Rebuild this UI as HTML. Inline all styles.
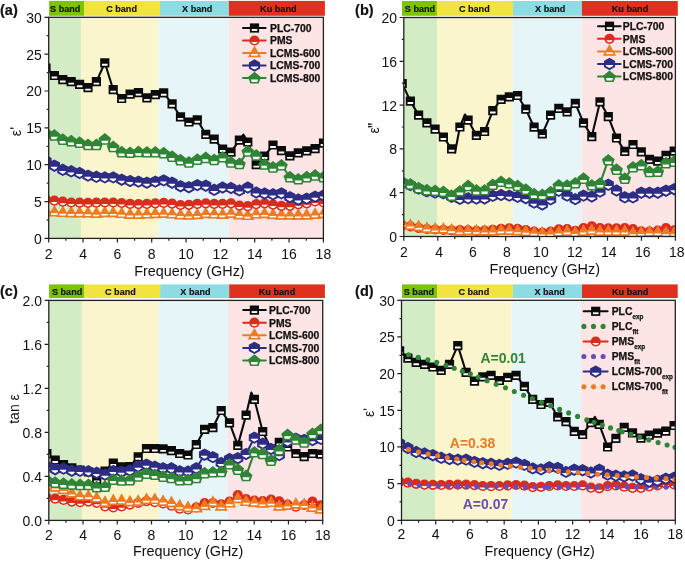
<!DOCTYPE html><html><head><meta charset="utf-8"><style>html,body{margin:0;padding:0;background:#fff;}svg{display:block;font-family:"Liberation Sans",sans-serif;will-change:transform;}</style></head><body>
<svg width="685" height="561" viewBox="0 0 685 561">
<defs>
<clipPath id="clipa"><rect x="48.7" y="17.3" width="274.70" height="221.10"/></clipPath>
<clipPath id="clipb"><rect x="403.8" y="17.5" width="271.60" height="219.00"/></clipPath>
<clipPath id="clipc"><rect x="48.8" y="300.4" width="273.90" height="220.00"/></clipPath>
<clipPath id="clipd"><rect x="401.5" y="300.3" width="273.80" height="220.00"/></clipPath>
</defs>
<rect x="48.70" y="17.30" width="32.20" height="221.10" fill="#d3ecc5"/>
<rect x="80.90" y="17.30" width="77.50" height="221.10" fill="#faf5cd"/>
<rect x="158.40" y="17.30" width="70.50" height="221.10" fill="#e6f5f8"/>
<rect x="228.90" y="17.30" width="94.50" height="221.10" fill="#fde4e5"/>
<rect x="49.10" y="0.90" width="35.10" height="14.90" fill="#7dc400"/>
<text transform="translate(65.25 12.00) scale(1 1.08)" font-size="9.1" font-weight="bold" text-anchor="middle" fill="#111" stroke="#111" stroke-width="0.15">S band</text>
<rect x="84.20" y="0.90" width="75.80" height="14.90" fill="#f2e440"/>
<text transform="translate(121.55 12.00) scale(1 1.08)" font-size="9.1" font-weight="bold" text-anchor="middle" fill="#111" stroke="#111" stroke-width="0.15">C band</text>
<rect x="160.00" y="0.90" width="68.90" height="14.90" fill="#8edce3"/>
<text transform="translate(197.20 12.00) scale(1 1.08)" font-size="9.1" font-weight="bold" text-anchor="middle" fill="#111" stroke="#111" stroke-width="0.15">X band</text>
<rect x="228.90" y="0.90" width="96.00" height="14.90" fill="#e0301f"/>
<text transform="translate(278.30 12.00) scale(1 1.08)" font-size="9.1" font-weight="bold" text-anchor="middle" fill="#111" stroke="#111" stroke-width="0.15">Ku band</text>
<g clip-path="url(#clipa)">
<path d="M45.96,68.00 L54.37,75.50 L62.78,79.60 L71.19,81.70 L79.60,84.30 L88.01,87.70 L96.42,81.70 L104.83,62.80 L113.24,89.70 L121.65,98.50 L130.06,94.20 L138.47,92.70 L146.88,97.90 L155.29,94.70 L163.70,92.80 L172.11,103.80 L180.52,116.90 L188.93,122.00 L197.34,119.80 L205.75,134.40 L214.16,139.20 L222.57,149.00 L230.98,152.20 L239.39,140.20 L243.40,134.50 L247.80,142.00 L256.21,164.70 L264.62,156.00 L273.03,145.00 L281.44,150.60 L289.85,155.90 L298.26,152.90 L306.67,150.90 L315.08,148.70 L323.49,143.10" fill="none" stroke="#0b0b0b" stroke-width="2.1" stroke-linejoin="round"/>
<path d="M41.4,63.4 L50.6,63.4 L50.6,72.6 L41.4,72.6Z" fill="#0b0b0b"/><path d="M43.2,69.0 L48.8,69.0 L48.8,70.9 L43.2,70.9Z" fill="#fff"/>
<path d="M49.8,70.9 L59.0,70.9 L59.0,80.1 L49.8,80.1Z" fill="#0b0b0b"/><path d="M51.6,76.5 L57.2,76.5 L57.2,78.4 L51.6,78.4Z" fill="#fff"/>
<path d="M58.2,75.0 L67.4,75.0 L67.4,84.2 L58.2,84.2Z" fill="#0b0b0b"/><path d="M60.0,80.6 L65.6,80.6 L65.6,82.5 L60.0,82.5Z" fill="#fff"/>
<path d="M66.6,77.1 L75.8,77.1 L75.8,86.3 L66.6,86.3Z" fill="#0b0b0b"/><path d="M68.4,82.7 L74.0,82.7 L74.0,84.6 L68.4,84.6Z" fill="#fff"/>
<path d="M75.0,79.7 L84.2,79.7 L84.2,88.9 L75.0,88.9Z" fill="#0b0b0b"/><path d="M76.8,85.3 L82.4,85.3 L82.4,87.2 L76.8,87.2Z" fill="#fff"/>
<path d="M83.4,83.1 L92.6,83.1 L92.6,92.3 L83.4,92.3Z" fill="#0b0b0b"/><path d="M85.2,88.7 L90.8,88.7 L90.8,90.6 L85.2,90.6Z" fill="#fff"/>
<path d="M91.8,77.1 L101.0,77.1 L101.0,86.3 L91.8,86.3Z" fill="#0b0b0b"/><path d="M93.6,82.7 L99.2,82.7 L99.2,84.6 L93.6,84.6Z" fill="#fff"/>
<path d="M100.2,58.2 L109.4,58.2 L109.4,67.4 L100.2,67.4Z" fill="#0b0b0b"/><path d="M102.0,63.8 L107.6,63.8 L107.6,65.7 L102.0,65.7Z" fill="#fff"/>
<path d="M108.6,85.1 L117.8,85.1 L117.8,94.3 L108.6,94.3Z" fill="#0b0b0b"/><path d="M110.4,90.7 L116.0,90.7 L116.0,92.6 L110.4,92.6Z" fill="#fff"/>
<path d="M117.1,93.9 L126.2,93.9 L126.2,103.1 L117.1,103.1Z" fill="#0b0b0b"/><path d="M118.9,99.5 L124.5,99.5 L124.5,101.4 L118.9,101.4Z" fill="#fff"/>
<path d="M125.5,89.6 L134.7,89.6 L134.7,98.8 L125.5,98.8Z" fill="#0b0b0b"/><path d="M127.3,95.2 L132.9,95.2 L132.9,97.1 L127.3,97.1Z" fill="#fff"/>
<path d="M133.9,88.1 L143.1,88.1 L143.1,97.3 L133.9,97.3Z" fill="#0b0b0b"/><path d="M135.7,93.7 L141.3,93.7 L141.3,95.6 L135.7,95.6Z" fill="#fff"/>
<path d="M142.3,93.3 L151.5,93.3 L151.5,102.5 L142.3,102.5Z" fill="#0b0b0b"/><path d="M144.1,98.9 L149.7,98.9 L149.7,100.8 L144.1,100.8Z" fill="#fff"/>
<path d="M150.7,90.1 L159.9,90.1 L159.9,99.3 L150.7,99.3Z" fill="#0b0b0b"/><path d="M152.5,95.7 L158.1,95.7 L158.1,97.6 L152.5,97.6Z" fill="#fff"/>
<path d="M159.1,88.2 L168.3,88.2 L168.3,97.4 L159.1,97.4Z" fill="#0b0b0b"/><path d="M160.9,93.8 L166.5,93.8 L166.5,95.7 L160.9,95.7Z" fill="#fff"/>
<path d="M167.5,99.2 L176.7,99.2 L176.7,108.4 L167.5,108.4Z" fill="#0b0b0b"/><path d="M169.3,104.8 L174.9,104.8 L174.9,106.7 L169.3,106.7Z" fill="#fff"/>
<path d="M175.9,112.3 L185.1,112.3 L185.1,121.5 L175.9,121.5Z" fill="#0b0b0b"/><path d="M177.7,117.9 L183.3,117.9 L183.3,119.8 L177.7,119.8Z" fill="#fff"/>
<path d="M184.3,117.4 L193.5,117.4 L193.5,126.6 L184.3,126.6Z" fill="#0b0b0b"/><path d="M186.1,123.0 L191.7,123.0 L191.7,124.9 L186.1,124.9Z" fill="#fff"/>
<path d="M192.7,115.2 L201.9,115.2 L201.9,124.4 L192.7,124.4Z" fill="#0b0b0b"/><path d="M194.5,120.8 L200.1,120.8 L200.1,122.7 L194.5,122.7Z" fill="#fff"/>
<path d="M201.2,129.8 L210.3,129.8 L210.3,139.0 L201.2,139.0Z" fill="#0b0b0b"/><path d="M202.9,135.4 L208.6,135.4 L208.6,137.3 L202.9,137.3Z" fill="#fff"/>
<path d="M209.6,134.6 L218.8,134.6 L218.8,143.8 L209.6,143.8Z" fill="#0b0b0b"/><path d="M211.4,140.2 L217.0,140.2 L217.0,142.1 L211.4,142.1Z" fill="#fff"/>
<path d="M218.0,144.4 L227.2,144.4 L227.2,153.6 L218.0,153.6Z" fill="#0b0b0b"/><path d="M219.8,150.0 L225.4,150.0 L225.4,151.9 L219.8,151.9Z" fill="#fff"/>
<path d="M226.4,147.6 L235.6,147.6 L235.6,156.8 L226.4,156.8Z" fill="#0b0b0b"/><path d="M228.2,153.2 L233.8,153.2 L233.8,155.1 L228.2,155.1Z" fill="#fff"/>
<path d="M234.8,135.6 L244.0,135.6 L244.0,144.8 L234.8,144.8Z" fill="#0b0b0b"/><path d="M236.6,141.2 L242.2,141.2 L242.2,143.1 L236.6,143.1Z" fill="#fff"/>
<path d="M243.2,137.4 L252.4,137.4 L252.4,146.6 L243.2,146.6Z" fill="#0b0b0b"/><path d="M245.0,143.0 L250.6,143.0 L250.6,144.9 L245.0,144.9Z" fill="#fff"/>
<path d="M251.6,160.1 L260.8,160.1 L260.8,169.3 L251.6,169.3Z" fill="#0b0b0b"/><path d="M253.4,165.7 L259.0,165.7 L259.0,167.6 L253.4,167.6Z" fill="#fff"/>
<path d="M260.0,151.4 L269.2,151.4 L269.2,160.6 L260.0,160.6Z" fill="#0b0b0b"/><path d="M261.8,157.0 L267.4,157.0 L267.4,158.9 L261.8,158.9Z" fill="#fff"/>
<path d="M268.4,140.4 L277.6,140.4 L277.6,149.6 L268.4,149.6Z" fill="#0b0b0b"/><path d="M270.2,146.0 L275.8,146.0 L275.8,147.9 L270.2,147.9Z" fill="#fff"/>
<path d="M276.8,146.0 L286.0,146.0 L286.0,155.2 L276.8,155.2Z" fill="#0b0b0b"/><path d="M278.6,151.6 L284.2,151.6 L284.2,153.5 L278.6,153.5Z" fill="#fff"/>
<path d="M285.2,151.3 L294.5,151.3 L294.5,160.5 L285.2,160.5Z" fill="#0b0b0b"/><path d="M287.1,156.9 L292.7,156.9 L292.7,158.8 L287.1,158.8Z" fill="#fff"/>
<path d="M293.7,148.3 L302.9,148.3 L302.9,157.5 L293.7,157.5Z" fill="#0b0b0b"/><path d="M295.5,153.9 L301.1,153.9 L301.1,155.8 L295.5,155.8Z" fill="#fff"/>
<path d="M302.1,146.3 L311.3,146.3 L311.3,155.5 L302.1,155.5Z" fill="#0b0b0b"/><path d="M303.9,151.9 L309.5,151.9 L309.5,153.8 L303.9,153.8Z" fill="#fff"/>
<path d="M310.5,144.1 L319.7,144.1 L319.7,153.3 L310.5,153.3Z" fill="#0b0b0b"/><path d="M312.3,149.7 L317.9,149.7 L317.9,151.6 L312.3,151.6Z" fill="#fff"/>
<path d="M318.9,138.5 L328.1,138.5 L328.1,147.7 L318.9,147.7Z" fill="#0b0b0b"/><path d="M320.7,144.1 L326.3,144.1 L326.3,146.0 L320.7,146.0Z" fill="#fff"/>
<path d="M45.96,211.50 L54.37,212.30 L62.78,212.80 L71.19,213.10 L79.60,213.10 L88.01,213.30 L96.42,213.70 L104.83,212.90 L113.24,212.90 L121.65,213.80 L130.06,214.60 L138.47,214.60 L146.88,214.30 L155.29,213.90 L163.70,213.70 L172.11,214.30 L180.52,215.10 L188.93,215.40 L197.34,215.00 L205.75,213.90 L214.16,214.30 L222.57,214.60 L230.98,213.70 L239.39,215.10 L247.80,215.80 L256.21,214.30 L264.62,213.90 L273.03,215.00 L281.44,215.50 L289.85,215.50 L298.26,215.50 L306.67,215.50 L315.08,214.60 L323.49,213.80" fill="none" stroke="#ee7b22" stroke-width="2.1" stroke-linejoin="round"/>
<path d="M46.0,204.1 L52.6,215.8 L39.4,215.8Z" fill="#ee7b22"/><path d="M42.6,212.5 L49.4,212.5 L49.4,214.1 L42.6,214.1Z" fill="#fff"/>
<path d="M54.4,204.9 L61.0,216.6 L47.8,216.6Z" fill="#ee7b22"/><path d="M51.0,213.3 L57.8,213.3 L57.8,214.9 L51.0,214.9Z" fill="#fff"/>
<path d="M62.8,205.4 L69.4,217.1 L56.2,217.1Z" fill="#ee7b22"/><path d="M59.4,213.8 L66.2,213.8 L66.2,215.4 L59.4,215.4Z" fill="#fff"/>
<path d="M71.2,205.7 L77.8,217.4 L64.6,217.4Z" fill="#ee7b22"/><path d="M67.8,214.1 L74.6,214.1 L74.6,215.7 L67.8,215.7Z" fill="#fff"/>
<path d="M79.6,205.7 L86.2,217.4 L73.0,217.4Z" fill="#ee7b22"/><path d="M76.2,214.1 L83.0,214.1 L83.0,215.7 L76.2,215.7Z" fill="#fff"/>
<path d="M88.0,205.9 L94.6,217.6 L81.4,217.6Z" fill="#ee7b22"/><path d="M84.6,214.3 L91.4,214.3 L91.4,215.9 L84.6,215.9Z" fill="#fff"/>
<path d="M96.4,206.3 L103.0,218.0 L89.8,218.0Z" fill="#ee7b22"/><path d="M93.0,214.7 L99.8,214.7 L99.8,216.3 L93.0,216.3Z" fill="#fff"/>
<path d="M104.8,205.5 L111.4,217.2 L98.2,217.2Z" fill="#ee7b22"/><path d="M101.4,213.9 L108.2,213.9 L108.2,215.5 L101.4,215.5Z" fill="#fff"/>
<path d="M113.2,205.5 L119.8,217.2 L106.6,217.2Z" fill="#ee7b22"/><path d="M109.8,213.9 L116.6,213.9 L116.6,215.5 L109.8,215.5Z" fill="#fff"/>
<path d="M121.7,206.4 L128.2,218.1 L115.1,218.1Z" fill="#ee7b22"/><path d="M118.2,214.8 L125.1,214.8 L125.1,216.4 L118.2,216.4Z" fill="#fff"/>
<path d="M130.1,207.2 L136.7,218.9 L123.5,218.9Z" fill="#ee7b22"/><path d="M126.7,215.6 L133.5,215.6 L133.5,217.2 L126.7,217.2Z" fill="#fff"/>
<path d="M138.5,207.2 L145.1,218.9 L131.9,218.9Z" fill="#ee7b22"/><path d="M135.1,215.6 L141.9,215.6 L141.9,217.2 L135.1,217.2Z" fill="#fff"/>
<path d="M146.9,206.9 L153.5,218.6 L140.3,218.6Z" fill="#ee7b22"/><path d="M143.5,215.3 L150.3,215.3 L150.3,216.9 L143.5,216.9Z" fill="#fff"/>
<path d="M155.3,206.5 L161.9,218.2 L148.7,218.2Z" fill="#ee7b22"/><path d="M151.9,214.9 L158.7,214.9 L158.7,216.5 L151.9,216.5Z" fill="#fff"/>
<path d="M163.7,206.3 L170.3,218.0 L157.1,218.0Z" fill="#ee7b22"/><path d="M160.3,214.7 L167.1,214.7 L167.1,216.3 L160.3,216.3Z" fill="#fff"/>
<path d="M172.1,206.9 L178.7,218.6 L165.5,218.6Z" fill="#ee7b22"/><path d="M168.7,215.3 L175.5,215.3 L175.5,216.9 L168.7,216.9Z" fill="#fff"/>
<path d="M180.5,207.7 L187.1,219.4 L173.9,219.4Z" fill="#ee7b22"/><path d="M177.1,216.1 L183.9,216.1 L183.9,217.7 L177.1,217.7Z" fill="#fff"/>
<path d="M188.9,208.0 L195.5,219.7 L182.3,219.7Z" fill="#ee7b22"/><path d="M185.5,216.4 L192.3,216.4 L192.3,218.0 L185.5,218.0Z" fill="#fff"/>
<path d="M197.3,207.6 L203.9,219.3 L190.7,219.3Z" fill="#ee7b22"/><path d="M193.9,216.0 L200.7,216.0 L200.7,217.6 L193.9,217.6Z" fill="#fff"/>
<path d="M205.8,206.5 L212.3,218.2 L199.2,218.2Z" fill="#ee7b22"/><path d="M202.3,214.9 L209.2,214.9 L209.2,216.5 L202.3,216.5Z" fill="#fff"/>
<path d="M214.2,206.9 L220.8,218.6 L207.6,218.6Z" fill="#ee7b22"/><path d="M210.8,215.3 L217.6,215.3 L217.6,216.9 L210.8,216.9Z" fill="#fff"/>
<path d="M222.6,207.2 L229.2,218.9 L216.0,218.9Z" fill="#ee7b22"/><path d="M219.2,215.6 L226.0,215.6 L226.0,217.2 L219.2,217.2Z" fill="#fff"/>
<path d="M231.0,206.3 L237.6,218.0 L224.4,218.0Z" fill="#ee7b22"/><path d="M227.6,214.7 L234.4,214.7 L234.4,216.3 L227.6,216.3Z" fill="#fff"/>
<path d="M239.4,207.7 L246.0,219.4 L232.8,219.4Z" fill="#ee7b22"/><path d="M236.0,216.1 L242.8,216.1 L242.8,217.7 L236.0,217.7Z" fill="#fff"/>
<path d="M247.8,208.4 L254.4,220.1 L241.2,220.1Z" fill="#ee7b22"/><path d="M244.4,216.8 L251.2,216.8 L251.2,218.4 L244.4,218.4Z" fill="#fff"/>
<path d="M256.2,206.9 L262.8,218.6 L249.6,218.6Z" fill="#ee7b22"/><path d="M252.8,215.3 L259.6,215.3 L259.6,216.9 L252.8,216.9Z" fill="#fff"/>
<path d="M264.6,206.5 L271.2,218.2 L258.0,218.2Z" fill="#ee7b22"/><path d="M261.2,214.9 L268.0,214.9 L268.0,216.5 L261.2,216.5Z" fill="#fff"/>
<path d="M273.0,207.6 L279.6,219.3 L266.4,219.3Z" fill="#ee7b22"/><path d="M269.6,216.0 L276.4,216.0 L276.4,217.6 L269.6,217.6Z" fill="#fff"/>
<path d="M281.4,208.1 L288.0,219.8 L274.8,219.8Z" fill="#ee7b22"/><path d="M278.0,216.5 L284.8,216.5 L284.8,218.1 L278.0,218.1Z" fill="#fff"/>
<path d="M289.9,208.1 L296.5,219.8 L283.2,219.8Z" fill="#ee7b22"/><path d="M286.5,216.5 L293.2,216.5 L293.2,218.1 L286.5,218.1Z" fill="#fff"/>
<path d="M298.3,208.1 L304.9,219.8 L291.7,219.8Z" fill="#ee7b22"/><path d="M294.9,216.5 L301.7,216.5 L301.7,218.1 L294.9,218.1Z" fill="#fff"/>
<path d="M306.7,208.1 L313.3,219.8 L300.1,219.8Z" fill="#ee7b22"/><path d="M303.3,216.5 L310.1,216.5 L310.1,218.1 L303.3,218.1Z" fill="#fff"/>
<path d="M315.1,207.2 L321.7,218.9 L308.5,218.9Z" fill="#ee7b22"/><path d="M311.7,215.6 L318.5,215.6 L318.5,217.2 L311.7,217.2Z" fill="#fff"/>
<path d="M323.5,206.4 L330.1,218.1 L316.9,218.1Z" fill="#ee7b22"/><path d="M320.1,214.8 L326.9,214.8 L326.9,216.4 L320.1,216.4Z" fill="#fff"/>
<path d="M45.96,199.50 L54.37,200.60 L62.78,201.70 L71.19,202.50 L79.60,202.70 L88.01,202.90 L96.42,202.70 L104.83,202.50 L113.24,202.50 L121.65,203.00 L130.06,203.90 L138.47,204.10 L146.88,203.90 L155.29,203.30 L163.70,202.90 L172.11,203.60 L180.52,205.00 L188.93,204.80 L197.34,203.90 L205.75,203.30 L214.16,203.90 L222.57,203.90 L230.98,203.30 L239.39,205.60 L247.80,206.20 L256.21,204.10 L264.62,203.30 L273.03,204.60 L281.44,205.80 L289.85,205.80 L298.26,204.30 L306.67,203.30 L315.08,201.50 L323.49,202.40" fill="none" stroke="#da2c1c" stroke-width="2.1" stroke-linejoin="round"/>
<circle cx="46.0" cy="199.5" r="5.1" fill="#da2c1c"/><path d="M42.69,201.00 L49.23,201.00 A3.6,3.6 0 0 1 42.69,201.00Z" fill="#fff"/>
<circle cx="54.4" cy="200.6" r="5.1" fill="#da2c1c"/><path d="M51.10,202.10 L57.64,202.10 A3.6,3.6 0 0 1 51.10,202.10Z" fill="#fff"/>
<circle cx="62.8" cy="201.7" r="5.1" fill="#da2c1c"/><path d="M59.51,203.20 L66.05,203.20 A3.6,3.6 0 0 1 59.51,203.20Z" fill="#fff"/>
<circle cx="71.2" cy="202.5" r="5.1" fill="#da2c1c"/><path d="M67.92,204.00 L74.46,204.00 A3.6,3.6 0 0 1 67.92,204.00Z" fill="#fff"/>
<circle cx="79.6" cy="202.7" r="5.1" fill="#da2c1c"/><path d="M76.33,204.20 L82.87,204.20 A3.6,3.6 0 0 1 76.33,204.20Z" fill="#fff"/>
<circle cx="88.0" cy="202.9" r="5.1" fill="#da2c1c"/><path d="M84.74,204.40 L91.28,204.40 A3.6,3.6 0 0 1 84.74,204.40Z" fill="#fff"/>
<circle cx="96.4" cy="202.7" r="5.1" fill="#da2c1c"/><path d="M93.15,204.20 L99.69,204.20 A3.6,3.6 0 0 1 93.15,204.20Z" fill="#fff"/>
<circle cx="104.8" cy="202.5" r="5.1" fill="#da2c1c"/><path d="M101.56,204.00 L108.10,204.00 A3.6,3.6 0 0 1 101.56,204.00Z" fill="#fff"/>
<circle cx="113.2" cy="202.5" r="5.1" fill="#da2c1c"/><path d="M109.97,204.00 L116.51,204.00 A3.6,3.6 0 0 1 109.97,204.00Z" fill="#fff"/>
<circle cx="121.7" cy="203.0" r="5.1" fill="#da2c1c"/><path d="M118.38,204.50 L124.92,204.50 A3.6,3.6 0 0 1 118.38,204.50Z" fill="#fff"/>
<circle cx="130.1" cy="203.9" r="5.1" fill="#da2c1c"/><path d="M126.79,205.40 L133.33,205.40 A3.6,3.6 0 0 1 126.79,205.40Z" fill="#fff"/>
<circle cx="138.5" cy="204.1" r="5.1" fill="#da2c1c"/><path d="M135.20,205.60 L141.74,205.60 A3.6,3.6 0 0 1 135.20,205.60Z" fill="#fff"/>
<circle cx="146.9" cy="203.9" r="5.1" fill="#da2c1c"/><path d="M143.61,205.40 L150.15,205.40 A3.6,3.6 0 0 1 143.61,205.40Z" fill="#fff"/>
<circle cx="155.3" cy="203.3" r="5.1" fill="#da2c1c"/><path d="M152.02,204.80 L158.56,204.80 A3.6,3.6 0 0 1 152.02,204.80Z" fill="#fff"/>
<circle cx="163.7" cy="202.9" r="5.1" fill="#da2c1c"/><path d="M160.43,204.40 L166.97,204.40 A3.6,3.6 0 0 1 160.43,204.40Z" fill="#fff"/>
<circle cx="172.1" cy="203.6" r="5.1" fill="#da2c1c"/><path d="M168.84,205.10 L175.38,205.10 A3.6,3.6 0 0 1 168.84,205.10Z" fill="#fff"/>
<circle cx="180.5" cy="205.0" r="5.1" fill="#da2c1c"/><path d="M177.25,206.50 L183.79,206.50 A3.6,3.6 0 0 1 177.25,206.50Z" fill="#fff"/>
<circle cx="188.9" cy="204.8" r="5.1" fill="#da2c1c"/><path d="M185.66,206.30 L192.20,206.30 A3.6,3.6 0 0 1 185.66,206.30Z" fill="#fff"/>
<circle cx="197.3" cy="203.9" r="5.1" fill="#da2c1c"/><path d="M194.07,205.40 L200.61,205.40 A3.6,3.6 0 0 1 194.07,205.40Z" fill="#fff"/>
<circle cx="205.8" cy="203.3" r="5.1" fill="#da2c1c"/><path d="M202.48,204.80 L209.02,204.80 A3.6,3.6 0 0 1 202.48,204.80Z" fill="#fff"/>
<circle cx="214.2" cy="203.9" r="5.1" fill="#da2c1c"/><path d="M210.89,205.40 L217.43,205.40 A3.6,3.6 0 0 1 210.89,205.40Z" fill="#fff"/>
<circle cx="222.6" cy="203.9" r="5.1" fill="#da2c1c"/><path d="M219.30,205.40 L225.84,205.40 A3.6,3.6 0 0 1 219.30,205.40Z" fill="#fff"/>
<circle cx="231.0" cy="203.3" r="5.1" fill="#da2c1c"/><path d="M227.71,204.80 L234.25,204.80 A3.6,3.6 0 0 1 227.71,204.80Z" fill="#fff"/>
<circle cx="239.4" cy="205.6" r="5.1" fill="#da2c1c"/><path d="M236.12,207.10 L242.66,207.10 A3.6,3.6 0 0 1 236.12,207.10Z" fill="#fff"/>
<circle cx="247.8" cy="206.2" r="5.1" fill="#da2c1c"/><path d="M244.53,207.70 L251.07,207.70 A3.6,3.6 0 0 1 244.53,207.70Z" fill="#fff"/>
<circle cx="256.2" cy="204.1" r="5.1" fill="#da2c1c"/><path d="M252.94,205.60 L259.48,205.60 A3.6,3.6 0 0 1 252.94,205.60Z" fill="#fff"/>
<circle cx="264.6" cy="203.3" r="5.1" fill="#da2c1c"/><path d="M261.35,204.80 L267.89,204.80 A3.6,3.6 0 0 1 261.35,204.80Z" fill="#fff"/>
<circle cx="273.0" cy="204.6" r="5.1" fill="#da2c1c"/><path d="M269.76,206.10 L276.30,206.10 A3.6,3.6 0 0 1 269.76,206.10Z" fill="#fff"/>
<circle cx="281.4" cy="205.8" r="5.1" fill="#da2c1c"/><path d="M278.17,207.30 L284.71,207.30 A3.6,3.6 0 0 1 278.17,207.30Z" fill="#fff"/>
<circle cx="289.9" cy="205.8" r="5.1" fill="#da2c1c"/><path d="M286.58,207.30 L293.12,207.30 A3.6,3.6 0 0 1 286.58,207.30Z" fill="#fff"/>
<circle cx="298.3" cy="204.3" r="5.1" fill="#da2c1c"/><path d="M294.99,205.80 L301.53,205.80 A3.6,3.6 0 0 1 294.99,205.80Z" fill="#fff"/>
<circle cx="306.7" cy="203.3" r="5.1" fill="#da2c1c"/><path d="M303.40,204.80 L309.94,204.80 A3.6,3.6 0 0 1 303.40,204.80Z" fill="#fff"/>
<circle cx="315.1" cy="201.5" r="5.1" fill="#da2c1c"/><path d="M311.81,203.00 L318.35,203.00 A3.6,3.6 0 0 1 311.81,203.00Z" fill="#fff"/>
<circle cx="323.5" cy="202.4" r="5.1" fill="#da2c1c"/><path d="M320.22,203.90 L326.76,203.90 A3.6,3.6 0 0 1 320.22,203.90Z" fill="#fff"/>
<path d="M45.96,161.00 L54.37,165.70 L62.78,169.80 L71.19,171.30 L79.60,173.00 L88.01,175.60 L96.42,176.80 L104.83,177.40 L113.24,177.40 L121.65,179.70 L130.06,181.00 L138.47,181.60 L146.88,182.70 L155.29,181.60 L163.70,180.40 L172.11,182.70 L180.52,186.20 L188.93,187.20 L197.34,185.10 L205.75,185.70 L214.16,189.80 L222.57,187.50 L230.98,188.00 L239.39,190.40 L247.80,187.50 L256.21,192.50 L264.62,193.50 L273.03,194.30 L281.44,193.40 L289.85,197.10 L298.26,199.50 L306.67,198.60 L315.08,196.60 L323.49,195.50" fill="none" stroke="#2e2d85" stroke-width="2.1" stroke-linejoin="round"/>
<path d="M46.0,154.8 L51.6,157.9 L51.6,164.1 L46.0,167.2 L40.4,164.1 L40.4,157.9Z" fill="#2e2d85"/><path d="M42.4,162.1 L49.6,162.1 L49.6,162.9 L46.0,165.1 L42.4,162.9Z" fill="#fff"/>
<path d="M54.4,159.5 L60.0,162.6 L60.0,168.8 L54.4,171.9 L48.8,168.8 L48.8,162.6Z" fill="#2e2d85"/><path d="M50.8,166.8 L58.0,166.8 L58.0,167.6 L54.4,169.8 L50.8,167.6Z" fill="#fff"/>
<path d="M62.8,163.6 L68.4,166.7 L68.4,172.9 L62.8,176.0 L57.2,172.9 L57.2,166.7Z" fill="#2e2d85"/><path d="M59.2,170.9 L66.4,170.9 L66.4,171.7 L62.8,173.9 L59.2,171.7Z" fill="#fff"/>
<path d="M71.2,165.1 L76.8,168.2 L76.8,174.4 L71.2,177.5 L65.6,174.4 L65.6,168.2Z" fill="#2e2d85"/><path d="M67.6,172.4 L74.8,172.4 L74.8,173.2 L71.2,175.4 L67.6,173.2Z" fill="#fff"/>
<path d="M79.6,166.8 L85.2,169.9 L85.2,176.1 L79.6,179.2 L74.0,176.1 L74.0,169.9Z" fill="#2e2d85"/><path d="M76.0,174.1 L83.2,174.1 L83.2,174.9 L79.6,177.1 L76.0,174.9Z" fill="#fff"/>
<path d="M88.0,169.4 L93.6,172.5 L93.6,178.7 L88.0,181.8 L82.4,178.7 L82.4,172.5Z" fill="#2e2d85"/><path d="M84.4,176.7 L91.6,176.7 L91.6,177.5 L88.0,179.7 L84.4,177.5Z" fill="#fff"/>
<path d="M96.4,170.6 L102.0,173.7 L102.0,179.9 L96.4,183.0 L90.8,179.9 L90.8,173.7Z" fill="#2e2d85"/><path d="M92.8,177.9 L100.0,177.9 L100.0,178.7 L96.4,180.9 L92.8,178.7Z" fill="#fff"/>
<path d="M104.8,171.2 L110.4,174.3 L110.4,180.5 L104.8,183.6 L99.2,180.5 L99.2,174.3Z" fill="#2e2d85"/><path d="M101.2,178.5 L108.4,178.5 L108.4,179.3 L104.8,181.5 L101.2,179.3Z" fill="#fff"/>
<path d="M113.2,171.2 L118.8,174.3 L118.8,180.5 L113.2,183.6 L107.6,180.5 L107.6,174.3Z" fill="#2e2d85"/><path d="M109.6,178.5 L116.8,178.5 L116.8,179.3 L113.2,181.5 L109.6,179.3Z" fill="#fff"/>
<path d="M121.7,173.5 L127.2,176.6 L127.2,182.8 L121.7,185.9 L116.1,182.8 L116.1,176.6Z" fill="#2e2d85"/><path d="M118.1,180.8 L125.2,180.8 L125.2,181.6 L121.7,183.8 L118.1,181.6Z" fill="#fff"/>
<path d="M130.1,174.8 L135.7,177.9 L135.7,184.1 L130.1,187.2 L124.5,184.1 L124.5,177.9Z" fill="#2e2d85"/><path d="M126.5,182.1 L133.7,182.1 L133.7,182.9 L130.1,185.1 L126.5,182.9Z" fill="#fff"/>
<path d="M138.5,175.4 L144.1,178.5 L144.1,184.7 L138.5,187.8 L132.9,184.7 L132.9,178.5Z" fill="#2e2d85"/><path d="M134.9,182.7 L142.1,182.7 L142.1,183.5 L138.5,185.7 L134.9,183.5Z" fill="#fff"/>
<path d="M146.9,176.5 L152.5,179.6 L152.5,185.8 L146.9,188.9 L141.3,185.8 L141.3,179.6Z" fill="#2e2d85"/><path d="M143.3,183.8 L150.5,183.8 L150.5,184.6 L146.9,186.8 L143.3,184.6Z" fill="#fff"/>
<path d="M155.3,175.4 L160.9,178.5 L160.9,184.7 L155.3,187.8 L149.7,184.7 L149.7,178.5Z" fill="#2e2d85"/><path d="M151.7,182.7 L158.9,182.7 L158.9,183.5 L155.3,185.7 L151.7,183.5Z" fill="#fff"/>
<path d="M163.7,174.2 L169.3,177.3 L169.3,183.5 L163.7,186.6 L158.1,183.5 L158.1,177.3Z" fill="#2e2d85"/><path d="M160.1,181.5 L167.3,181.5 L167.3,182.3 L163.7,184.5 L160.1,182.3Z" fill="#fff"/>
<path d="M172.1,176.5 L177.7,179.6 L177.7,185.8 L172.1,188.9 L166.5,185.8 L166.5,179.6Z" fill="#2e2d85"/><path d="M168.5,183.8 L175.7,183.8 L175.7,184.6 L172.1,186.8 L168.5,184.6Z" fill="#fff"/>
<path d="M180.5,180.0 L186.1,183.1 L186.1,189.3 L180.5,192.4 L174.9,189.3 L174.9,183.1Z" fill="#2e2d85"/><path d="M176.9,187.3 L184.1,187.3 L184.1,188.1 L180.5,190.3 L176.9,188.1Z" fill="#fff"/>
<path d="M188.9,181.0 L194.5,184.1 L194.5,190.3 L188.9,193.4 L183.3,190.3 L183.3,184.1Z" fill="#2e2d85"/><path d="M185.3,188.3 L192.5,188.3 L192.5,189.1 L188.9,191.3 L185.3,189.1Z" fill="#fff"/>
<path d="M197.3,178.9 L202.9,182.0 L202.9,188.2 L197.3,191.3 L191.7,188.2 L191.7,182.0Z" fill="#2e2d85"/><path d="M193.7,186.2 L200.9,186.2 L200.9,187.0 L197.3,189.2 L193.7,187.0Z" fill="#fff"/>
<path d="M205.8,179.5 L211.3,182.6 L211.3,188.8 L205.8,191.9 L200.2,188.8 L200.2,182.6Z" fill="#2e2d85"/><path d="M202.2,186.8 L209.3,186.8 L209.3,187.6 L205.8,189.8 L202.2,187.6Z" fill="#fff"/>
<path d="M214.2,183.6 L219.8,186.7 L219.8,192.9 L214.2,196.0 L208.6,192.9 L208.6,186.7Z" fill="#2e2d85"/><path d="M210.6,190.9 L217.8,190.9 L217.8,191.7 L214.2,193.9 L210.6,191.7Z" fill="#fff"/>
<path d="M222.6,181.3 L228.2,184.4 L228.2,190.6 L222.6,193.7 L217.0,190.6 L217.0,184.4Z" fill="#2e2d85"/><path d="M219.0,188.6 L226.2,188.6 L226.2,189.4 L222.6,191.6 L219.0,189.4Z" fill="#fff"/>
<path d="M231.0,181.8 L236.6,184.9 L236.6,191.1 L231.0,194.2 L225.4,191.1 L225.4,184.9Z" fill="#2e2d85"/><path d="M227.4,189.1 L234.6,189.1 L234.6,189.9 L231.0,192.1 L227.4,189.9Z" fill="#fff"/>
<path d="M239.4,184.2 L245.0,187.3 L245.0,193.5 L239.4,196.6 L233.8,193.5 L233.8,187.3Z" fill="#2e2d85"/><path d="M235.8,191.5 L243.0,191.5 L243.0,192.3 L239.4,194.5 L235.8,192.3Z" fill="#fff"/>
<path d="M247.8,181.3 L253.4,184.4 L253.4,190.6 L247.8,193.7 L242.2,190.6 L242.2,184.4Z" fill="#2e2d85"/><path d="M244.2,188.6 L251.4,188.6 L251.4,189.4 L247.8,191.6 L244.2,189.4Z" fill="#fff"/>
<path d="M256.2,186.3 L261.8,189.4 L261.8,195.6 L256.2,198.7 L250.6,195.6 L250.6,189.4Z" fill="#2e2d85"/><path d="M252.6,193.6 L259.8,193.6 L259.8,194.4 L256.2,196.6 L252.6,194.4Z" fill="#fff"/>
<path d="M264.6,187.3 L270.2,190.4 L270.2,196.6 L264.6,199.7 L259.0,196.6 L259.0,190.4Z" fill="#2e2d85"/><path d="M261.0,194.6 L268.2,194.6 L268.2,195.4 L264.6,197.6 L261.0,195.4Z" fill="#fff"/>
<path d="M273.0,188.1 L278.6,191.2 L278.6,197.4 L273.0,200.5 L267.4,197.4 L267.4,191.2Z" fill="#2e2d85"/><path d="M269.4,195.4 L276.6,195.4 L276.6,196.2 L273.0,198.4 L269.4,196.2Z" fill="#fff"/>
<path d="M281.4,187.2 L287.0,190.3 L287.0,196.5 L281.4,199.6 L275.8,196.5 L275.8,190.3Z" fill="#2e2d85"/><path d="M277.8,194.5 L285.0,194.5 L285.0,195.3 L281.4,197.5 L277.8,195.3Z" fill="#fff"/>
<path d="M289.9,190.9 L295.5,194.0 L295.5,200.2 L289.9,203.3 L284.2,200.2 L284.2,194.0Z" fill="#2e2d85"/><path d="M286.2,198.2 L293.5,198.2 L293.5,199.0 L289.9,201.2 L286.2,199.0Z" fill="#fff"/>
<path d="M298.3,193.3 L303.9,196.4 L303.9,202.6 L298.3,205.7 L292.7,202.6 L292.7,196.4Z" fill="#2e2d85"/><path d="M294.7,200.6 L301.9,200.6 L301.9,201.4 L298.3,203.6 L294.7,201.4Z" fill="#fff"/>
<path d="M306.7,192.4 L312.3,195.5 L312.3,201.7 L306.7,204.8 L301.1,201.7 L301.1,195.5Z" fill="#2e2d85"/><path d="M303.1,199.7 L310.3,199.7 L310.3,200.5 L306.7,202.7 L303.1,200.5Z" fill="#fff"/>
<path d="M315.1,190.4 L320.7,193.5 L320.7,199.7 L315.1,202.8 L309.5,199.7 L309.5,193.5Z" fill="#2e2d85"/><path d="M311.5,197.7 L318.7,197.7 L318.7,198.5 L315.1,200.7 L311.5,198.5Z" fill="#fff"/>
<path d="M323.5,189.3 L329.1,192.4 L329.1,198.6 L323.5,201.7 L317.9,198.6 L317.9,192.4Z" fill="#2e2d85"/><path d="M319.9,196.6 L327.1,196.6 L327.1,197.4 L323.5,199.6 L319.9,197.4Z" fill="#fff"/>
<path d="M45.96,133.00 L54.37,135.30 L62.78,139.40 L71.19,141.00 L79.60,142.40 L88.01,144.70 L96.42,144.70 L104.83,139.20 L113.24,146.70 L121.65,151.90 L130.06,152.60 L138.47,151.80 L146.88,152.10 L155.29,152.10 L163.70,152.90 L172.11,156.40 L180.52,159.90 L188.93,162.20 L197.34,159.40 L205.75,157.70 L214.16,159.80 L222.57,157.10 L230.98,162.30 L239.39,163.70 L247.80,151.20 L256.21,155.30 L264.62,164.30 L273.03,167.20 L281.44,165.10 L289.85,177.00 L298.26,179.10 L306.67,177.00 L315.08,175.30 L323.49,177.00" fill="none" stroke="#2f8535" stroke-width="2.1" stroke-linejoin="round"/>
<path d="M46.0,126.8 L52.4,132.1 L50.2,138.5 L41.8,138.5 L39.6,132.1Z" fill="#2f8535"/><path d="M42.5,134.5 L49.5,134.5 L48.8,137.0 L43.2,137.0Z" fill="#fff"/>
<path d="M54.4,129.1 L60.8,134.4 L58.6,140.8 L50.2,140.8 L48.0,134.4Z" fill="#2f8535"/><path d="M50.9,136.8 L57.9,136.8 L57.2,139.3 L51.6,139.3Z" fill="#fff"/>
<path d="M62.8,133.2 L69.2,138.5 L67.0,144.9 L58.6,144.9 L56.4,138.5Z" fill="#2f8535"/><path d="M59.3,140.9 L66.3,140.9 L65.6,143.4 L60.0,143.4Z" fill="#fff"/>
<path d="M71.2,134.8 L77.6,140.1 L75.4,146.5 L67.0,146.5 L64.8,140.1Z" fill="#2f8535"/><path d="M67.7,142.5 L74.7,142.5 L74.0,145.0 L68.4,145.0Z" fill="#fff"/>
<path d="M79.6,136.2 L86.0,141.5 L83.8,147.9 L75.4,147.9 L73.2,141.5Z" fill="#2f8535"/><path d="M76.1,143.9 L83.1,143.9 L82.4,146.4 L76.8,146.4Z" fill="#fff"/>
<path d="M88.0,138.5 L94.4,143.8 L92.2,150.2 L83.8,150.2 L81.6,143.8Z" fill="#2f8535"/><path d="M84.5,146.2 L91.5,146.2 L90.8,148.7 L85.2,148.7Z" fill="#fff"/>
<path d="M96.4,138.5 L102.8,143.8 L100.6,150.2 L92.2,150.2 L90.0,143.8Z" fill="#2f8535"/><path d="M92.9,146.2 L99.9,146.2 L99.2,148.7 L93.6,148.7Z" fill="#fff"/>
<path d="M104.8,133.0 L111.2,138.3 L109.0,144.7 L100.6,144.7 L98.4,138.3Z" fill="#2f8535"/><path d="M101.3,140.7 L108.3,140.7 L107.6,143.2 L102.0,143.2Z" fill="#fff"/>
<path d="M113.2,140.5 L119.6,145.8 L117.4,152.2 L109.0,152.2 L106.8,145.8Z" fill="#2f8535"/><path d="M109.7,148.2 L116.7,148.2 L116.0,150.7 L110.4,150.7Z" fill="#fff"/>
<path d="M121.7,145.7 L128.1,151.0 L125.9,157.4 L117.5,157.4 L115.2,151.0Z" fill="#2f8535"/><path d="M118.2,153.4 L125.2,153.4 L124.5,155.9 L118.9,155.9Z" fill="#fff"/>
<path d="M130.1,146.4 L136.5,151.7 L134.3,158.1 L125.9,158.1 L123.7,151.7Z" fill="#2f8535"/><path d="M126.6,154.1 L133.6,154.1 L132.9,156.6 L127.3,156.6Z" fill="#fff"/>
<path d="M138.5,145.6 L144.9,150.9 L142.7,157.3 L134.3,157.3 L132.1,150.9Z" fill="#2f8535"/><path d="M135.0,153.3 L142.0,153.3 L141.3,155.8 L135.7,155.8Z" fill="#fff"/>
<path d="M146.9,145.9 L153.3,151.2 L151.1,157.6 L142.7,157.6 L140.5,151.2Z" fill="#2f8535"/><path d="M143.4,153.6 L150.4,153.6 L149.7,156.1 L144.1,156.1Z" fill="#fff"/>
<path d="M155.3,145.9 L161.7,151.2 L159.5,157.6 L151.1,157.6 L148.9,151.2Z" fill="#2f8535"/><path d="M151.8,153.6 L158.8,153.6 L158.1,156.1 L152.5,156.1Z" fill="#fff"/>
<path d="M163.7,146.7 L170.1,152.0 L167.9,158.4 L159.5,158.4 L157.3,152.0Z" fill="#2f8535"/><path d="M160.2,154.4 L167.2,154.4 L166.5,156.9 L160.9,156.9Z" fill="#fff"/>
<path d="M172.1,150.2 L178.5,155.5 L176.3,161.9 L167.9,161.9 L165.7,155.5Z" fill="#2f8535"/><path d="M168.6,157.9 L175.6,157.9 L174.9,160.4 L169.3,160.4Z" fill="#fff"/>
<path d="M180.5,153.7 L186.9,159.0 L184.7,165.4 L176.3,165.4 L174.1,159.0Z" fill="#2f8535"/><path d="M177.0,161.4 L184.0,161.4 L183.3,163.9 L177.7,163.9Z" fill="#fff"/>
<path d="M188.9,156.0 L195.3,161.3 L193.1,167.7 L184.7,167.7 L182.5,161.3Z" fill="#2f8535"/><path d="M185.4,163.7 L192.4,163.7 L191.7,166.2 L186.1,166.2Z" fill="#fff"/>
<path d="M197.3,153.2 L203.7,158.5 L201.5,164.9 L193.1,164.9 L190.9,158.5Z" fill="#2f8535"/><path d="M193.8,160.9 L200.8,160.9 L200.1,163.4 L194.5,163.4Z" fill="#fff"/>
<path d="M205.8,151.5 L212.2,156.8 L209.9,163.2 L201.6,163.2 L199.3,156.8Z" fill="#2f8535"/><path d="M202.2,159.2 L209.2,159.2 L208.6,161.7 L202.9,161.7Z" fill="#fff"/>
<path d="M214.2,153.6 L220.6,158.9 L218.4,165.3 L210.0,165.3 L207.8,158.9Z" fill="#2f8535"/><path d="M210.7,161.3 L217.7,161.3 L217.0,163.8 L211.4,163.8Z" fill="#fff"/>
<path d="M222.6,150.9 L229.0,156.2 L226.8,162.6 L218.4,162.6 L216.2,156.2Z" fill="#2f8535"/><path d="M219.1,158.6 L226.1,158.6 L225.4,161.1 L219.8,161.1Z" fill="#fff"/>
<path d="M231.0,156.1 L237.4,161.4 L235.2,167.8 L226.8,167.8 L224.6,161.4Z" fill="#2f8535"/><path d="M227.5,163.8 L234.5,163.8 L233.8,166.3 L228.2,166.3Z" fill="#fff"/>
<path d="M239.4,157.5 L245.8,162.8 L243.6,169.2 L235.2,169.2 L233.0,162.8Z" fill="#2f8535"/><path d="M235.9,165.2 L242.9,165.2 L242.2,167.7 L236.6,167.7Z" fill="#fff"/>
<path d="M247.8,145.0 L254.2,150.3 L252.0,156.7 L243.6,156.7 L241.4,150.3Z" fill="#2f8535"/><path d="M244.3,152.7 L251.3,152.7 L250.6,155.2 L245.0,155.2Z" fill="#fff"/>
<path d="M256.2,149.1 L262.6,154.4 L260.4,160.8 L252.0,160.8 L249.8,154.4Z" fill="#2f8535"/><path d="M252.7,156.8 L259.7,156.8 L259.0,159.3 L253.4,159.3Z" fill="#fff"/>
<path d="M264.6,158.1 L271.0,163.4 L268.8,169.8 L260.4,169.8 L258.2,163.4Z" fill="#2f8535"/><path d="M261.1,165.8 L268.1,165.8 L267.4,168.3 L261.8,168.3Z" fill="#fff"/>
<path d="M273.0,161.0 L279.4,166.3 L277.2,172.7 L268.8,172.7 L266.6,166.3Z" fill="#2f8535"/><path d="M269.5,168.7 L276.5,168.7 L275.8,171.2 L270.2,171.2Z" fill="#fff"/>
<path d="M281.4,158.9 L287.8,164.2 L285.6,170.6 L277.2,170.6 L275.0,164.2Z" fill="#2f8535"/><path d="M277.9,166.6 L284.9,166.6 L284.2,169.1 L278.6,169.1Z" fill="#fff"/>
<path d="M289.9,170.8 L296.2,176.1 L294.1,182.5 L285.7,182.5 L283.5,176.1Z" fill="#2f8535"/><path d="M286.4,178.5 L293.4,178.5 L292.7,181.0 L287.1,181.0Z" fill="#fff"/>
<path d="M298.3,172.9 L304.7,178.2 L302.5,184.6 L294.1,184.6 L291.9,178.2Z" fill="#2f8535"/><path d="M294.8,180.6 L301.8,180.6 L301.1,183.1 L295.5,183.1Z" fill="#fff"/>
<path d="M306.7,170.8 L313.1,176.1 L310.9,182.5 L302.5,182.5 L300.3,176.1Z" fill="#2f8535"/><path d="M303.2,178.5 L310.2,178.5 L309.5,181.0 L303.9,181.0Z" fill="#fff"/>
<path d="M315.1,169.1 L321.5,174.4 L319.3,180.8 L310.9,180.8 L308.7,174.4Z" fill="#2f8535"/><path d="M311.6,176.8 L318.6,176.8 L317.9,179.3 L312.3,179.3Z" fill="#fff"/>
<path d="M323.5,170.8 L329.9,176.1 L327.7,182.5 L319.3,182.5 L317.1,176.1Z" fill="#2f8535"/><path d="M320.0,178.5 L327.0,178.5 L326.3,181.0 L320.7,181.0Z" fill="#fff"/>
</g>
<rect x="48.70" y="17.30" width="274.70" height="221.10" fill="none" stroke="#222" stroke-width="1.3"/>
<text transform="translate(48.70 258.70) scale(1 1.05)" font-size="14" text-anchor="middle" fill="#111">2</text>
<text transform="translate(83.04 258.70) scale(1 1.05)" font-size="14" text-anchor="middle" fill="#111">4</text>
<text transform="translate(117.38 258.70) scale(1 1.05)" font-size="14" text-anchor="middle" fill="#111">6</text>
<text transform="translate(151.71 258.70) scale(1 1.05)" font-size="14" text-anchor="middle" fill="#111">8</text>
<text transform="translate(186.05 258.70) scale(1 1.05)" font-size="14" text-anchor="middle" fill="#111">10</text>
<text transform="translate(220.39 258.70) scale(1 1.05)" font-size="14" text-anchor="middle" fill="#111">12</text>
<text transform="translate(254.72 258.70) scale(1 1.05)" font-size="14" text-anchor="middle" fill="#111">14</text>
<text transform="translate(289.06 258.70) scale(1 1.05)" font-size="14" text-anchor="middle" fill="#111">16</text>
<text transform="translate(323.40 258.70) scale(1 1.05)" font-size="14" text-anchor="middle" fill="#111">18</text>
<text transform="translate(41.90 243.80) scale(1 1.05)" font-size="14" text-anchor="end" fill="#111">0</text>
<text transform="translate(41.90 206.95) scale(1 1.05)" font-size="14" text-anchor="end" fill="#111">5</text>
<text transform="translate(41.90 170.10) scale(1 1.05)" font-size="14" text-anchor="end" fill="#111">10</text>
<text transform="translate(41.90 133.25) scale(1 1.05)" font-size="14" text-anchor="end" fill="#111">15</text>
<text transform="translate(41.90 96.40) scale(1 1.05)" font-size="14" text-anchor="end" fill="#111">20</text>
<text transform="translate(41.90 59.55) scale(1 1.05)" font-size="14" text-anchor="end" fill="#111">25</text>
<text transform="translate(41.90 22.70) scale(1 1.05)" font-size="14" text-anchor="end" fill="#111">30</text>
<path d="M48.70,238.40 v4.2 M65.87,238.40 v2.4 M83.04,238.40 v4.2 M100.21,238.40 v2.4 M117.38,238.40 v4.2 M134.54,238.40 v2.4 M151.71,238.40 v4.2 M168.88,238.40 v2.4 M186.05,238.40 v4.2 M203.22,238.40 v2.4 M220.39,238.40 v4.2 M237.56,238.40 v2.4 M254.72,238.40 v4.2 M271.89,238.40 v2.4 M289.06,238.40 v4.2 M306.23,238.40 v2.4 M323.40,238.40 v4.2 M48.70,238.40 h-4.2 M48.70,219.97 h-2.0 M48.70,201.55 h-4.2 M48.70,183.12 h-2.0 M48.70,164.70 h-4.2 M48.70,146.28 h-2.0 M48.70,127.85 h-4.2 M48.70,109.43 h-2.0 M48.70,91.00 h-4.2 M48.70,72.58 h-2.0 M48.70,54.15 h-4.2 M48.70,35.72 h-2.0 M48.70,17.30 h-4.2" stroke="#222" stroke-width="1.2" fill="none"/>
<text x="189.45" y="275.70" font-size="14.4" text-anchor="middle" fill="#111">Frequency (GHz)</text>
<text x="16.00" y="133.10" font-size="14" text-anchor="middle" fill="#111" transform="rotate(-90 16.00 133.10)" dy="5">ε</text>
<path d="M10.00,128.30 Q10.20,127.50 11.50,127.60 L13.90,128.05 L13.90,128.55 L11.50,129.00 Q10.20,129.10 10.00,128.30 Z" fill="#111"/>
<text x="0.00" y="14.50" font-size="14.5" font-weight="bold" fill="#111" stroke="#111" stroke-width="0.2">(a)</text>
<path d="M243.00,28.00 H265.60" stroke="#0b0b0b" stroke-width="2.0" stroke-linecap="round"/>
<path d="M249.9,23.4 L259.1,23.4 L259.1,32.6 L249.9,32.6Z" fill="#0b0b0b"/><path d="M251.7,29.0 L257.3,29.0 L257.3,30.9 L251.7,30.9Z" fill="#fff"/>
<text x="270.00" y="31.80" font-size="10.4" font-weight="bold" fill="#111" stroke="#111" stroke-width="0.25">PLC-700</text>
<path d="M243.00,40.50 H265.60" stroke="#da2c1c" stroke-width="2.0" stroke-linecap="round"/>
<circle cx="254.5" cy="40.5" r="5.1" fill="#da2c1c"/><path d="M251.23,42.00 L257.77,42.00 A3.6,3.6 0 0 1 251.23,42.00Z" fill="#fff"/>
<text x="270.00" y="44.30" font-size="10.4" font-weight="bold" fill="#111" stroke="#111" stroke-width="0.25">PMS</text>
<path d="M243.00,53.00 H265.60" stroke="#ee7b22" stroke-width="2.0" stroke-linecap="round"/>
<path d="M254.5,45.6 L261.1,57.3 L247.9,57.3Z" fill="#ee7b22"/><path d="M251.1,54.0 L257.9,54.0 L257.9,55.6 L251.1,55.6Z" fill="#fff"/>
<text x="270.00" y="56.80" font-size="10.4" font-weight="bold" fill="#111" stroke="#111" stroke-width="0.25">LCMS-600</text>
<path d="M243.00,65.50 H265.60" stroke="#2e2d85" stroke-width="2.0" stroke-linecap="round"/>
<path d="M254.5,59.3 L260.1,62.4 L260.1,68.6 L254.5,71.7 L248.9,68.6 L248.9,62.4Z" fill="#2e2d85"/><path d="M250.9,66.6 L258.1,66.6 L258.1,67.4 L254.5,69.6 L250.9,67.4Z" fill="#fff"/>
<text x="270.00" y="69.30" font-size="10.4" font-weight="bold" fill="#111" stroke="#111" stroke-width="0.25">LCMS-700</text>
<path d="M243.00,78.00 H265.60" stroke="#2f8535" stroke-width="2.0" stroke-linecap="round"/>
<path d="M254.5,71.8 L260.9,77.1 L258.7,83.5 L250.3,83.5 L248.1,77.1Z" fill="#2f8535"/><path d="M251.0,79.5 L258.0,79.5 L257.3,82.0 L251.7,82.0Z" fill="#fff"/>
<text x="270.00" y="81.80" font-size="10.4" font-weight="bold" fill="#111" stroke="#111" stroke-width="0.25">LCMS-800</text>
<rect x="403.80" y="17.50" width="33.20" height="219.00" fill="#d3ecc5"/>
<rect x="437.00" y="17.50" width="75.80" height="219.00" fill="#faf5cd"/>
<rect x="512.80" y="17.50" width="68.90" height="219.00" fill="#e6f5f8"/>
<rect x="581.70" y="17.50" width="93.70" height="219.00" fill="#fde4e5"/>
<rect x="402.00" y="1.00" width="34.90" height="14.80" fill="#7dc400"/>
<text transform="translate(420.00 12.00) scale(1 1.08)" font-size="9.1" font-weight="bold" text-anchor="middle" fill="#111" stroke="#111" stroke-width="0.15">S band</text>
<rect x="436.90" y="1.00" width="76.10" height="14.80" fill="#f2e440"/>
<text transform="translate(474.30 12.00) scale(1 1.08)" font-size="9.1" font-weight="bold" text-anchor="middle" fill="#111" stroke="#111" stroke-width="0.15">C band</text>
<rect x="513.00" y="1.00" width="68.90" height="14.80" fill="#8edce3"/>
<text transform="translate(550.20 12.00) scale(1 1.08)" font-size="9.1" font-weight="bold" text-anchor="middle" fill="#111" stroke="#111" stroke-width="0.15">X band</text>
<rect x="581.90" y="1.00" width="95.90" height="14.80" fill="#e0301f"/>
<text transform="translate(630.00 12.00) scale(1 1.08)" font-size="9.1" font-weight="bold" text-anchor="middle" fill="#111" stroke="#111" stroke-width="0.15">Ku band</text>
<g clip-path="url(#clipb)">
<path d="M402.15,83.50 L410.40,101.10 L418.64,115.10 L426.89,122.90 L435.13,129.10 L443.38,137.00 L451.62,148.80 L455.00,152.50 L459.87,127.00 L465.00,114.50 L468.11,120.10 L476.36,135.40 L484.60,131.50 L492.85,110.60 L501.09,99.40 L509.34,96.90 L517.58,95.50 L525.83,109.20 L534.07,127.20 L542.32,133.90 L550.56,115.10 L558.81,108.40 L567.05,111.90 L575.30,103.40 L583.54,122.90 L591.79,136.60 L600.03,101.80 L608.28,116.60 L616.52,138.00 L624.77,151.40 L633.01,144.50 L641.26,151.80 L649.50,159.40 L657.75,161.10 L665.99,155.30 L674.24,151.20" fill="none" stroke="#0b0b0b" stroke-width="2.1" stroke-linejoin="round"/>
<path d="M397.6,78.9 L406.8,78.9 L406.8,88.1 L397.6,88.1Z" fill="#0b0b0b"/><path d="M399.4,84.5 L405.0,84.5 L405.0,86.4 L399.4,86.4Z" fill="#fff"/>
<path d="M405.8,96.5 L415.0,96.5 L415.0,105.7 L405.8,105.7Z" fill="#0b0b0b"/><path d="M407.6,102.1 L413.2,102.1 L413.2,104.0 L407.6,104.0Z" fill="#fff"/>
<path d="M414.0,110.5 L423.2,110.5 L423.2,119.7 L414.0,119.7Z" fill="#0b0b0b"/><path d="M415.8,116.1 L421.4,116.1 L421.4,118.0 L415.8,118.0Z" fill="#fff"/>
<path d="M422.3,118.3 L431.5,118.3 L431.5,127.5 L422.3,127.5Z" fill="#0b0b0b"/><path d="M424.1,123.9 L429.7,123.9 L429.7,125.8 L424.1,125.8Z" fill="#fff"/>
<path d="M430.5,124.5 L439.7,124.5 L439.7,133.7 L430.5,133.7Z" fill="#0b0b0b"/><path d="M432.3,130.1 L437.9,130.1 L437.9,132.0 L432.3,132.0Z" fill="#fff"/>
<path d="M438.8,132.4 L448.0,132.4 L448.0,141.6 L438.8,141.6Z" fill="#0b0b0b"/><path d="M440.6,138.0 L446.2,138.0 L446.2,139.9 L440.6,139.9Z" fill="#fff"/>
<path d="M447.0,144.2 L456.2,144.2 L456.2,153.4 L447.0,153.4Z" fill="#0b0b0b"/><path d="M448.8,149.8 L454.4,149.8 L454.4,151.7 L448.8,151.7Z" fill="#fff"/>
<path d="M455.3,122.4 L464.5,122.4 L464.5,131.6 L455.3,131.6Z" fill="#0b0b0b"/><path d="M457.1,128.0 L462.7,128.0 L462.7,129.9 L457.1,129.9Z" fill="#fff"/>
<path d="M463.5,115.5 L472.7,115.5 L472.7,124.7 L463.5,124.7Z" fill="#0b0b0b"/><path d="M465.3,121.1 L470.9,121.1 L470.9,123.0 L465.3,123.0Z" fill="#fff"/>
<path d="M471.8,130.8 L481.0,130.8 L481.0,140.0 L471.8,140.0Z" fill="#0b0b0b"/><path d="M473.6,136.4 L479.2,136.4 L479.2,138.3 L473.6,138.3Z" fill="#fff"/>
<path d="M480.0,126.9 L489.2,126.9 L489.2,136.1 L480.0,136.1Z" fill="#0b0b0b"/><path d="M481.8,132.5 L487.4,132.5 L487.4,134.4 L481.8,134.4Z" fill="#fff"/>
<path d="M488.2,106.0 L497.4,106.0 L497.4,115.2 L488.2,115.2Z" fill="#0b0b0b"/><path d="M490.0,111.6 L495.6,111.6 L495.6,113.5 L490.0,113.5Z" fill="#fff"/>
<path d="M496.5,94.8 L505.7,94.8 L505.7,104.0 L496.5,104.0Z" fill="#0b0b0b"/><path d="M498.3,100.4 L503.9,100.4 L503.9,102.3 L498.3,102.3Z" fill="#fff"/>
<path d="M504.7,92.3 L513.9,92.3 L513.9,101.5 L504.7,101.5Z" fill="#0b0b0b"/><path d="M506.5,97.9 L512.1,97.9 L512.1,99.8 L506.5,99.8Z" fill="#fff"/>
<path d="M513.0,90.9 L522.2,90.9 L522.2,100.1 L513.0,100.1Z" fill="#0b0b0b"/><path d="M514.8,96.5 L520.4,96.5 L520.4,98.4 L514.8,98.4Z" fill="#fff"/>
<path d="M521.2,104.6 L530.4,104.6 L530.4,113.8 L521.2,113.8Z" fill="#0b0b0b"/><path d="M523.0,110.2 L528.6,110.2 L528.6,112.1 L523.0,112.1Z" fill="#fff"/>
<path d="M529.5,122.6 L538.7,122.6 L538.7,131.8 L529.5,131.8Z" fill="#0b0b0b"/><path d="M531.3,128.2 L536.9,128.2 L536.9,130.1 L531.3,130.1Z" fill="#fff"/>
<path d="M537.7,129.3 L546.9,129.3 L546.9,138.5 L537.7,138.5Z" fill="#0b0b0b"/><path d="M539.5,134.9 L545.1,134.9 L545.1,136.8 L539.5,136.8Z" fill="#fff"/>
<path d="M546.0,110.5 L555.2,110.5 L555.2,119.7 L546.0,119.7Z" fill="#0b0b0b"/><path d="M547.8,116.1 L553.4,116.1 L553.4,118.0 L547.8,118.0Z" fill="#fff"/>
<path d="M554.2,103.8 L563.4,103.8 L563.4,113.0 L554.2,113.0Z" fill="#0b0b0b"/><path d="M556.0,109.4 L561.6,109.4 L561.6,111.3 L556.0,111.3Z" fill="#fff"/>
<path d="M562.5,107.3 L571.7,107.3 L571.7,116.5 L562.5,116.5Z" fill="#0b0b0b"/><path d="M564.3,112.9 L569.9,112.9 L569.9,114.8 L564.3,114.8Z" fill="#fff"/>
<path d="M570.7,98.8 L579.9,98.8 L579.9,108.0 L570.7,108.0Z" fill="#0b0b0b"/><path d="M572.5,104.4 L578.1,104.4 L578.1,106.3 L572.5,106.3Z" fill="#fff"/>
<path d="M578.9,118.3 L588.1,118.3 L588.1,127.5 L578.9,127.5Z" fill="#0b0b0b"/><path d="M580.7,123.9 L586.3,123.9 L586.3,125.8 L580.7,125.8Z" fill="#fff"/>
<path d="M587.2,132.0 L596.4,132.0 L596.4,141.2 L587.2,141.2Z" fill="#0b0b0b"/><path d="M589.0,137.6 L594.6,137.6 L594.6,139.5 L589.0,139.5Z" fill="#fff"/>
<path d="M595.4,97.2 L604.6,97.2 L604.6,106.4 L595.4,106.4Z" fill="#0b0b0b"/><path d="M597.2,102.8 L602.8,102.8 L602.8,104.7 L597.2,104.7Z" fill="#fff"/>
<path d="M603.7,112.0 L612.9,112.0 L612.9,121.2 L603.7,121.2Z" fill="#0b0b0b"/><path d="M605.5,117.6 L611.1,117.6 L611.1,119.5 L605.5,119.5Z" fill="#fff"/>
<path d="M611.9,133.4 L621.1,133.4 L621.1,142.6 L611.9,142.6Z" fill="#0b0b0b"/><path d="M613.7,139.0 L619.3,139.0 L619.3,140.9 L613.7,140.9Z" fill="#fff"/>
<path d="M620.2,146.8 L629.4,146.8 L629.4,156.0 L620.2,156.0Z" fill="#0b0b0b"/><path d="M622.0,152.4 L627.6,152.4 L627.6,154.3 L622.0,154.3Z" fill="#fff"/>
<path d="M628.4,139.9 L637.6,139.9 L637.6,149.1 L628.4,149.1Z" fill="#0b0b0b"/><path d="M630.2,145.5 L635.8,145.5 L635.8,147.4 L630.2,147.4Z" fill="#fff"/>
<path d="M636.7,147.2 L645.9,147.2 L645.9,156.4 L636.7,156.4Z" fill="#0b0b0b"/><path d="M638.5,152.8 L644.1,152.8 L644.1,154.7 L638.5,154.7Z" fill="#fff"/>
<path d="M644.9,154.8 L654.1,154.8 L654.1,164.0 L644.9,164.0Z" fill="#0b0b0b"/><path d="M646.7,160.4 L652.3,160.4 L652.3,162.3 L646.7,162.3Z" fill="#fff"/>
<path d="M653.1,156.5 L662.4,156.5 L662.4,165.7 L653.1,165.7Z" fill="#0b0b0b"/><path d="M655.0,162.1 L660.5,162.1 L660.5,164.0 L655.0,164.0Z" fill="#fff"/>
<path d="M661.4,150.7 L670.6,150.7 L670.6,159.9 L661.4,159.9Z" fill="#0b0b0b"/><path d="M663.2,156.3 L668.8,156.3 L668.8,158.2 L663.2,158.2Z" fill="#fff"/>
<path d="M669.6,146.6 L678.8,146.6 L678.8,155.8 L669.6,155.8Z" fill="#0b0b0b"/><path d="M671.4,152.2 L677.0,152.2 L677.0,154.1 L671.4,154.1Z" fill="#fff"/>
<path d="M402.15,225.00 L410.40,226.30 L418.64,227.80 L426.89,229.00 L435.13,229.50 L443.38,229.90 L451.62,230.30 L459.87,230.00 L468.11,230.30 L476.36,230.80 L484.60,230.60 L492.85,229.80 L501.09,228.80 L509.34,228.40 L517.58,228.90 L525.83,230.00 L534.07,231.70 L542.32,232.50 L550.56,231.70 L558.81,229.30 L567.05,229.10 L575.30,230.90 L583.54,228.20 L591.79,226.30 L600.03,228.20 L608.28,228.40 L616.52,228.40 L624.77,228.20 L633.01,229.10 L641.26,231.30 L649.50,231.70 L657.75,230.70 L665.99,228.20 L674.24,230.40" fill="none" stroke="#da2c1c" stroke-width="2.1" stroke-linejoin="round"/>
<circle cx="402.2" cy="225.0" r="5.1" fill="#da2c1c"/><path d="M398.88,226.50 L405.42,226.50 A3.6,3.6 0 0 1 398.88,226.50Z" fill="#fff"/>
<circle cx="410.4" cy="226.3" r="5.1" fill="#da2c1c"/><path d="M407.13,227.80 L413.67,227.80 A3.6,3.6 0 0 1 407.13,227.80Z" fill="#fff"/>
<circle cx="418.6" cy="227.8" r="5.1" fill="#da2c1c"/><path d="M415.38,229.30 L421.91,229.30 A3.6,3.6 0 0 1 415.38,229.30Z" fill="#fff"/>
<circle cx="426.9" cy="229.0" r="5.1" fill="#da2c1c"/><path d="M423.62,230.50 L430.16,230.50 A3.6,3.6 0 0 1 423.62,230.50Z" fill="#fff"/>
<circle cx="435.1" cy="229.5" r="5.1" fill="#da2c1c"/><path d="M431.87,231.00 L438.40,231.00 A3.6,3.6 0 0 1 431.87,231.00Z" fill="#fff"/>
<circle cx="443.4" cy="229.9" r="5.1" fill="#da2c1c"/><path d="M440.11,231.40 L446.65,231.40 A3.6,3.6 0 0 1 440.11,231.40Z" fill="#fff"/>
<circle cx="451.6" cy="230.3" r="5.1" fill="#da2c1c"/><path d="M448.36,231.80 L454.89,231.80 A3.6,3.6 0 0 1 448.36,231.80Z" fill="#fff"/>
<circle cx="459.9" cy="230.0" r="5.1" fill="#da2c1c"/><path d="M456.60,231.50 L463.14,231.50 A3.6,3.6 0 0 1 456.60,231.50Z" fill="#fff"/>
<circle cx="468.1" cy="230.3" r="5.1" fill="#da2c1c"/><path d="M464.84,231.80 L471.38,231.80 A3.6,3.6 0 0 1 464.84,231.80Z" fill="#fff"/>
<circle cx="476.4" cy="230.8" r="5.1" fill="#da2c1c"/><path d="M473.09,232.30 L479.63,232.30 A3.6,3.6 0 0 1 473.09,232.30Z" fill="#fff"/>
<circle cx="484.6" cy="230.6" r="5.1" fill="#da2c1c"/><path d="M481.33,232.10 L487.87,232.10 A3.6,3.6 0 0 1 481.33,232.10Z" fill="#fff"/>
<circle cx="492.8" cy="229.8" r="5.1" fill="#da2c1c"/><path d="M489.58,231.30 L496.12,231.30 A3.6,3.6 0 0 1 489.58,231.30Z" fill="#fff"/>
<circle cx="501.1" cy="228.8" r="5.1" fill="#da2c1c"/><path d="M497.82,230.30 L504.36,230.30 A3.6,3.6 0 0 1 497.82,230.30Z" fill="#fff"/>
<circle cx="509.3" cy="228.4" r="5.1" fill="#da2c1c"/><path d="M506.07,229.90 L512.61,229.90 A3.6,3.6 0 0 1 506.07,229.90Z" fill="#fff"/>
<circle cx="517.6" cy="228.9" r="5.1" fill="#da2c1c"/><path d="M514.31,230.40 L520.85,230.40 A3.6,3.6 0 0 1 514.31,230.40Z" fill="#fff"/>
<circle cx="525.8" cy="230.0" r="5.1" fill="#da2c1c"/><path d="M522.56,231.50 L529.10,231.50 A3.6,3.6 0 0 1 522.56,231.50Z" fill="#fff"/>
<circle cx="534.1" cy="231.7" r="5.1" fill="#da2c1c"/><path d="M530.80,233.20 L537.34,233.20 A3.6,3.6 0 0 1 530.80,233.20Z" fill="#fff"/>
<circle cx="542.3" cy="232.5" r="5.1" fill="#da2c1c"/><path d="M539.05,234.00 L545.59,234.00 A3.6,3.6 0 0 1 539.05,234.00Z" fill="#fff"/>
<circle cx="550.6" cy="231.7" r="5.1" fill="#da2c1c"/><path d="M547.29,233.20 L553.83,233.20 A3.6,3.6 0 0 1 547.29,233.20Z" fill="#fff"/>
<circle cx="558.8" cy="229.3" r="5.1" fill="#da2c1c"/><path d="M555.54,230.80 L562.08,230.80 A3.6,3.6 0 0 1 555.54,230.80Z" fill="#fff"/>
<circle cx="567.1" cy="229.1" r="5.1" fill="#da2c1c"/><path d="M563.78,230.60 L570.32,230.60 A3.6,3.6 0 0 1 563.78,230.60Z" fill="#fff"/>
<circle cx="575.3" cy="230.9" r="5.1" fill="#da2c1c"/><path d="M572.03,232.40 L578.57,232.40 A3.6,3.6 0 0 1 572.03,232.40Z" fill="#fff"/>
<circle cx="583.5" cy="228.2" r="5.1" fill="#da2c1c"/><path d="M580.27,229.70 L586.81,229.70 A3.6,3.6 0 0 1 580.27,229.70Z" fill="#fff"/>
<circle cx="591.8" cy="226.3" r="5.1" fill="#da2c1c"/><path d="M588.52,227.80 L595.06,227.80 A3.6,3.6 0 0 1 588.52,227.80Z" fill="#fff"/>
<circle cx="600.0" cy="228.2" r="5.1" fill="#da2c1c"/><path d="M596.76,229.70 L603.30,229.70 A3.6,3.6 0 0 1 596.76,229.70Z" fill="#fff"/>
<circle cx="608.3" cy="228.4" r="5.1" fill="#da2c1c"/><path d="M605.01,229.90 L611.55,229.90 A3.6,3.6 0 0 1 605.01,229.90Z" fill="#fff"/>
<circle cx="616.5" cy="228.4" r="5.1" fill="#da2c1c"/><path d="M613.25,229.90 L619.79,229.90 A3.6,3.6 0 0 1 613.25,229.90Z" fill="#fff"/>
<circle cx="624.8" cy="228.2" r="5.1" fill="#da2c1c"/><path d="M621.50,229.70 L628.04,229.70 A3.6,3.6 0 0 1 621.50,229.70Z" fill="#fff"/>
<circle cx="633.0" cy="229.1" r="5.1" fill="#da2c1c"/><path d="M629.75,230.60 L636.28,230.60 A3.6,3.6 0 0 1 629.75,230.60Z" fill="#fff"/>
<circle cx="641.3" cy="231.3" r="5.1" fill="#da2c1c"/><path d="M637.99,232.80 L644.53,232.80 A3.6,3.6 0 0 1 637.99,232.80Z" fill="#fff"/>
<circle cx="649.5" cy="231.7" r="5.1" fill="#da2c1c"/><path d="M646.24,233.20 L652.77,233.20 A3.6,3.6 0 0 1 646.24,233.20Z" fill="#fff"/>
<circle cx="657.8" cy="230.7" r="5.1" fill="#da2c1c"/><path d="M654.48,232.20 L661.02,232.20 A3.6,3.6 0 0 1 654.48,232.20Z" fill="#fff"/>
<circle cx="666.0" cy="228.2" r="5.1" fill="#da2c1c"/><path d="M662.72,229.70 L669.26,229.70 A3.6,3.6 0 0 1 662.72,229.70Z" fill="#fff"/>
<circle cx="674.2" cy="230.4" r="5.1" fill="#da2c1c"/><path d="M670.97,231.90 L677.51,231.90 A3.6,3.6 0 0 1 670.97,231.90Z" fill="#fff"/>
<path d="M402.15,224.00 L410.40,225.60 L418.64,227.00 L426.89,228.60 L435.13,229.50 L443.38,229.50 L451.62,230.30 L459.87,231.50 L468.11,230.90 L476.36,231.20 L484.60,231.50 L492.85,231.50 L501.09,230.60 L509.34,230.60 L517.58,231.20 L525.83,231.80 L534.07,232.80 L542.32,233.40 L550.56,233.40 L558.81,232.50 L567.05,231.60 L575.30,233.00 L583.54,231.60 L591.79,230.60 L600.03,231.60 L608.28,231.60 L616.52,231.60 L624.77,231.60 L633.01,233.20 L641.26,233.00 L649.50,232.50 L657.75,232.50 L665.99,233.20 L674.24,233.20" fill="none" stroke="#ee7b22" stroke-width="2.1" stroke-linejoin="round"/>
<path d="M402.2,216.6 L408.8,228.3 L395.6,228.3Z" fill="#ee7b22"/><path d="M398.8,225.0 L405.6,225.0 L405.6,226.6 L398.8,226.6Z" fill="#fff"/>
<path d="M410.4,218.2 L417.0,229.9 L403.8,229.9Z" fill="#ee7b22"/><path d="M407.0,226.6 L413.8,226.6 L413.8,228.2 L407.0,228.2Z" fill="#fff"/>
<path d="M418.6,219.6 L425.2,231.3 L412.0,231.3Z" fill="#ee7b22"/><path d="M415.2,228.0 L422.0,228.0 L422.0,229.6 L415.2,229.6Z" fill="#fff"/>
<path d="M426.9,221.2 L433.5,232.9 L420.3,232.9Z" fill="#ee7b22"/><path d="M423.5,229.6 L430.3,229.6 L430.3,231.2 L423.5,231.2Z" fill="#fff"/>
<path d="M435.1,222.1 L441.7,233.8 L428.5,233.8Z" fill="#ee7b22"/><path d="M431.7,230.5 L438.5,230.5 L438.5,232.1 L431.7,232.1Z" fill="#fff"/>
<path d="M443.4,222.1 L450.0,233.8 L436.8,233.8Z" fill="#ee7b22"/><path d="M440.0,230.5 L446.8,230.5 L446.8,232.1 L440.0,232.1Z" fill="#fff"/>
<path d="M451.6,222.9 L458.2,234.6 L445.0,234.6Z" fill="#ee7b22"/><path d="M448.2,231.3 L455.0,231.3 L455.0,232.9 L448.2,232.9Z" fill="#fff"/>
<path d="M459.9,224.1 L466.5,235.8 L453.3,235.8Z" fill="#ee7b22"/><path d="M456.5,232.5 L463.3,232.5 L463.3,234.1 L456.5,234.1Z" fill="#fff"/>
<path d="M468.1,223.5 L474.7,235.2 L461.5,235.2Z" fill="#ee7b22"/><path d="M464.7,231.9 L471.5,231.9 L471.5,233.5 L464.7,233.5Z" fill="#fff"/>
<path d="M476.4,223.8 L483.0,235.5 L469.8,235.5Z" fill="#ee7b22"/><path d="M473.0,232.2 L479.8,232.2 L479.8,233.8 L473.0,233.8Z" fill="#fff"/>
<path d="M484.6,224.1 L491.2,235.8 L478.0,235.8Z" fill="#ee7b22"/><path d="M481.2,232.5 L488.0,232.5 L488.0,234.1 L481.2,234.1Z" fill="#fff"/>
<path d="M492.8,224.1 L499.4,235.8 L486.2,235.8Z" fill="#ee7b22"/><path d="M489.4,232.5 L496.2,232.5 L496.2,234.1 L489.4,234.1Z" fill="#fff"/>
<path d="M501.1,223.2 L507.7,234.9 L494.5,234.9Z" fill="#ee7b22"/><path d="M497.7,231.6 L504.5,231.6 L504.5,233.2 L497.7,233.2Z" fill="#fff"/>
<path d="M509.3,223.2 L515.9,234.9 L502.7,234.9Z" fill="#ee7b22"/><path d="M505.9,231.6 L512.7,231.6 L512.7,233.2 L505.9,233.2Z" fill="#fff"/>
<path d="M517.6,223.8 L524.2,235.5 L511.0,235.5Z" fill="#ee7b22"/><path d="M514.2,232.2 L521.0,232.2 L521.0,233.8 L514.2,233.8Z" fill="#fff"/>
<path d="M525.8,224.4 L532.4,236.1 L519.2,236.1Z" fill="#ee7b22"/><path d="M522.4,232.8 L529.2,232.8 L529.2,234.4 L522.4,234.4Z" fill="#fff"/>
<path d="M534.1,225.4 L540.7,237.1 L527.5,237.1Z" fill="#ee7b22"/><path d="M530.7,233.8 L537.5,233.8 L537.5,235.4 L530.7,235.4Z" fill="#fff"/>
<path d="M542.3,226.0 L548.9,237.7 L535.7,237.7Z" fill="#ee7b22"/><path d="M538.9,234.4 L545.7,234.4 L545.7,236.0 L538.9,236.0Z" fill="#fff"/>
<path d="M550.6,226.0 L557.2,237.7 L544.0,237.7Z" fill="#ee7b22"/><path d="M547.2,234.4 L554.0,234.4 L554.0,236.0 L547.2,236.0Z" fill="#fff"/>
<path d="M558.8,225.1 L565.4,236.8 L552.2,236.8Z" fill="#ee7b22"/><path d="M555.4,233.5 L562.2,233.5 L562.2,235.1 L555.4,235.1Z" fill="#fff"/>
<path d="M567.1,224.2 L573.7,235.9 L560.5,235.9Z" fill="#ee7b22"/><path d="M563.7,232.6 L570.5,232.6 L570.5,234.2 L563.7,234.2Z" fill="#fff"/>
<path d="M575.3,225.6 L581.9,237.3 L568.7,237.3Z" fill="#ee7b22"/><path d="M571.9,234.0 L578.7,234.0 L578.7,235.6 L571.9,235.6Z" fill="#fff"/>
<path d="M583.5,224.2 L590.1,235.9 L576.9,235.9Z" fill="#ee7b22"/><path d="M580.1,232.6 L586.9,232.6 L586.9,234.2 L580.1,234.2Z" fill="#fff"/>
<path d="M591.8,223.2 L598.4,234.9 L585.2,234.9Z" fill="#ee7b22"/><path d="M588.4,231.6 L595.2,231.6 L595.2,233.2 L588.4,233.2Z" fill="#fff"/>
<path d="M600.0,224.2 L606.6,235.9 L593.4,235.9Z" fill="#ee7b22"/><path d="M596.6,232.6 L603.4,232.6 L603.4,234.2 L596.6,234.2Z" fill="#fff"/>
<path d="M608.3,224.2 L614.9,235.9 L601.7,235.9Z" fill="#ee7b22"/><path d="M604.9,232.6 L611.7,232.6 L611.7,234.2 L604.9,234.2Z" fill="#fff"/>
<path d="M616.5,224.2 L623.1,235.9 L609.9,235.9Z" fill="#ee7b22"/><path d="M613.1,232.6 L619.9,232.6 L619.9,234.2 L613.1,234.2Z" fill="#fff"/>
<path d="M624.8,224.2 L631.4,235.9 L618.2,235.9Z" fill="#ee7b22"/><path d="M621.4,232.6 L628.2,232.6 L628.2,234.2 L621.4,234.2Z" fill="#fff"/>
<path d="M633.0,225.8 L639.6,237.5 L626.4,237.5Z" fill="#ee7b22"/><path d="M629.6,234.2 L636.4,234.2 L636.4,235.8 L629.6,235.8Z" fill="#fff"/>
<path d="M641.3,225.6 L647.9,237.3 L634.7,237.3Z" fill="#ee7b22"/><path d="M637.9,234.0 L644.7,234.0 L644.7,235.6 L637.9,235.6Z" fill="#fff"/>
<path d="M649.5,225.1 L656.1,236.8 L642.9,236.8Z" fill="#ee7b22"/><path d="M646.1,233.5 L652.9,233.5 L652.9,235.1 L646.1,235.1Z" fill="#fff"/>
<path d="M657.8,225.1 L664.4,236.8 L651.1,236.8Z" fill="#ee7b22"/><path d="M654.4,233.5 L661.1,233.5 L661.1,235.1 L654.4,235.1Z" fill="#fff"/>
<path d="M666.0,225.8 L672.6,237.5 L659.4,237.5Z" fill="#ee7b22"/><path d="M662.6,234.2 L669.4,234.2 L669.4,235.8 L662.6,235.8Z" fill="#fff"/>
<path d="M674.2,225.8 L680.8,237.5 L667.6,237.5Z" fill="#ee7b22"/><path d="M670.8,234.2 L677.6,234.2 L677.6,235.8 L670.8,235.8Z" fill="#fff"/>
<path d="M402.15,182.50 L410.40,185.10 L418.64,188.60 L426.89,191.30 L435.13,192.60 L443.38,193.40 L451.62,196.90 L459.87,198.90 L468.11,198.30 L476.36,198.60 L484.60,198.50 L492.85,195.80 L501.09,195.00 L509.34,195.60 L517.58,196.80 L525.83,198.20 L534.07,202.60 L542.32,204.50 L550.56,199.30 L558.81,190.90 L567.05,195.60 L575.30,199.10 L583.54,195.60 L591.79,196.50 L600.03,191.60 L608.28,184.80 L616.52,190.50 L624.77,197.30 L633.01,197.30 L641.26,192.70 L649.50,192.70 L657.75,192.70 L665.99,190.70 L674.24,189.20" fill="none" stroke="#2e2d85" stroke-width="2.1" stroke-linejoin="round"/>
<path d="M402.2,176.3 L407.8,179.4 L407.8,185.6 L402.2,188.7 L396.6,185.6 L396.6,179.4Z" fill="#2e2d85"/><path d="M398.6,183.6 L405.8,183.6 L405.8,184.4 L402.2,186.6 L398.6,184.4Z" fill="#fff"/>
<path d="M410.4,178.9 L416.0,182.0 L416.0,188.2 L410.4,191.3 L404.8,188.2 L404.8,182.0Z" fill="#2e2d85"/><path d="M406.8,186.2 L414.0,186.2 L414.0,187.0 L410.4,189.2 L406.8,187.0Z" fill="#fff"/>
<path d="M418.6,182.4 L424.2,185.5 L424.2,191.7 L418.6,194.8 L413.0,191.7 L413.0,185.5Z" fill="#2e2d85"/><path d="M415.0,189.7 L422.2,189.7 L422.2,190.5 L418.6,192.7 L415.0,190.5Z" fill="#fff"/>
<path d="M426.9,185.1 L432.5,188.2 L432.5,194.4 L426.9,197.5 L421.3,194.4 L421.3,188.2Z" fill="#2e2d85"/><path d="M423.3,192.4 L430.5,192.4 L430.5,193.2 L426.9,195.4 L423.3,193.2Z" fill="#fff"/>
<path d="M435.1,186.4 L440.7,189.5 L440.7,195.7 L435.1,198.8 L429.5,195.7 L429.5,189.5Z" fill="#2e2d85"/><path d="M431.5,193.7 L438.7,193.7 L438.7,194.5 L435.1,196.7 L431.5,194.5Z" fill="#fff"/>
<path d="M443.4,187.2 L449.0,190.3 L449.0,196.5 L443.4,199.6 L437.8,196.5 L437.8,190.3Z" fill="#2e2d85"/><path d="M439.8,194.5 L447.0,194.5 L447.0,195.3 L443.4,197.5 L439.8,195.3Z" fill="#fff"/>
<path d="M451.6,190.7 L457.2,193.8 L457.2,200.0 L451.6,203.1 L446.0,200.0 L446.0,193.8Z" fill="#2e2d85"/><path d="M448.0,198.0 L455.2,198.0 L455.2,198.8 L451.6,201.0 L448.0,198.8Z" fill="#fff"/>
<path d="M459.9,192.7 L465.5,195.8 L465.5,202.0 L459.9,205.1 L454.3,202.0 L454.3,195.8Z" fill="#2e2d85"/><path d="M456.3,200.0 L463.5,200.0 L463.5,200.8 L459.9,203.0 L456.3,200.8Z" fill="#fff"/>
<path d="M468.1,192.1 L473.7,195.2 L473.7,201.4 L468.1,204.5 L462.5,201.4 L462.5,195.2Z" fill="#2e2d85"/><path d="M464.5,199.4 L471.7,199.4 L471.7,200.2 L468.1,202.4 L464.5,200.2Z" fill="#fff"/>
<path d="M476.4,192.4 L482.0,195.5 L482.0,201.7 L476.4,204.8 L470.8,201.7 L470.8,195.5Z" fill="#2e2d85"/><path d="M472.8,199.7 L480.0,199.7 L480.0,200.5 L476.4,202.7 L472.8,200.5Z" fill="#fff"/>
<path d="M484.6,192.3 L490.2,195.4 L490.2,201.6 L484.6,204.7 L479.0,201.6 L479.0,195.4Z" fill="#2e2d85"/><path d="M481.0,199.6 L488.2,199.6 L488.2,200.4 L484.6,202.6 L481.0,200.4Z" fill="#fff"/>
<path d="M492.8,189.6 L498.4,192.7 L498.4,198.9 L492.8,202.0 L487.2,198.9 L487.2,192.7Z" fill="#2e2d85"/><path d="M489.2,196.9 L496.4,196.9 L496.4,197.7 L492.8,199.9 L489.2,197.7Z" fill="#fff"/>
<path d="M501.1,188.8 L506.7,191.9 L506.7,198.1 L501.1,201.2 L495.5,198.1 L495.5,191.9Z" fill="#2e2d85"/><path d="M497.5,196.1 L504.7,196.1 L504.7,196.9 L501.1,199.1 L497.5,196.9Z" fill="#fff"/>
<path d="M509.3,189.4 L514.9,192.5 L514.9,198.7 L509.3,201.8 L503.7,198.7 L503.7,192.5Z" fill="#2e2d85"/><path d="M505.7,196.7 L512.9,196.7 L512.9,197.5 L509.3,199.7 L505.7,197.5Z" fill="#fff"/>
<path d="M517.6,190.6 L523.2,193.7 L523.2,199.9 L517.6,203.0 L512.0,199.9 L512.0,193.7Z" fill="#2e2d85"/><path d="M514.0,197.9 L521.2,197.9 L521.2,198.7 L517.6,200.9 L514.0,198.7Z" fill="#fff"/>
<path d="M525.8,192.0 L531.4,195.1 L531.4,201.3 L525.8,204.4 L520.2,201.3 L520.2,195.1Z" fill="#2e2d85"/><path d="M522.2,199.3 L529.4,199.3 L529.4,200.1 L525.8,202.3 L522.2,200.1Z" fill="#fff"/>
<path d="M534.1,196.4 L539.7,199.5 L539.7,205.7 L534.1,208.8 L528.5,205.7 L528.5,199.5Z" fill="#2e2d85"/><path d="M530.5,203.7 L537.7,203.7 L537.7,204.5 L534.1,206.7 L530.5,204.5Z" fill="#fff"/>
<path d="M542.3,198.3 L547.9,201.4 L547.9,207.6 L542.3,210.7 L536.7,207.6 L536.7,201.4Z" fill="#2e2d85"/><path d="M538.7,205.6 L545.9,205.6 L545.9,206.4 L542.3,208.6 L538.7,206.4Z" fill="#fff"/>
<path d="M550.6,193.1 L556.2,196.2 L556.2,202.4 L550.6,205.5 L545.0,202.4 L545.0,196.2Z" fill="#2e2d85"/><path d="M547.0,200.4 L554.2,200.4 L554.2,201.2 L550.6,203.4 L547.0,201.2Z" fill="#fff"/>
<path d="M558.8,184.7 L564.4,187.8 L564.4,194.0 L558.8,197.1 L553.2,194.0 L553.2,187.8Z" fill="#2e2d85"/><path d="M555.2,192.0 L562.4,192.0 L562.4,192.8 L558.8,195.0 L555.2,192.8Z" fill="#fff"/>
<path d="M567.1,189.4 L572.7,192.5 L572.7,198.7 L567.1,201.8 L561.5,198.7 L561.5,192.5Z" fill="#2e2d85"/><path d="M563.5,196.7 L570.7,196.7 L570.7,197.5 L567.1,199.7 L563.5,197.5Z" fill="#fff"/>
<path d="M575.3,192.9 L580.9,196.0 L580.9,202.2 L575.3,205.3 L569.7,202.2 L569.7,196.0Z" fill="#2e2d85"/><path d="M571.7,200.2 L578.9,200.2 L578.9,201.0 L575.3,203.2 L571.7,201.0Z" fill="#fff"/>
<path d="M583.5,189.4 L589.1,192.5 L589.1,198.7 L583.5,201.8 L577.9,198.7 L577.9,192.5Z" fill="#2e2d85"/><path d="M579.9,196.7 L587.1,196.7 L587.1,197.5 L583.5,199.7 L579.9,197.5Z" fill="#fff"/>
<path d="M591.8,190.3 L597.4,193.4 L597.4,199.6 L591.8,202.7 L586.2,199.6 L586.2,193.4Z" fill="#2e2d85"/><path d="M588.2,197.6 L595.4,197.6 L595.4,198.4 L591.8,200.6 L588.2,198.4Z" fill="#fff"/>
<path d="M600.0,185.4 L605.6,188.5 L605.6,194.7 L600.0,197.8 L594.4,194.7 L594.4,188.5Z" fill="#2e2d85"/><path d="M596.4,192.7 L603.6,192.7 L603.6,193.5 L600.0,195.7 L596.4,193.5Z" fill="#fff"/>
<path d="M608.3,178.6 L613.9,181.7 L613.9,187.9 L608.3,191.0 L602.7,187.9 L602.7,181.7Z" fill="#2e2d85"/><path d="M604.7,185.9 L611.9,185.9 L611.9,186.7 L608.3,188.9 L604.7,186.7Z" fill="#fff"/>
<path d="M616.5,184.3 L622.1,187.4 L622.1,193.6 L616.5,196.7 L610.9,193.6 L610.9,187.4Z" fill="#2e2d85"/><path d="M612.9,191.6 L620.1,191.6 L620.1,192.4 L616.5,194.6 L612.9,192.4Z" fill="#fff"/>
<path d="M624.8,191.1 L630.4,194.2 L630.4,200.4 L624.8,203.5 L619.2,200.4 L619.2,194.2Z" fill="#2e2d85"/><path d="M621.2,198.4 L628.4,198.4 L628.4,199.2 L624.8,201.4 L621.2,199.2Z" fill="#fff"/>
<path d="M633.0,191.1 L638.6,194.2 L638.6,200.4 L633.0,203.5 L627.4,200.4 L627.4,194.2Z" fill="#2e2d85"/><path d="M629.4,198.4 L636.6,198.4 L636.6,199.2 L633.0,201.4 L629.4,199.2Z" fill="#fff"/>
<path d="M641.3,186.5 L646.9,189.6 L646.9,195.8 L641.3,198.9 L635.7,195.8 L635.7,189.6Z" fill="#2e2d85"/><path d="M637.7,193.8 L644.9,193.8 L644.9,194.6 L641.3,196.8 L637.7,194.6Z" fill="#fff"/>
<path d="M649.5,186.5 L655.1,189.6 L655.1,195.8 L649.5,198.9 L643.9,195.8 L643.9,189.6Z" fill="#2e2d85"/><path d="M645.9,193.8 L653.1,193.8 L653.1,194.6 L649.5,196.8 L645.9,194.6Z" fill="#fff"/>
<path d="M657.8,186.5 L663.4,189.6 L663.4,195.8 L657.8,198.9 L652.1,195.8 L652.1,189.6Z" fill="#2e2d85"/><path d="M654.1,193.8 L661.4,193.8 L661.4,194.6 L657.8,196.8 L654.1,194.6Z" fill="#fff"/>
<path d="M666.0,184.5 L671.6,187.6 L671.6,193.8 L666.0,196.9 L660.4,193.8 L660.4,187.6Z" fill="#2e2d85"/><path d="M662.4,191.8 L669.6,191.8 L669.6,192.6 L666.0,194.8 L662.4,192.6Z" fill="#fff"/>
<path d="M674.2,183.0 L679.8,186.1 L679.8,192.3 L674.2,195.4 L668.6,192.3 L668.6,186.1Z" fill="#2e2d85"/><path d="M670.6,190.3 L677.8,190.3 L677.8,191.1 L674.2,193.3 L670.6,191.1Z" fill="#fff"/>
<path d="M402.15,182.00 L410.40,184.20 L418.64,188.00 L426.89,189.90 L435.13,190.60 L443.38,191.60 L451.62,195.40 L459.87,191.10 L468.11,185.80 L476.36,190.30 L484.60,190.10 L492.85,184.60 L501.09,181.60 L509.34,183.10 L517.58,185.80 L525.83,189.50 L534.07,194.00 L542.32,194.80 L550.56,191.90 L558.81,185.10 L567.05,185.50 L575.30,183.10 L583.54,178.50 L591.79,185.10 L600.03,183.40 L608.28,160.10 L616.52,169.50 L624.77,178.50 L633.01,167.10 L641.26,165.00 L649.50,171.80 L657.75,171.40 L665.99,162.90 L674.24,161.50" fill="none" stroke="#2f8535" stroke-width="2.1" stroke-linejoin="round"/>
<path d="M402.2,175.8 L408.6,181.1 L406.4,187.5 L398.0,187.5 L395.8,181.1Z" fill="#2f8535"/><path d="M398.7,183.5 L405.7,183.5 L405.0,186.0 L399.4,186.0Z" fill="#fff"/>
<path d="M410.4,178.0 L416.8,183.3 L414.6,189.7 L406.2,189.7 L404.0,183.3Z" fill="#2f8535"/><path d="M406.9,185.7 L413.9,185.7 L413.2,188.2 L407.6,188.2Z" fill="#fff"/>
<path d="M418.6,181.8 L425.0,187.1 L422.8,193.5 L414.4,193.5 L412.2,187.1Z" fill="#2f8535"/><path d="M415.1,189.5 L422.1,189.5 L421.4,192.0 L415.8,192.0Z" fill="#fff"/>
<path d="M426.9,183.7 L433.3,189.0 L431.1,195.4 L422.7,195.4 L420.5,189.0Z" fill="#2f8535"/><path d="M423.4,191.4 L430.4,191.4 L429.7,193.9 L424.1,193.9Z" fill="#fff"/>
<path d="M435.1,184.4 L441.5,189.7 L439.3,196.1 L430.9,196.1 L428.7,189.7Z" fill="#2f8535"/><path d="M431.6,192.1 L438.6,192.1 L437.9,194.6 L432.3,194.6Z" fill="#fff"/>
<path d="M443.4,185.4 L449.8,190.7 L447.6,197.1 L439.2,197.1 L437.0,190.7Z" fill="#2f8535"/><path d="M439.9,193.1 L446.9,193.1 L446.2,195.6 L440.6,195.6Z" fill="#fff"/>
<path d="M451.6,189.2 L458.0,194.5 L455.8,200.9 L447.4,200.9 L445.2,194.5Z" fill="#2f8535"/><path d="M448.1,196.9 L455.1,196.9 L454.4,199.4 L448.8,199.4Z" fill="#fff"/>
<path d="M459.9,184.9 L466.3,190.2 L464.1,196.6 L455.7,196.6 L453.5,190.2Z" fill="#2f8535"/><path d="M456.4,192.6 L463.4,192.6 L462.7,195.1 L457.1,195.1Z" fill="#fff"/>
<path d="M468.1,179.6 L474.5,184.9 L472.3,191.3 L463.9,191.3 L461.7,184.9Z" fill="#2f8535"/><path d="M464.6,187.3 L471.6,187.3 L470.9,189.8 L465.3,189.8Z" fill="#fff"/>
<path d="M476.4,184.1 L482.8,189.4 L480.6,195.8 L472.2,195.8 L470.0,189.4Z" fill="#2f8535"/><path d="M472.9,191.8 L479.9,191.8 L479.2,194.3 L473.6,194.3Z" fill="#fff"/>
<path d="M484.6,183.9 L491.0,189.2 L488.8,195.6 L480.4,195.6 L478.2,189.2Z" fill="#2f8535"/><path d="M481.1,191.6 L488.1,191.6 L487.4,194.1 L481.8,194.1Z" fill="#fff"/>
<path d="M492.8,178.4 L499.2,183.7 L497.0,190.1 L488.6,190.1 L486.4,183.7Z" fill="#2f8535"/><path d="M489.3,186.1 L496.3,186.1 L495.6,188.6 L490.0,188.6Z" fill="#fff"/>
<path d="M501.1,175.4 L507.5,180.7 L505.3,187.1 L496.9,187.1 L494.7,180.7Z" fill="#2f8535"/><path d="M497.6,183.1 L504.6,183.1 L503.9,185.6 L498.3,185.6Z" fill="#fff"/>
<path d="M509.3,176.9 L515.7,182.2 L513.5,188.6 L505.1,188.6 L502.9,182.2Z" fill="#2f8535"/><path d="M505.8,184.6 L512.8,184.6 L512.1,187.1 L506.5,187.1Z" fill="#fff"/>
<path d="M517.6,179.6 L524.0,184.9 L521.8,191.3 L513.4,191.3 L511.2,184.9Z" fill="#2f8535"/><path d="M514.1,187.3 L521.1,187.3 L520.4,189.8 L514.8,189.8Z" fill="#fff"/>
<path d="M525.8,183.3 L532.2,188.6 L530.0,195.0 L521.6,195.0 L519.4,188.6Z" fill="#2f8535"/><path d="M522.3,191.0 L529.3,191.0 L528.6,193.5 L523.0,193.5Z" fill="#fff"/>
<path d="M534.1,187.8 L540.5,193.1 L538.3,199.5 L529.9,199.5 L527.7,193.1Z" fill="#2f8535"/><path d="M530.6,195.5 L537.6,195.5 L536.9,198.0 L531.3,198.0Z" fill="#fff"/>
<path d="M542.3,188.6 L548.7,193.9 L546.5,200.3 L538.1,200.3 L535.9,193.9Z" fill="#2f8535"/><path d="M538.8,196.3 L545.8,196.3 L545.1,198.8 L539.5,198.8Z" fill="#fff"/>
<path d="M550.6,185.7 L557.0,191.0 L554.8,197.4 L546.4,197.4 L544.2,191.0Z" fill="#2f8535"/><path d="M547.1,193.4 L554.1,193.4 L553.4,195.9 L547.8,195.9Z" fill="#fff"/>
<path d="M558.8,178.9 L565.2,184.2 L563.0,190.6 L554.6,190.6 L552.4,184.2Z" fill="#2f8535"/><path d="M555.3,186.6 L562.3,186.6 L561.6,189.1 L556.0,189.1Z" fill="#fff"/>
<path d="M567.1,179.3 L573.5,184.6 L571.3,191.0 L562.9,191.0 L560.7,184.6Z" fill="#2f8535"/><path d="M563.6,187.0 L570.6,187.0 L569.9,189.5 L564.3,189.5Z" fill="#fff"/>
<path d="M575.3,176.9 L581.7,182.2 L579.5,188.6 L571.1,188.6 L568.9,182.2Z" fill="#2f8535"/><path d="M571.8,184.6 L578.8,184.6 L578.1,187.1 L572.5,187.1Z" fill="#fff"/>
<path d="M583.5,172.3 L589.9,177.6 L587.7,184.0 L579.3,184.0 L577.1,177.6Z" fill="#2f8535"/><path d="M580.0,180.0 L587.0,180.0 L586.3,182.5 L580.7,182.5Z" fill="#fff"/>
<path d="M591.8,178.9 L598.2,184.2 L596.0,190.6 L587.6,190.6 L585.4,184.2Z" fill="#2f8535"/><path d="M588.3,186.6 L595.3,186.6 L594.6,189.1 L589.0,189.1Z" fill="#fff"/>
<path d="M600.0,177.2 L606.4,182.5 L604.2,188.9 L595.8,188.9 L593.6,182.5Z" fill="#2f8535"/><path d="M596.5,184.9 L603.5,184.9 L602.8,187.4 L597.2,187.4Z" fill="#fff"/>
<path d="M608.3,153.9 L614.7,159.2 L612.5,165.6 L604.1,165.6 L601.9,159.2Z" fill="#2f8535"/><path d="M604.8,161.6 L611.8,161.6 L611.1,164.1 L605.5,164.1Z" fill="#fff"/>
<path d="M616.5,163.3 L622.9,168.6 L620.7,175.0 L612.3,175.0 L610.1,168.6Z" fill="#2f8535"/><path d="M613.0,171.0 L620.0,171.0 L619.3,173.5 L613.7,173.5Z" fill="#fff"/>
<path d="M624.8,172.3 L631.2,177.6 L629.0,184.0 L620.6,184.0 L618.4,177.6Z" fill="#2f8535"/><path d="M621.3,180.0 L628.3,180.0 L627.6,182.5 L622.0,182.5Z" fill="#fff"/>
<path d="M633.0,160.9 L639.4,166.2 L637.2,172.6 L628.8,172.6 L626.6,166.2Z" fill="#2f8535"/><path d="M629.5,168.6 L636.5,168.6 L635.8,171.1 L630.2,171.1Z" fill="#fff"/>
<path d="M641.3,158.8 L647.7,164.1 L645.5,170.5 L637.1,170.5 L634.9,164.1Z" fill="#2f8535"/><path d="M637.8,166.5 L644.8,166.5 L644.1,169.0 L638.5,169.0Z" fill="#fff"/>
<path d="M649.5,165.6 L655.9,170.9 L653.7,177.3 L645.3,177.3 L643.1,170.9Z" fill="#2f8535"/><path d="M646.0,173.3 L653.0,173.3 L652.3,175.8 L646.7,175.8Z" fill="#fff"/>
<path d="M657.8,165.2 L664.1,170.5 L662.0,176.9 L653.5,176.9 L651.4,170.5Z" fill="#2f8535"/><path d="M654.2,172.9 L661.2,172.9 L660.5,175.4 L655.0,175.4Z" fill="#fff"/>
<path d="M666.0,156.7 L672.4,162.0 L670.2,168.4 L661.8,168.4 L659.6,162.0Z" fill="#2f8535"/><path d="M662.5,164.4 L669.5,164.4 L668.8,166.9 L663.2,166.9Z" fill="#fff"/>
<path d="M674.2,155.3 L680.6,160.6 L678.4,167.0 L670.0,167.0 L667.8,160.6Z" fill="#2f8535"/><path d="M670.7,163.0 L677.7,163.0 L677.0,165.5 L671.4,165.5Z" fill="#fff"/>
</g>
<rect x="403.80" y="17.50" width="271.60" height="219.00" fill="none" stroke="#222" stroke-width="1.3"/>
<text transform="translate(403.80 256.80) scale(1 1.05)" font-size="14" text-anchor="middle" fill="#111">2</text>
<text transform="translate(439.05 256.80) scale(1 1.05)" font-size="14" text-anchor="middle" fill="#111">4</text>
<text transform="translate(473.00 256.80) scale(1 1.05)" font-size="14" text-anchor="middle" fill="#111">6</text>
<text transform="translate(506.95 256.80) scale(1 1.05)" font-size="14" text-anchor="middle" fill="#111">8</text>
<text transform="translate(540.90 256.80) scale(1 1.05)" font-size="14" text-anchor="middle" fill="#111">10</text>
<text transform="translate(574.85 256.80) scale(1 1.05)" font-size="14" text-anchor="middle" fill="#111">12</text>
<text transform="translate(608.80 256.80) scale(1 1.05)" font-size="14" text-anchor="middle" fill="#111">14</text>
<text transform="translate(642.75 256.80) scale(1 1.05)" font-size="14" text-anchor="middle" fill="#111">16</text>
<text transform="translate(676.70 256.80) scale(1 1.05)" font-size="14" text-anchor="middle" fill="#111">18</text>
<text transform="translate(397.00 241.90) scale(1 1.05)" font-size="14" text-anchor="end" fill="#111">0</text>
<text transform="translate(397.00 198.10) scale(1 1.05)" font-size="14" text-anchor="end" fill="#111">4</text>
<text transform="translate(397.00 154.30) scale(1 1.05)" font-size="14" text-anchor="end" fill="#111">8</text>
<text transform="translate(397.00 110.50) scale(1 1.05)" font-size="14" text-anchor="end" fill="#111">12</text>
<text transform="translate(397.00 66.70) scale(1 1.05)" font-size="14" text-anchor="end" fill="#111">16</text>
<text transform="translate(397.00 22.90) scale(1 1.05)" font-size="14" text-anchor="end" fill="#111">20</text>
<path d="M403.80,236.50 v4.2 M420.78,236.50 v2.4 M437.75,236.50 v4.2 M454.73,236.50 v2.4 M471.70,236.50 v4.2 M488.68,236.50 v2.4 M505.65,236.50 v4.2 M522.62,236.50 v2.4 M539.60,236.50 v4.2 M556.58,236.50 v2.4 M573.55,236.50 v4.2 M590.52,236.50 v2.4 M607.50,236.50 v4.2 M624.48,236.50 v2.4 M641.45,236.50 v4.2 M658.42,236.50 v2.4 M675.40,236.50 v4.2 M403.80,236.50 h-4.2 M403.80,214.60 h-2.0 M403.80,192.70 h-4.2 M403.80,170.80 h-2.0 M403.80,148.90 h-4.2 M403.80,127.00 h-2.0 M403.80,105.10 h-4.2 M403.80,83.20 h-2.0 M403.80,61.30 h-4.2 M403.80,39.40 h-2.0 M403.80,17.50 h-4.2" stroke="#222" stroke-width="1.2" fill="none"/>
<text x="544.80" y="273.80" font-size="14.4" text-anchor="middle" fill="#111">Frequency (GHz)</text>
<text x="373.70" y="130.40" font-size="14" text-anchor="middle" fill="#111" transform="rotate(-90 373.70 130.40)" dy="5">ε</text>
<path d="M368.1,123.3 L372.3,123.7 L372.3,124.6 L368.1,125.0 Z M368.1,125.8 L372.3,126.2 L372.3,127.1 L368.1,127.5 Z" fill="#111"/>
<text x="355.10" y="14.50" font-size="14.5" font-weight="bold" fill="#111" stroke="#111" stroke-width="0.2">(b)</text>
<path d="M598.00,26.20 H620.60" stroke="#0b0b0b" stroke-width="2.0" stroke-linecap="round"/>
<path d="M604.9,21.6 L614.1,21.6 L614.1,30.8 L604.9,30.8Z" fill="#0b0b0b"/><path d="M606.7,27.2 L612.3,27.2 L612.3,29.1 L606.7,29.1Z" fill="#fff"/>
<text x="622.80" y="30.00" font-size="10.4" font-weight="bold" fill="#111" stroke="#111" stroke-width="0.25">PLC-700</text>
<path d="M598.00,38.80 H620.60" stroke="#da2c1c" stroke-width="2.0" stroke-linecap="round"/>
<circle cx="609.5" cy="38.8" r="5.1" fill="#da2c1c"/><path d="M606.23,40.30 L612.77,40.30 A3.6,3.6 0 0 1 606.23,40.30Z" fill="#fff"/>
<text x="622.80" y="42.60" font-size="10.4" font-weight="bold" fill="#111" stroke="#111" stroke-width="0.25">PMS</text>
<path d="M598.00,51.40 H620.60" stroke="#ee7b22" stroke-width="2.0" stroke-linecap="round"/>
<path d="M609.5,44.0 L616.1,55.7 L602.9,55.7Z" fill="#ee7b22"/><path d="M606.1,52.4 L612.9,52.4 L612.9,54.0 L606.1,54.0Z" fill="#fff"/>
<text x="622.80" y="55.20" font-size="10.4" font-weight="bold" fill="#111" stroke="#111" stroke-width="0.25">LCMS-600</text>
<path d="M598.00,64.00 H620.60" stroke="#2e2d85" stroke-width="2.0" stroke-linecap="round"/>
<path d="M609.5,57.8 L615.1,60.9 L615.1,67.1 L609.5,70.2 L603.9,67.1 L603.9,60.9Z" fill="#2e2d85"/><path d="M605.9,65.1 L613.1,65.1 L613.1,65.9 L609.5,68.1 L605.9,65.9Z" fill="#fff"/>
<text x="622.80" y="67.80" font-size="10.4" font-weight="bold" fill="#111" stroke="#111" stroke-width="0.25">LCMS-700</text>
<path d="M598.00,76.60 H620.60" stroke="#2f8535" stroke-width="2.0" stroke-linecap="round"/>
<path d="M609.5,70.4 L615.9,75.7 L613.7,82.1 L605.3,82.1 L603.1,75.7Z" fill="#2f8535"/><path d="M606.0,78.1 L613.0,78.1 L612.3,80.6 L606.7,80.6Z" fill="#fff"/>
<text x="622.80" y="80.40" font-size="10.4" font-weight="bold" fill="#111" stroke="#111" stroke-width="0.25">LCMS-800</text>
<rect x="48.80" y="300.40" width="33.10" height="220.00" fill="#d3ecc5"/>
<rect x="81.90" y="300.40" width="76.90" height="220.00" fill="#faf5cd"/>
<rect x="158.80" y="300.40" width="69.00" height="220.00" fill="#e6f5f8"/>
<rect x="227.80" y="300.40" width="94.90" height="220.00" fill="#fde4e5"/>
<rect x="49.05" y="284.40" width="35.35" height="13.60" fill="#7dc400"/>
<text transform="translate(67.10 295.30) scale(1 1.08)" font-size="9.1" font-weight="bold" text-anchor="middle" fill="#111" stroke="#111" stroke-width="0.15">S band</text>
<rect x="84.40" y="284.40" width="75.70" height="13.60" fill="#f2e440"/>
<text transform="translate(120.40 295.30) scale(1 1.08)" font-size="9.1" font-weight="bold" text-anchor="middle" fill="#111" stroke="#111" stroke-width="0.15">C band</text>
<rect x="160.10" y="284.40" width="69.10" height="13.60" fill="#8edce3"/>
<text transform="translate(195.50 295.30) scale(1 1.08)" font-size="9.1" font-weight="bold" text-anchor="middle" fill="#111" stroke="#111" stroke-width="0.15">X band</text>
<rect x="229.20" y="284.40" width="95.70" height="13.60" fill="#e0301f"/>
<text transform="translate(277.00 295.30) scale(1 1.08)" font-size="9.1" font-weight="bold" text-anchor="middle" fill="#111" stroke="#111" stroke-width="0.15">Ku band</text>
<g clip-path="url(#clipc)">
<path d="M46.90,453.60 L55.20,460.00 L63.50,464.60 L71.80,467.80 L80.10,470.00 L88.40,472.00 L96.70,479.40 L105.00,471.00 L113.30,463.00 L121.60,466.80 L129.90,466.50 L138.20,456.80 L146.50,448.50 L154.80,448.50 L163.10,448.90 L171.40,450.70 L179.70,453.50 L188.00,455.00 L196.30,444.50 L204.60,429.30 L212.90,427.70 L221.20,410.50 L229.50,422.90 L237.80,445.40 L246.10,415.10 L251.30,392.50 L254.40,399.40 L262.70,431.50 L271.00,449.00 L279.30,442.40 L287.60,447.00 L295.90,453.50 L304.20,456.60 L312.50,453.50 L320.80,454.10" fill="none" stroke="#0b0b0b" stroke-width="2.1" stroke-linejoin="round"/>
<path d="M42.3,449.0 L51.5,449.0 L51.5,458.2 L42.3,458.2Z" fill="#0b0b0b"/><path d="M44.1,454.6 L49.7,454.6 L49.7,456.5 L44.1,456.5Z" fill="#fff"/>
<path d="M50.6,455.4 L59.8,455.4 L59.8,464.6 L50.6,464.6Z" fill="#0b0b0b"/><path d="M52.4,461.0 L58.0,461.0 L58.0,462.9 L52.4,462.9Z" fill="#fff"/>
<path d="M58.9,460.0 L68.1,460.0 L68.1,469.2 L58.9,469.2Z" fill="#0b0b0b"/><path d="M60.7,465.6 L66.3,465.6 L66.3,467.5 L60.7,467.5Z" fill="#fff"/>
<path d="M67.2,463.2 L76.4,463.2 L76.4,472.4 L67.2,472.4Z" fill="#0b0b0b"/><path d="M69.0,468.8 L74.6,468.8 L74.6,470.7 L69.0,470.7Z" fill="#fff"/>
<path d="M75.5,465.4 L84.7,465.4 L84.7,474.6 L75.5,474.6Z" fill="#0b0b0b"/><path d="M77.3,471.0 L82.9,471.0 L82.9,472.9 L77.3,472.9Z" fill="#fff"/>
<path d="M83.8,467.4 L93.0,467.4 L93.0,476.6 L83.8,476.6Z" fill="#0b0b0b"/><path d="M85.6,473.0 L91.2,473.0 L91.2,474.9 L85.6,474.9Z" fill="#fff"/>
<path d="M92.1,474.8 L101.3,474.8 L101.3,484.0 L92.1,484.0Z" fill="#0b0b0b"/><path d="M93.9,480.4 L99.5,480.4 L99.5,482.3 L93.9,482.3Z" fill="#fff"/>
<path d="M100.4,466.4 L109.6,466.4 L109.6,475.6 L100.4,475.6Z" fill="#0b0b0b"/><path d="M102.2,472.0 L107.8,472.0 L107.8,473.9 L102.2,473.9Z" fill="#fff"/>
<path d="M108.7,458.4 L117.9,458.4 L117.9,467.6 L108.7,467.6Z" fill="#0b0b0b"/><path d="M110.5,464.0 L116.1,464.0 L116.1,465.9 L110.5,465.9Z" fill="#fff"/>
<path d="M117.0,462.2 L126.2,462.2 L126.2,471.4 L117.0,471.4Z" fill="#0b0b0b"/><path d="M118.8,467.8 L124.4,467.8 L124.4,469.7 L118.8,469.7Z" fill="#fff"/>
<path d="M125.3,461.9 L134.5,461.9 L134.5,471.1 L125.3,471.1Z" fill="#0b0b0b"/><path d="M127.1,467.5 L132.7,467.5 L132.7,469.4 L127.1,469.4Z" fill="#fff"/>
<path d="M133.6,452.2 L142.8,452.2 L142.8,461.4 L133.6,461.4Z" fill="#0b0b0b"/><path d="M135.4,457.8 L141.0,457.8 L141.0,459.7 L135.4,459.7Z" fill="#fff"/>
<path d="M141.9,443.9 L151.1,443.9 L151.1,453.1 L141.9,453.1Z" fill="#0b0b0b"/><path d="M143.7,449.5 L149.3,449.5 L149.3,451.4 L143.7,451.4Z" fill="#fff"/>
<path d="M150.2,443.9 L159.4,443.9 L159.4,453.1 L150.2,453.1Z" fill="#0b0b0b"/><path d="M152.0,449.5 L157.6,449.5 L157.6,451.4 L152.0,451.4Z" fill="#fff"/>
<path d="M158.5,444.3 L167.7,444.3 L167.7,453.5 L158.5,453.5Z" fill="#0b0b0b"/><path d="M160.3,449.9 L165.9,449.9 L165.9,451.8 L160.3,451.8Z" fill="#fff"/>
<path d="M166.8,446.1 L176.0,446.1 L176.0,455.3 L166.8,455.3Z" fill="#0b0b0b"/><path d="M168.6,451.7 L174.2,451.7 L174.2,453.6 L168.6,453.6Z" fill="#fff"/>
<path d="M175.1,448.9 L184.3,448.9 L184.3,458.1 L175.1,458.1Z" fill="#0b0b0b"/><path d="M176.9,454.5 L182.5,454.5 L182.5,456.4 L176.9,456.4Z" fill="#fff"/>
<path d="M183.4,450.4 L192.6,450.4 L192.6,459.6 L183.4,459.6Z" fill="#0b0b0b"/><path d="M185.2,456.0 L190.8,456.0 L190.8,457.9 L185.2,457.9Z" fill="#fff"/>
<path d="M191.7,439.9 L200.9,439.9 L200.9,449.1 L191.7,449.1Z" fill="#0b0b0b"/><path d="M193.5,445.5 L199.1,445.5 L199.1,447.4 L193.5,447.4Z" fill="#fff"/>
<path d="M200.0,424.7 L209.2,424.7 L209.2,433.9 L200.0,433.9Z" fill="#0b0b0b"/><path d="M201.8,430.3 L207.4,430.3 L207.4,432.2 L201.8,432.2Z" fill="#fff"/>
<path d="M208.3,423.1 L217.5,423.1 L217.5,432.3 L208.3,432.3Z" fill="#0b0b0b"/><path d="M210.1,428.7 L215.7,428.7 L215.7,430.6 L210.1,430.6Z" fill="#fff"/>
<path d="M216.6,405.9 L225.8,405.9 L225.8,415.1 L216.6,415.1Z" fill="#0b0b0b"/><path d="M218.4,411.5 L224.0,411.5 L224.0,413.4 L218.4,413.4Z" fill="#fff"/>
<path d="M224.9,418.3 L234.1,418.3 L234.1,427.5 L224.9,427.5Z" fill="#0b0b0b"/><path d="M226.7,423.9 L232.3,423.9 L232.3,425.8 L226.7,425.8Z" fill="#fff"/>
<path d="M233.2,440.8 L242.4,440.8 L242.4,450.0 L233.2,450.0Z" fill="#0b0b0b"/><path d="M235.0,446.4 L240.6,446.4 L240.6,448.3 L235.0,448.3Z" fill="#fff"/>
<path d="M241.5,410.5 L250.7,410.5 L250.7,419.7 L241.5,419.7Z" fill="#0b0b0b"/><path d="M243.3,416.1 L248.9,416.1 L248.9,418.0 L243.3,418.0Z" fill="#fff"/>
<path d="M249.8,394.8 L259.0,394.8 L259.0,404.0 L249.8,404.0Z" fill="#0b0b0b"/><path d="M251.6,400.4 L257.2,400.4 L257.2,402.3 L251.6,402.3Z" fill="#fff"/>
<path d="M258.1,426.9 L267.3,426.9 L267.3,436.1 L258.1,436.1Z" fill="#0b0b0b"/><path d="M259.9,432.5 L265.5,432.5 L265.5,434.4 L259.9,434.4Z" fill="#fff"/>
<path d="M266.4,444.4 L275.6,444.4 L275.6,453.6 L266.4,453.6Z" fill="#0b0b0b"/><path d="M268.2,450.0 L273.8,450.0 L273.8,451.9 L268.2,451.9Z" fill="#fff"/>
<path d="M274.7,437.8 L283.9,437.8 L283.9,447.0 L274.7,447.0Z" fill="#0b0b0b"/><path d="M276.5,443.4 L282.1,443.4 L282.1,445.3 L276.5,445.3Z" fill="#fff"/>
<path d="M283.0,442.4 L292.2,442.4 L292.2,451.6 L283.0,451.6Z" fill="#0b0b0b"/><path d="M284.8,448.0 L290.4,448.0 L290.4,449.9 L284.8,449.9Z" fill="#fff"/>
<path d="M291.3,448.9 L300.5,448.9 L300.5,458.1 L291.3,458.1Z" fill="#0b0b0b"/><path d="M293.1,454.5 L298.7,454.5 L298.7,456.4 L293.1,456.4Z" fill="#fff"/>
<path d="M299.6,452.0 L308.8,452.0 L308.8,461.2 L299.6,461.2Z" fill="#0b0b0b"/><path d="M301.4,457.6 L307.0,457.6 L307.0,459.5 L301.4,459.5Z" fill="#fff"/>
<path d="M307.9,448.9 L317.1,448.9 L317.1,458.1 L307.9,458.1Z" fill="#0b0b0b"/><path d="M309.7,454.5 L315.3,454.5 L315.3,456.4 L309.7,456.4Z" fill="#fff"/>
<path d="M316.2,449.5 L325.4,449.5 L325.4,458.7 L316.2,458.7Z" fill="#0b0b0b"/><path d="M318.0,455.1 L323.6,455.1 L323.6,457.0 L318.0,457.0Z" fill="#fff"/>
<path d="M46.90,497.50 L55.20,498.70 L63.50,499.90 L71.80,501.60 L80.10,502.20 L88.40,501.60 L96.70,502.80 L105.00,506.30 L113.30,507.50 L121.60,506.30 L129.90,504.60 L138.20,502.80 L146.50,501.10 L154.80,502.20 L163.10,503.40 L171.40,505.70 L179.70,508.70 L188.00,509.50 L196.30,507.30 L204.60,503.20 L212.90,503.00 L221.20,504.40 L229.50,501.50 L237.80,495.00 L246.10,499.10 L254.40,500.60 L262.70,501.20 L271.00,499.60 L279.30,501.30 L287.60,504.50 L295.90,506.70 L304.20,505.00 L312.50,501.50 L320.80,505.40" fill="none" stroke="#da2c1c" stroke-width="2.1" stroke-linejoin="round"/>
<circle cx="46.9" cy="497.5" r="5.1" fill="#da2c1c"/><path d="M43.63,499.00 L50.17,499.00 A3.6,3.6 0 0 1 43.63,499.00Z" fill="#fff"/>
<circle cx="55.2" cy="498.7" r="5.1" fill="#da2c1c"/><path d="M51.93,500.20 L58.47,500.20 A3.6,3.6 0 0 1 51.93,500.20Z" fill="#fff"/>
<circle cx="63.5" cy="499.9" r="5.1" fill="#da2c1c"/><path d="M60.23,501.40 L66.77,501.40 A3.6,3.6 0 0 1 60.23,501.40Z" fill="#fff"/>
<circle cx="71.8" cy="501.6" r="5.1" fill="#da2c1c"/><path d="M68.53,503.10 L75.07,503.10 A3.6,3.6 0 0 1 68.53,503.10Z" fill="#fff"/>
<circle cx="80.1" cy="502.2" r="5.1" fill="#da2c1c"/><path d="M76.83,503.70 L83.37,503.70 A3.6,3.6 0 0 1 76.83,503.70Z" fill="#fff"/>
<circle cx="88.4" cy="501.6" r="5.1" fill="#da2c1c"/><path d="M85.13,503.10 L91.67,503.10 A3.6,3.6 0 0 1 85.13,503.10Z" fill="#fff"/>
<circle cx="96.7" cy="502.8" r="5.1" fill="#da2c1c"/><path d="M93.43,504.30 L99.97,504.30 A3.6,3.6 0 0 1 93.43,504.30Z" fill="#fff"/>
<circle cx="105.0" cy="506.3" r="5.1" fill="#da2c1c"/><path d="M101.73,507.80 L108.27,507.80 A3.6,3.6 0 0 1 101.73,507.80Z" fill="#fff"/>
<circle cx="113.3" cy="507.5" r="5.1" fill="#da2c1c"/><path d="M110.03,509.00 L116.57,509.00 A3.6,3.6 0 0 1 110.03,509.00Z" fill="#fff"/>
<circle cx="121.6" cy="506.3" r="5.1" fill="#da2c1c"/><path d="M118.33,507.80 L124.87,507.80 A3.6,3.6 0 0 1 118.33,507.80Z" fill="#fff"/>
<circle cx="129.9" cy="504.6" r="5.1" fill="#da2c1c"/><path d="M126.63,506.10 L133.17,506.10 A3.6,3.6 0 0 1 126.63,506.10Z" fill="#fff"/>
<circle cx="138.2" cy="502.8" r="5.1" fill="#da2c1c"/><path d="M134.93,504.30 L141.47,504.30 A3.6,3.6 0 0 1 134.93,504.30Z" fill="#fff"/>
<circle cx="146.5" cy="501.1" r="5.1" fill="#da2c1c"/><path d="M143.23,502.60 L149.77,502.60 A3.6,3.6 0 0 1 143.23,502.60Z" fill="#fff"/>
<circle cx="154.8" cy="502.2" r="5.1" fill="#da2c1c"/><path d="M151.53,503.70 L158.07,503.70 A3.6,3.6 0 0 1 151.53,503.70Z" fill="#fff"/>
<circle cx="163.1" cy="503.4" r="5.1" fill="#da2c1c"/><path d="M159.83,504.90 L166.37,504.90 A3.6,3.6 0 0 1 159.83,504.90Z" fill="#fff"/>
<circle cx="171.4" cy="505.7" r="5.1" fill="#da2c1c"/><path d="M168.13,507.20 L174.67,507.20 A3.6,3.6 0 0 1 168.13,507.20Z" fill="#fff"/>
<circle cx="179.7" cy="508.7" r="5.1" fill="#da2c1c"/><path d="M176.43,510.20 L182.97,510.20 A3.6,3.6 0 0 1 176.43,510.20Z" fill="#fff"/>
<circle cx="188.0" cy="509.5" r="5.1" fill="#da2c1c"/><path d="M184.73,511.00 L191.27,511.00 A3.6,3.6 0 0 1 184.73,511.00Z" fill="#fff"/>
<circle cx="196.3" cy="507.3" r="5.1" fill="#da2c1c"/><path d="M193.03,508.80 L199.57,508.80 A3.6,3.6 0 0 1 193.03,508.80Z" fill="#fff"/>
<circle cx="204.6" cy="503.2" r="5.1" fill="#da2c1c"/><path d="M201.33,504.70 L207.87,504.70 A3.6,3.6 0 0 1 201.33,504.70Z" fill="#fff"/>
<circle cx="212.9" cy="503.0" r="5.1" fill="#da2c1c"/><path d="M209.63,504.50 L216.17,504.50 A3.6,3.6 0 0 1 209.63,504.50Z" fill="#fff"/>
<circle cx="221.2" cy="504.4" r="5.1" fill="#da2c1c"/><path d="M217.93,505.90 L224.47,505.90 A3.6,3.6 0 0 1 217.93,505.90Z" fill="#fff"/>
<circle cx="229.5" cy="501.5" r="5.1" fill="#da2c1c"/><path d="M226.23,503.00 L232.77,503.00 A3.6,3.6 0 0 1 226.23,503.00Z" fill="#fff"/>
<circle cx="237.8" cy="495.0" r="5.1" fill="#da2c1c"/><path d="M234.53,496.50 L241.07,496.50 A3.6,3.6 0 0 1 234.53,496.50Z" fill="#fff"/>
<circle cx="246.1" cy="499.1" r="5.1" fill="#da2c1c"/><path d="M242.83,500.60 L249.37,500.60 A3.6,3.6 0 0 1 242.83,500.60Z" fill="#fff"/>
<circle cx="254.4" cy="500.6" r="5.1" fill="#da2c1c"/><path d="M251.13,502.10 L257.67,502.10 A3.6,3.6 0 0 1 251.13,502.10Z" fill="#fff"/>
<circle cx="262.7" cy="501.2" r="5.1" fill="#da2c1c"/><path d="M259.43,502.70 L265.97,502.70 A3.6,3.6 0 0 1 259.43,502.70Z" fill="#fff"/>
<circle cx="271.0" cy="499.6" r="5.1" fill="#da2c1c"/><path d="M267.73,501.10 L274.27,501.10 A3.6,3.6 0 0 1 267.73,501.10Z" fill="#fff"/>
<circle cx="279.3" cy="501.3" r="5.1" fill="#da2c1c"/><path d="M276.03,502.80 L282.57,502.80 A3.6,3.6 0 0 1 276.03,502.80Z" fill="#fff"/>
<circle cx="287.6" cy="504.5" r="5.1" fill="#da2c1c"/><path d="M284.33,506.00 L290.87,506.00 A3.6,3.6 0 0 1 284.33,506.00Z" fill="#fff"/>
<circle cx="295.9" cy="506.7" r="5.1" fill="#da2c1c"/><path d="M292.63,508.20 L299.17,508.20 A3.6,3.6 0 0 1 292.63,508.20Z" fill="#fff"/>
<circle cx="304.2" cy="505.0" r="5.1" fill="#da2c1c"/><path d="M300.93,506.50 L307.47,506.50 A3.6,3.6 0 0 1 300.93,506.50Z" fill="#fff"/>
<circle cx="312.5" cy="501.5" r="5.1" fill="#da2c1c"/><path d="M309.23,503.00 L315.77,503.00 A3.6,3.6 0 0 1 309.23,503.00Z" fill="#fff"/>
<circle cx="320.8" cy="505.4" r="5.1" fill="#da2c1c"/><path d="M317.53,506.90 L324.07,506.90 A3.6,3.6 0 0 1 317.53,506.90Z" fill="#fff"/>
<path d="M46.90,486.00 L55.20,487.50 L63.50,489.90 L71.80,493.40 L80.10,496.30 L88.40,496.30 L96.70,498.30 L105.00,502.70 L113.30,501.00 L121.60,500.70 L129.90,502.10 L138.20,501.60 L146.50,499.80 L154.80,499.80 L163.10,501.60 L171.40,503.00 L179.70,506.20 L188.00,507.80 L196.30,508.30 L204.60,506.00 L212.90,502.70 L221.20,506.50 L229.50,503.30 L237.80,499.00 L246.10,501.80 L254.40,502.60 L262.70,503.40 L271.00,502.80 L279.30,506.50 L287.60,505.60 L295.90,504.50 L304.20,505.00 L312.50,507.60 L320.80,509.40" fill="none" stroke="#ee7b22" stroke-width="2.1" stroke-linejoin="round"/>
<path d="M46.9,478.6 L53.5,490.3 L40.3,490.3Z" fill="#ee7b22"/><path d="M43.5,487.0 L50.3,487.0 L50.3,488.6 L43.5,488.6Z" fill="#fff"/>
<path d="M55.2,480.1 L61.8,491.8 L48.6,491.8Z" fill="#ee7b22"/><path d="M51.8,488.5 L58.6,488.5 L58.6,490.1 L51.8,490.1Z" fill="#fff"/>
<path d="M63.5,482.5 L70.1,494.2 L56.9,494.2Z" fill="#ee7b22"/><path d="M60.1,490.9 L66.9,490.9 L66.9,492.5 L60.1,492.5Z" fill="#fff"/>
<path d="M71.8,486.0 L78.4,497.7 L65.2,497.7Z" fill="#ee7b22"/><path d="M68.4,494.4 L75.2,494.4 L75.2,496.0 L68.4,496.0Z" fill="#fff"/>
<path d="M80.1,488.9 L86.7,500.6 L73.5,500.6Z" fill="#ee7b22"/><path d="M76.7,497.3 L83.5,497.3 L83.5,498.9 L76.7,498.9Z" fill="#fff"/>
<path d="M88.4,488.9 L95.0,500.6 L81.8,500.6Z" fill="#ee7b22"/><path d="M85.0,497.3 L91.8,497.3 L91.8,498.9 L85.0,498.9Z" fill="#fff"/>
<path d="M96.7,490.9 L103.3,502.6 L90.1,502.6Z" fill="#ee7b22"/><path d="M93.3,499.3 L100.1,499.3 L100.1,500.9 L93.3,500.9Z" fill="#fff"/>
<path d="M105.0,495.3 L111.6,507.0 L98.4,507.0Z" fill="#ee7b22"/><path d="M101.6,503.7 L108.4,503.7 L108.4,505.3 L101.6,505.3Z" fill="#fff"/>
<path d="M113.3,493.6 L119.9,505.3 L106.7,505.3Z" fill="#ee7b22"/><path d="M109.9,502.0 L116.7,502.0 L116.7,503.6 L109.9,503.6Z" fill="#fff"/>
<path d="M121.6,493.3 L128.2,505.0 L115.0,505.0Z" fill="#ee7b22"/><path d="M118.2,501.7 L125.0,501.7 L125.0,503.3 L118.2,503.3Z" fill="#fff"/>
<path d="M129.9,494.7 L136.5,506.4 L123.3,506.4Z" fill="#ee7b22"/><path d="M126.5,503.1 L133.3,503.1 L133.3,504.7 L126.5,504.7Z" fill="#fff"/>
<path d="M138.2,494.2 L144.8,505.9 L131.6,505.9Z" fill="#ee7b22"/><path d="M134.8,502.6 L141.6,502.6 L141.6,504.2 L134.8,504.2Z" fill="#fff"/>
<path d="M146.5,492.4 L153.1,504.1 L139.9,504.1Z" fill="#ee7b22"/><path d="M143.1,500.8 L149.9,500.8 L149.9,502.4 L143.1,502.4Z" fill="#fff"/>
<path d="M154.8,492.4 L161.4,504.1 L148.2,504.1Z" fill="#ee7b22"/><path d="M151.4,500.8 L158.2,500.8 L158.2,502.4 L151.4,502.4Z" fill="#fff"/>
<path d="M163.1,494.2 L169.7,505.9 L156.5,505.9Z" fill="#ee7b22"/><path d="M159.7,502.6 L166.5,502.6 L166.5,504.2 L159.7,504.2Z" fill="#fff"/>
<path d="M171.4,495.6 L178.0,507.3 L164.8,507.3Z" fill="#ee7b22"/><path d="M168.0,504.0 L174.8,504.0 L174.8,505.6 L168.0,505.6Z" fill="#fff"/>
<path d="M179.7,498.8 L186.3,510.5 L173.1,510.5Z" fill="#ee7b22"/><path d="M176.3,507.2 L183.1,507.2 L183.1,508.8 L176.3,508.8Z" fill="#fff"/>
<path d="M188.0,500.4 L194.6,512.1 L181.4,512.1Z" fill="#ee7b22"/><path d="M184.6,508.8 L191.4,508.8 L191.4,510.4 L184.6,510.4Z" fill="#fff"/>
<path d="M196.3,500.9 L202.9,512.6 L189.7,512.6Z" fill="#ee7b22"/><path d="M192.9,509.3 L199.7,509.3 L199.7,510.9 L192.9,510.9Z" fill="#fff"/>
<path d="M204.6,498.6 L211.2,510.3 L198.0,510.3Z" fill="#ee7b22"/><path d="M201.2,507.0 L208.0,507.0 L208.0,508.6 L201.2,508.6Z" fill="#fff"/>
<path d="M212.9,495.3 L219.5,507.0 L206.3,507.0Z" fill="#ee7b22"/><path d="M209.5,503.7 L216.3,503.7 L216.3,505.3 L209.5,505.3Z" fill="#fff"/>
<path d="M221.2,499.1 L227.8,510.8 L214.6,510.8Z" fill="#ee7b22"/><path d="M217.8,507.5 L224.6,507.5 L224.6,509.1 L217.8,509.1Z" fill="#fff"/>
<path d="M229.5,495.9 L236.1,507.6 L222.9,507.6Z" fill="#ee7b22"/><path d="M226.1,504.3 L232.9,504.3 L232.9,505.9 L226.1,505.9Z" fill="#fff"/>
<path d="M237.8,491.6 L244.4,503.3 L231.2,503.3Z" fill="#ee7b22"/><path d="M234.4,500.0 L241.2,500.0 L241.2,501.6 L234.4,501.6Z" fill="#fff"/>
<path d="M246.1,494.4 L252.7,506.1 L239.5,506.1Z" fill="#ee7b22"/><path d="M242.7,502.8 L249.5,502.8 L249.5,504.4 L242.7,504.4Z" fill="#fff"/>
<path d="M254.4,495.2 L261.0,506.9 L247.8,506.9Z" fill="#ee7b22"/><path d="M251.0,503.6 L257.8,503.6 L257.8,505.2 L251.0,505.2Z" fill="#fff"/>
<path d="M262.7,496.0 L269.3,507.7 L256.1,507.7Z" fill="#ee7b22"/><path d="M259.3,504.4 L266.1,504.4 L266.1,506.0 L259.3,506.0Z" fill="#fff"/>
<path d="M271.0,495.4 L277.6,507.1 L264.4,507.1Z" fill="#ee7b22"/><path d="M267.6,503.8 L274.4,503.8 L274.4,505.4 L267.6,505.4Z" fill="#fff"/>
<path d="M279.3,499.1 L285.9,510.8 L272.7,510.8Z" fill="#ee7b22"/><path d="M275.9,507.5 L282.7,507.5 L282.7,509.1 L275.9,509.1Z" fill="#fff"/>
<path d="M287.6,498.2 L294.2,509.9 L281.0,509.9Z" fill="#ee7b22"/><path d="M284.2,506.6 L291.0,506.6 L291.0,508.2 L284.2,508.2Z" fill="#fff"/>
<path d="M295.9,497.1 L302.5,508.8 L289.3,508.8Z" fill="#ee7b22"/><path d="M292.5,505.5 L299.3,505.5 L299.3,507.1 L292.5,507.1Z" fill="#fff"/>
<path d="M304.2,497.6 L310.8,509.3 L297.6,509.3Z" fill="#ee7b22"/><path d="M300.8,506.0 L307.6,506.0 L307.6,507.6 L300.8,507.6Z" fill="#fff"/>
<path d="M312.5,500.2 L319.1,511.9 L305.9,511.9Z" fill="#ee7b22"/><path d="M309.1,508.6 L315.9,508.6 L315.9,510.2 L309.1,510.2Z" fill="#fff"/>
<path d="M320.8,502.0 L327.4,513.7 L314.2,513.7Z" fill="#ee7b22"/><path d="M317.4,510.4 L324.2,510.4 L324.2,512.0 L317.4,512.0Z" fill="#fff"/>
<path d="M46.90,466.30 L55.20,469.20 L63.50,468.60 L71.80,470.70 L80.10,470.90 L88.40,471.30 L96.70,472.80 L105.00,474.70 L113.30,471.00 L121.60,471.60 L129.90,470.50 L138.20,466.70 L146.50,464.60 L154.80,466.70 L163.10,468.30 L171.40,468.30 L179.70,471.30 L188.00,471.50 L196.30,468.30 L204.60,454.70 L212.90,457.10 L221.20,463.00 L229.50,459.00 L237.80,458.20 L246.10,454.00 L254.40,437.60 L262.70,443.60 L271.00,449.00 L279.30,455.10 L287.60,441.40 L295.90,438.60 L304.20,439.90 L312.50,440.10 L320.80,438.90" fill="none" stroke="#2e2d85" stroke-width="2.1" stroke-linejoin="round"/>
<path d="M46.9,460.1 L52.5,463.2 L52.5,469.4 L46.9,472.5 L41.3,469.4 L41.3,463.2Z" fill="#2e2d85"/><path d="M43.3,467.4 L50.5,467.4 L50.5,468.2 L46.9,470.4 L43.3,468.2Z" fill="#fff"/>
<path d="M55.2,463.0 L60.8,466.1 L60.8,472.3 L55.2,475.4 L49.6,472.3 L49.6,466.1Z" fill="#2e2d85"/><path d="M51.6,470.3 L58.8,470.3 L58.8,471.1 L55.2,473.3 L51.6,471.1Z" fill="#fff"/>
<path d="M63.5,462.4 L69.1,465.5 L69.1,471.7 L63.5,474.8 L57.9,471.7 L57.9,465.5Z" fill="#2e2d85"/><path d="M59.9,469.7 L67.1,469.7 L67.1,470.5 L63.5,472.7 L59.9,470.5Z" fill="#fff"/>
<path d="M71.8,464.5 L77.4,467.6 L77.4,473.8 L71.8,476.9 L66.2,473.8 L66.2,467.6Z" fill="#2e2d85"/><path d="M68.2,471.8 L75.4,471.8 L75.4,472.6 L71.8,474.8 L68.2,472.6Z" fill="#fff"/>
<path d="M80.1,464.7 L85.7,467.8 L85.7,474.0 L80.1,477.1 L74.5,474.0 L74.5,467.8Z" fill="#2e2d85"/><path d="M76.5,472.0 L83.7,472.0 L83.7,472.8 L80.1,475.0 L76.5,472.8Z" fill="#fff"/>
<path d="M88.4,465.1 L94.0,468.2 L94.0,474.4 L88.4,477.5 L82.8,474.4 L82.8,468.2Z" fill="#2e2d85"/><path d="M84.8,472.4 L92.0,472.4 L92.0,473.2 L88.4,475.4 L84.8,473.2Z" fill="#fff"/>
<path d="M96.7,466.6 L102.3,469.7 L102.3,475.9 L96.7,479.0 L91.1,475.9 L91.1,469.7Z" fill="#2e2d85"/><path d="M93.1,473.9 L100.3,473.9 L100.3,474.7 L96.7,476.9 L93.1,474.7Z" fill="#fff"/>
<path d="M105.0,468.5 L110.6,471.6 L110.6,477.8 L105.0,480.9 L99.4,477.8 L99.4,471.6Z" fill="#2e2d85"/><path d="M101.4,475.8 L108.6,475.8 L108.6,476.6 L105.0,478.8 L101.4,476.6Z" fill="#fff"/>
<path d="M113.3,464.8 L118.9,467.9 L118.9,474.1 L113.3,477.2 L107.7,474.1 L107.7,467.9Z" fill="#2e2d85"/><path d="M109.7,472.1 L116.9,472.1 L116.9,472.9 L113.3,475.1 L109.7,472.9Z" fill="#fff"/>
<path d="M121.6,465.4 L127.2,468.5 L127.2,474.7 L121.6,477.8 L116.0,474.7 L116.0,468.5Z" fill="#2e2d85"/><path d="M118.0,472.7 L125.2,472.7 L125.2,473.5 L121.6,475.7 L118.0,473.5Z" fill="#fff"/>
<path d="M129.9,464.3 L135.5,467.4 L135.5,473.6 L129.9,476.7 L124.3,473.6 L124.3,467.4Z" fill="#2e2d85"/><path d="M126.3,471.6 L133.5,471.6 L133.5,472.4 L129.9,474.6 L126.3,472.4Z" fill="#fff"/>
<path d="M138.2,460.5 L143.8,463.6 L143.8,469.8 L138.2,472.9 L132.6,469.8 L132.6,463.6Z" fill="#2e2d85"/><path d="M134.6,467.8 L141.8,467.8 L141.8,468.6 L138.2,470.8 L134.6,468.6Z" fill="#fff"/>
<path d="M146.5,458.4 L152.1,461.5 L152.1,467.7 L146.5,470.8 L140.9,467.7 L140.9,461.5Z" fill="#2e2d85"/><path d="M142.9,465.7 L150.1,465.7 L150.1,466.5 L146.5,468.7 L142.9,466.5Z" fill="#fff"/>
<path d="M154.8,460.5 L160.4,463.6 L160.4,469.8 L154.8,472.9 L149.2,469.8 L149.2,463.6Z" fill="#2e2d85"/><path d="M151.2,467.8 L158.4,467.8 L158.4,468.6 L154.8,470.8 L151.2,468.6Z" fill="#fff"/>
<path d="M163.1,462.1 L168.7,465.2 L168.7,471.4 L163.1,474.5 L157.5,471.4 L157.5,465.2Z" fill="#2e2d85"/><path d="M159.5,469.4 L166.7,469.4 L166.7,470.2 L163.1,472.4 L159.5,470.2Z" fill="#fff"/>
<path d="M171.4,462.1 L177.0,465.2 L177.0,471.4 L171.4,474.5 L165.8,471.4 L165.8,465.2Z" fill="#2e2d85"/><path d="M167.8,469.4 L175.0,469.4 L175.0,470.2 L171.4,472.4 L167.8,470.2Z" fill="#fff"/>
<path d="M179.7,465.1 L185.3,468.2 L185.3,474.4 L179.7,477.5 L174.1,474.4 L174.1,468.2Z" fill="#2e2d85"/><path d="M176.1,472.4 L183.3,472.4 L183.3,473.2 L179.7,475.4 L176.1,473.2Z" fill="#fff"/>
<path d="M188.0,465.3 L193.6,468.4 L193.6,474.6 L188.0,477.7 L182.4,474.6 L182.4,468.4Z" fill="#2e2d85"/><path d="M184.4,472.6 L191.6,472.6 L191.6,473.4 L188.0,475.6 L184.4,473.4Z" fill="#fff"/>
<path d="M196.3,462.1 L201.9,465.2 L201.9,471.4 L196.3,474.5 L190.7,471.4 L190.7,465.2Z" fill="#2e2d85"/><path d="M192.7,469.4 L199.9,469.4 L199.9,470.2 L196.3,472.4 L192.7,470.2Z" fill="#fff"/>
<path d="M204.6,448.5 L210.2,451.6 L210.2,457.8 L204.6,460.9 L199.0,457.8 L199.0,451.6Z" fill="#2e2d85"/><path d="M201.0,455.8 L208.2,455.8 L208.2,456.6 L204.6,458.8 L201.0,456.6Z" fill="#fff"/>
<path d="M212.9,450.9 L218.5,454.0 L218.5,460.2 L212.9,463.3 L207.3,460.2 L207.3,454.0Z" fill="#2e2d85"/><path d="M209.3,458.2 L216.5,458.2 L216.5,459.0 L212.9,461.2 L209.3,459.0Z" fill="#fff"/>
<path d="M221.2,456.8 L226.8,459.9 L226.8,466.1 L221.2,469.2 L215.6,466.1 L215.6,459.9Z" fill="#2e2d85"/><path d="M217.6,464.1 L224.8,464.1 L224.8,464.9 L221.2,467.1 L217.6,464.9Z" fill="#fff"/>
<path d="M229.5,452.8 L235.1,455.9 L235.1,462.1 L229.5,465.2 L223.9,462.1 L223.9,455.9Z" fill="#2e2d85"/><path d="M225.9,460.1 L233.1,460.1 L233.1,460.9 L229.5,463.1 L225.9,460.9Z" fill="#fff"/>
<path d="M237.8,452.0 L243.4,455.1 L243.4,461.3 L237.8,464.4 L232.2,461.3 L232.2,455.1Z" fill="#2e2d85"/><path d="M234.2,459.3 L241.4,459.3 L241.4,460.1 L237.8,462.3 L234.2,460.1Z" fill="#fff"/>
<path d="M246.1,447.8 L251.7,450.9 L251.7,457.1 L246.1,460.2 L240.5,457.1 L240.5,450.9Z" fill="#2e2d85"/><path d="M242.5,455.1 L249.7,455.1 L249.7,455.9 L246.1,458.1 L242.5,455.9Z" fill="#fff"/>
<path d="M254.4,431.4 L260.0,434.5 L260.0,440.7 L254.4,443.8 L248.8,440.7 L248.8,434.5Z" fill="#2e2d85"/><path d="M250.8,438.7 L258.0,438.7 L258.0,439.5 L254.4,441.7 L250.8,439.5Z" fill="#fff"/>
<path d="M262.7,437.4 L268.3,440.5 L268.3,446.7 L262.7,449.8 L257.1,446.7 L257.1,440.5Z" fill="#2e2d85"/><path d="M259.1,444.7 L266.3,444.7 L266.3,445.5 L262.7,447.7 L259.1,445.5Z" fill="#fff"/>
<path d="M271.0,442.8 L276.6,445.9 L276.6,452.1 L271.0,455.2 L265.4,452.1 L265.4,445.9Z" fill="#2e2d85"/><path d="M267.4,450.1 L274.6,450.1 L274.6,450.9 L271.0,453.1 L267.4,450.9Z" fill="#fff"/>
<path d="M279.3,448.9 L284.9,452.0 L284.9,458.2 L279.3,461.3 L273.7,458.2 L273.7,452.0Z" fill="#2e2d85"/><path d="M275.7,456.2 L282.9,456.2 L282.9,457.0 L279.3,459.2 L275.7,457.0Z" fill="#fff"/>
<path d="M287.6,435.2 L293.2,438.3 L293.2,444.5 L287.6,447.6 L282.0,444.5 L282.0,438.3Z" fill="#2e2d85"/><path d="M284.0,442.5 L291.2,442.5 L291.2,443.3 L287.6,445.5 L284.0,443.3Z" fill="#fff"/>
<path d="M295.9,432.4 L301.5,435.5 L301.5,441.7 L295.9,444.8 L290.3,441.7 L290.3,435.5Z" fill="#2e2d85"/><path d="M292.3,439.7 L299.5,439.7 L299.5,440.5 L295.9,442.7 L292.3,440.5Z" fill="#fff"/>
<path d="M304.2,433.7 L309.8,436.8 L309.8,443.0 L304.2,446.1 L298.6,443.0 L298.6,436.8Z" fill="#2e2d85"/><path d="M300.6,441.0 L307.8,441.0 L307.8,441.8 L304.2,444.0 L300.6,441.8Z" fill="#fff"/>
<path d="M312.5,433.9 L318.1,437.0 L318.1,443.2 L312.5,446.3 L306.9,443.2 L306.9,437.0Z" fill="#2e2d85"/><path d="M308.9,441.2 L316.1,441.2 L316.1,442.0 L312.5,444.2 L308.9,442.0Z" fill="#fff"/>
<path d="M320.8,432.7 L326.4,435.8 L326.4,442.0 L320.8,445.1 L315.2,442.0 L315.2,435.8Z" fill="#2e2d85"/><path d="M317.2,440.0 L324.4,440.0 L324.4,440.8 L320.8,443.0 L317.2,440.8Z" fill="#fff"/>
<path d="M46.90,480.00 L55.20,482.50 L63.50,483.40 L71.80,484.30 L80.10,484.70 L88.40,484.70 L96.70,486.90 L105.00,486.60 L113.30,479.40 L121.60,480.30 L129.90,480.00 L138.20,476.20 L146.50,473.50 L154.80,474.60 L163.10,476.50 L171.40,477.80 L179.70,480.00 L188.00,479.70 L196.30,477.80 L204.60,472.90 L212.90,472.10 L221.20,471.80 L229.50,464.10 L237.80,469.40 L246.10,475.80 L254.40,452.10 L262.70,453.80 L271.00,460.40 L279.30,449.90 L287.60,434.70 L295.90,439.30 L304.20,442.20 L312.50,433.70 L320.80,429.70" fill="none" stroke="#2f8535" stroke-width="2.1" stroke-linejoin="round"/>
<path d="M46.9,473.8 L53.3,479.1 L51.1,485.5 L42.7,485.5 L40.5,479.1Z" fill="#2f8535"/><path d="M43.4,481.5 L50.4,481.5 L49.7,484.0 L44.1,484.0Z" fill="#fff"/>
<path d="M55.2,476.3 L61.6,481.6 L59.4,488.0 L51.0,488.0 L48.8,481.6Z" fill="#2f8535"/><path d="M51.7,484.0 L58.7,484.0 L58.0,486.5 L52.4,486.5Z" fill="#fff"/>
<path d="M63.5,477.2 L69.9,482.5 L67.7,488.9 L59.3,488.9 L57.1,482.5Z" fill="#2f8535"/><path d="M60.0,484.9 L67.0,484.9 L66.3,487.4 L60.7,487.4Z" fill="#fff"/>
<path d="M71.8,478.1 L78.2,483.4 L76.0,489.8 L67.6,489.8 L65.4,483.4Z" fill="#2f8535"/><path d="M68.3,485.8 L75.3,485.8 L74.6,488.3 L69.0,488.3Z" fill="#fff"/>
<path d="M80.1,478.5 L86.5,483.8 L84.3,490.2 L75.9,490.2 L73.7,483.8Z" fill="#2f8535"/><path d="M76.6,486.2 L83.6,486.2 L82.9,488.7 L77.3,488.7Z" fill="#fff"/>
<path d="M88.4,478.5 L94.8,483.8 L92.6,490.2 L84.2,490.2 L82.0,483.8Z" fill="#2f8535"/><path d="M84.9,486.2 L91.9,486.2 L91.2,488.7 L85.6,488.7Z" fill="#fff"/>
<path d="M96.7,480.7 L103.1,486.0 L100.9,492.4 L92.5,492.4 L90.3,486.0Z" fill="#2f8535"/><path d="M93.2,488.4 L100.2,488.4 L99.5,490.9 L93.9,490.9Z" fill="#fff"/>
<path d="M105.0,480.4 L111.4,485.7 L109.2,492.1 L100.8,492.1 L98.6,485.7Z" fill="#2f8535"/><path d="M101.5,488.1 L108.5,488.1 L107.8,490.6 L102.2,490.6Z" fill="#fff"/>
<path d="M113.3,473.2 L119.7,478.5 L117.5,484.9 L109.1,484.9 L106.9,478.5Z" fill="#2f8535"/><path d="M109.8,480.9 L116.8,480.9 L116.1,483.4 L110.5,483.4Z" fill="#fff"/>
<path d="M121.6,474.1 L128.0,479.4 L125.8,485.8 L117.4,485.8 L115.2,479.4Z" fill="#2f8535"/><path d="M118.1,481.8 L125.1,481.8 L124.4,484.3 L118.8,484.3Z" fill="#fff"/>
<path d="M129.9,473.8 L136.3,479.1 L134.1,485.5 L125.7,485.5 L123.5,479.1Z" fill="#2f8535"/><path d="M126.4,481.5 L133.4,481.5 L132.7,484.0 L127.1,484.0Z" fill="#fff"/>
<path d="M138.2,470.0 L144.6,475.3 L142.4,481.7 L134.0,481.7 L131.8,475.3Z" fill="#2f8535"/><path d="M134.7,477.7 L141.7,477.7 L141.0,480.2 L135.4,480.2Z" fill="#fff"/>
<path d="M146.5,467.3 L152.9,472.6 L150.7,479.0 L142.3,479.0 L140.1,472.6Z" fill="#2f8535"/><path d="M143.0,475.0 L150.0,475.0 L149.3,477.5 L143.7,477.5Z" fill="#fff"/>
<path d="M154.8,468.4 L161.2,473.7 L159.0,480.1 L150.6,480.1 L148.4,473.7Z" fill="#2f8535"/><path d="M151.3,476.1 L158.3,476.1 L157.6,478.6 L152.0,478.6Z" fill="#fff"/>
<path d="M163.1,470.3 L169.5,475.6 L167.3,482.0 L158.9,482.0 L156.7,475.6Z" fill="#2f8535"/><path d="M159.6,478.0 L166.6,478.0 L165.9,480.5 L160.3,480.5Z" fill="#fff"/>
<path d="M171.4,471.6 L177.8,476.9 L175.6,483.3 L167.2,483.3 L165.0,476.9Z" fill="#2f8535"/><path d="M167.9,479.3 L174.9,479.3 L174.2,481.8 L168.6,481.8Z" fill="#fff"/>
<path d="M179.7,473.8 L186.1,479.1 L183.9,485.5 L175.5,485.5 L173.3,479.1Z" fill="#2f8535"/><path d="M176.2,481.5 L183.2,481.5 L182.5,484.0 L176.9,484.0Z" fill="#fff"/>
<path d="M188.0,473.5 L194.4,478.8 L192.2,485.2 L183.8,485.2 L181.6,478.8Z" fill="#2f8535"/><path d="M184.5,481.2 L191.5,481.2 L190.8,483.7 L185.2,483.7Z" fill="#fff"/>
<path d="M196.3,471.6 L202.7,476.9 L200.5,483.3 L192.1,483.3 L189.9,476.9Z" fill="#2f8535"/><path d="M192.8,479.3 L199.8,479.3 L199.1,481.8 L193.5,481.8Z" fill="#fff"/>
<path d="M204.6,466.7 L211.0,472.0 L208.8,478.4 L200.4,478.4 L198.2,472.0Z" fill="#2f8535"/><path d="M201.1,474.4 L208.1,474.4 L207.4,476.9 L201.8,476.9Z" fill="#fff"/>
<path d="M212.9,465.9 L219.3,471.2 L217.1,477.6 L208.7,477.6 L206.5,471.2Z" fill="#2f8535"/><path d="M209.4,473.6 L216.4,473.6 L215.7,476.1 L210.1,476.1Z" fill="#fff"/>
<path d="M221.2,465.6 L227.6,470.9 L225.4,477.3 L217.0,477.3 L214.8,470.9Z" fill="#2f8535"/><path d="M217.7,473.3 L224.7,473.3 L224.0,475.8 L218.4,475.8Z" fill="#fff"/>
<path d="M229.5,457.9 L235.9,463.2 L233.7,469.6 L225.3,469.6 L223.1,463.2Z" fill="#2f8535"/><path d="M226.0,465.6 L233.0,465.6 L232.3,468.1 L226.7,468.1Z" fill="#fff"/>
<path d="M237.8,463.2 L244.2,468.5 L242.0,474.9 L233.6,474.9 L231.4,468.5Z" fill="#2f8535"/><path d="M234.3,470.9 L241.3,470.9 L240.6,473.4 L235.0,473.4Z" fill="#fff"/>
<path d="M246.1,469.6 L252.5,474.9 L250.3,481.3 L241.9,481.3 L239.7,474.9Z" fill="#2f8535"/><path d="M242.6,477.3 L249.6,477.3 L248.9,479.8 L243.3,479.8Z" fill="#fff"/>
<path d="M254.4,445.9 L260.8,451.2 L258.6,457.6 L250.2,457.6 L248.0,451.2Z" fill="#2f8535"/><path d="M250.9,453.6 L257.9,453.6 L257.2,456.1 L251.6,456.1Z" fill="#fff"/>
<path d="M262.7,447.6 L269.1,452.9 L266.9,459.3 L258.5,459.3 L256.3,452.9Z" fill="#2f8535"/><path d="M259.2,455.3 L266.2,455.3 L265.5,457.8 L259.9,457.8Z" fill="#fff"/>
<path d="M271.0,454.2 L277.4,459.5 L275.2,465.9 L266.8,465.9 L264.6,459.5Z" fill="#2f8535"/><path d="M267.5,461.9 L274.5,461.9 L273.8,464.4 L268.2,464.4Z" fill="#fff"/>
<path d="M279.3,443.7 L285.7,449.0 L283.5,455.4 L275.1,455.4 L272.9,449.0Z" fill="#2f8535"/><path d="M275.8,451.4 L282.8,451.4 L282.1,453.9 L276.5,453.9Z" fill="#fff"/>
<path d="M287.6,428.5 L294.0,433.8 L291.8,440.2 L283.4,440.2 L281.2,433.8Z" fill="#2f8535"/><path d="M284.1,436.2 L291.1,436.2 L290.4,438.7 L284.8,438.7Z" fill="#fff"/>
<path d="M295.9,433.1 L302.3,438.4 L300.1,444.8 L291.7,444.8 L289.5,438.4Z" fill="#2f8535"/><path d="M292.4,440.8 L299.4,440.8 L298.7,443.3 L293.1,443.3Z" fill="#fff"/>
<path d="M304.2,436.0 L310.6,441.3 L308.4,447.7 L300.0,447.7 L297.8,441.3Z" fill="#2f8535"/><path d="M300.7,443.7 L307.7,443.7 L307.0,446.2 L301.4,446.2Z" fill="#fff"/>
<path d="M312.5,427.5 L318.9,432.8 L316.7,439.2 L308.3,439.2 L306.1,432.8Z" fill="#2f8535"/><path d="M309.0,435.2 L316.0,435.2 L315.3,437.7 L309.7,437.7Z" fill="#fff"/>
<path d="M320.8,423.5 L327.2,428.8 L325.0,435.2 L316.6,435.2 L314.4,428.8Z" fill="#2f8535"/><path d="M317.3,431.2 L324.3,431.2 L323.6,433.7 L318.0,433.7Z" fill="#fff"/>
</g>
<rect x="48.80" y="300.40" width="273.90" height="220.00" fill="none" stroke="#222" stroke-width="1.3"/>
<text transform="translate(48.80 539.50) scale(1 1.05)" font-size="14" text-anchor="middle" fill="#111">2</text>
<text transform="translate(83.04 539.50) scale(1 1.05)" font-size="14" text-anchor="middle" fill="#111">4</text>
<text transform="translate(117.27 539.50) scale(1 1.05)" font-size="14" text-anchor="middle" fill="#111">6</text>
<text transform="translate(151.51 539.50) scale(1 1.05)" font-size="14" text-anchor="middle" fill="#111">8</text>
<text transform="translate(185.75 539.50) scale(1 1.05)" font-size="14" text-anchor="middle" fill="#111">10</text>
<text transform="translate(219.99 539.50) scale(1 1.05)" font-size="14" text-anchor="middle" fill="#111">12</text>
<text transform="translate(254.22 539.50) scale(1 1.05)" font-size="14" text-anchor="middle" fill="#111">14</text>
<text transform="translate(288.46 539.50) scale(1 1.05)" font-size="14" text-anchor="middle" fill="#111">16</text>
<text transform="translate(322.70 539.50) scale(1 1.05)" font-size="14" text-anchor="middle" fill="#111">18</text>
<text transform="translate(42.00 525.80) scale(1 1.05)" font-size="14" text-anchor="end" fill="#111">0.0</text>
<text transform="translate(42.00 481.80) scale(1 1.05)" font-size="14" text-anchor="end" fill="#111">0.4</text>
<text transform="translate(42.00 437.80) scale(1 1.05)" font-size="14" text-anchor="end" fill="#111">0.8</text>
<text transform="translate(42.00 393.80) scale(1 1.05)" font-size="14" text-anchor="end" fill="#111">1.2</text>
<text transform="translate(42.00 349.80) scale(1 1.05)" font-size="14" text-anchor="end" fill="#111">1.6</text>
<text transform="translate(42.00 305.80) scale(1 1.05)" font-size="14" text-anchor="end" fill="#111">2.0</text>
<path d="M48.80,520.40 v4.2 M65.92,520.40 v2.4 M83.04,520.40 v4.2 M100.16,520.40 v2.4 M117.27,520.40 v4.2 M134.39,520.40 v2.4 M151.51,520.40 v4.2 M168.63,520.40 v2.4 M185.75,520.40 v4.2 M202.87,520.40 v2.4 M219.99,520.40 v4.2 M237.11,520.40 v2.4 M254.22,520.40 v4.2 M271.34,520.40 v2.4 M288.46,520.40 v4.2 M305.58,520.40 v2.4 M322.70,520.40 v4.2 M48.80,520.40 h-4.2 M48.80,498.40 h-2.0 M48.80,476.40 h-4.2 M48.80,454.40 h-2.0 M48.80,432.40 h-4.2 M48.80,410.40 h-2.0 M48.80,388.40 h-4.2 M48.80,366.40 h-2.0 M48.80,344.40 h-4.2 M48.80,322.40 h-2.0 M48.80,300.40 h-4.2" stroke="#222" stroke-width="1.2" fill="none"/>
<text x="188.15" y="556.40" font-size="14.4" text-anchor="middle" fill="#111">Frequency (GHz)</text>
<text x="14.30" y="409.00" font-size="14" text-anchor="middle" fill="#111" transform="rotate(-90 14.30 409.00)" dy="5">tan ε</text>
<text x="0.00" y="295.60" font-size="14.5" font-weight="bold" fill="#111" stroke="#111" stroke-width="0.2">(c)</text>
<path d="M243.20,310.10 H265.80" stroke="#0b0b0b" stroke-width="2.0" stroke-linecap="round"/>
<path d="M249.8,305.5 L259.0,305.5 L259.0,314.7 L249.8,314.7Z" fill="#0b0b0b"/><path d="M251.6,311.1 L257.2,311.1 L257.2,313.0 L251.6,313.0Z" fill="#fff"/>
<text x="269.00" y="313.90" font-size="10.4" font-weight="bold" fill="#111" stroke="#111" stroke-width="0.25">PLC-700</text>
<path d="M243.20,322.70 H265.80" stroke="#da2c1c" stroke-width="2.0" stroke-linecap="round"/>
<circle cx="254.4" cy="322.7" r="5.1" fill="#da2c1c"/><path d="M251.13,324.20 L257.67,324.20 A3.6,3.6 0 0 1 251.13,324.20Z" fill="#fff"/>
<text x="269.00" y="326.50" font-size="10.4" font-weight="bold" fill="#111" stroke="#111" stroke-width="0.25">PMS</text>
<path d="M243.20,335.30 H265.80" stroke="#ee7b22" stroke-width="2.0" stroke-linecap="round"/>
<path d="M254.4,327.9 L261.0,339.6 L247.8,339.6Z" fill="#ee7b22"/><path d="M251.0,336.3 L257.8,336.3 L257.8,337.9 L251.0,337.9Z" fill="#fff"/>
<text x="269.00" y="339.10" font-size="10.4" font-weight="bold" fill="#111" stroke="#111" stroke-width="0.25">LCMS-600</text>
<path d="M243.20,347.90 H265.80" stroke="#2e2d85" stroke-width="2.0" stroke-linecap="round"/>
<path d="M254.4,341.7 L260.0,344.8 L260.0,351.0 L254.4,354.1 L248.8,351.0 L248.8,344.8Z" fill="#2e2d85"/><path d="M250.8,349.0 L258.0,349.0 L258.0,349.8 L254.4,352.0 L250.8,349.8Z" fill="#fff"/>
<text x="269.00" y="351.70" font-size="10.4" font-weight="bold" fill="#111" stroke="#111" stroke-width="0.25">LCMS-700</text>
<path d="M243.20,360.50 H265.80" stroke="#2f8535" stroke-width="2.0" stroke-linecap="round"/>
<path d="M254.4,354.3 L260.8,359.6 L258.6,366.0 L250.2,366.0 L248.0,359.6Z" fill="#2f8535"/><path d="M250.9,362.0 L257.9,362.0 L257.2,364.5 L251.6,364.5Z" fill="#fff"/>
<text x="269.00" y="364.30" font-size="10.4" font-weight="bold" fill="#111" stroke="#111" stroke-width="0.25">LCMS-800</text>
<rect x="401.50" y="300.30" width="33.50" height="220.00" fill="#d3ecc5"/>
<rect x="435.00" y="300.30" width="76.60" height="220.00" fill="#faf5cd"/>
<rect x="511.60" y="300.30" width="69.40" height="220.00" fill="#e6f5f8"/>
<rect x="581.00" y="300.30" width="94.30" height="220.00" fill="#fde4e5"/>
<rect x="402.00" y="284.40" width="35.10" height="13.60" fill="#7dc400"/>
<text transform="translate(418.90 295.30) scale(1 1.08)" font-size="9.1" font-weight="bold" text-anchor="middle" fill="#111" stroke="#111" stroke-width="0.15">S band</text>
<rect x="437.10" y="284.40" width="75.80" height="13.60" fill="#f2e440"/>
<text transform="translate(473.80 295.30) scale(1 1.08)" font-size="9.1" font-weight="bold" text-anchor="middle" fill="#111" stroke="#111" stroke-width="0.15">C band</text>
<rect x="512.90" y="284.40" width="69.10" height="13.60" fill="#8edce3"/>
<text transform="translate(549.60 295.30) scale(1 1.08)" font-size="9.1" font-weight="bold" text-anchor="middle" fill="#111" stroke="#111" stroke-width="0.15">X band</text>
<rect x="582.00" y="284.40" width="95.70" height="13.60" fill="#e0301f"/>
<text transform="translate(630.20 295.30) scale(1 1.08)" font-size="9.1" font-weight="bold" text-anchor="middle" fill="#111" stroke="#111" stroke-width="0.15">Ku band</text>
<g clip-path="url(#clipd)">
<path d="M399.58,350.76 L407.90,358.22 L416.22,362.30 L424.54,364.39 L432.86,366.97 L441.18,370.36 L449.50,364.39 L457.82,345.58 L466.14,372.35 L474.46,381.10 L482.78,376.82 L491.10,375.33 L499.42,380.51 L507.74,377.32 L516.06,375.43 L524.38,386.38 L532.70,399.41 L541.02,404.48 L549.34,402.30 L557.66,416.82 L565.98,421.60 L574.30,431.35 L582.62,434.53 L590.94,422.59 L594.91,416.92 L599.26,424.38 L607.58,446.97 L615.90,438.31 L624.22,427.37 L632.54,432.94 L640.86,438.21 L649.18,435.23 L657.50,433.24 L665.82,431.05 L674.14,425.48" fill="none" stroke="#0b0b0b" stroke-width="2.1" stroke-linejoin="round"/>
<path d="M395.0,346.2 L404.2,346.2 L404.2,355.4 L395.0,355.4Z" fill="#0b0b0b"/><path d="M396.8,351.8 L402.4,351.8 L402.4,353.7 L396.8,353.7Z" fill="#fff"/>
<path d="M403.3,353.6 L412.5,353.6 L412.5,362.8 L403.3,362.8Z" fill="#0b0b0b"/><path d="M405.1,359.2 L410.7,359.2 L410.7,361.1 L405.1,361.1Z" fill="#fff"/>
<path d="M411.6,357.7 L420.8,357.7 L420.8,366.9 L411.6,366.9Z" fill="#0b0b0b"/><path d="M413.4,363.3 L419.0,363.3 L419.0,365.2 L413.4,365.2Z" fill="#fff"/>
<path d="M419.9,359.8 L429.1,359.8 L429.1,369.0 L419.9,369.0Z" fill="#0b0b0b"/><path d="M421.7,365.4 L427.3,365.4 L427.3,367.3 L421.7,367.3Z" fill="#fff"/>
<path d="M428.3,362.4 L437.5,362.4 L437.5,371.6 L428.3,371.6Z" fill="#0b0b0b"/><path d="M430.1,368.0 L435.7,368.0 L435.7,369.9 L430.1,369.9Z" fill="#fff"/>
<path d="M436.6,365.8 L445.8,365.8 L445.8,375.0 L436.6,375.0Z" fill="#0b0b0b"/><path d="M438.4,371.4 L444.0,371.4 L444.0,373.3 L438.4,373.3Z" fill="#fff"/>
<path d="M444.9,359.8 L454.1,359.8 L454.1,369.0 L444.9,369.0Z" fill="#0b0b0b"/><path d="M446.7,365.4 L452.3,365.4 L452.3,367.3 L446.7,367.3Z" fill="#fff"/>
<path d="M453.2,341.0 L462.4,341.0 L462.4,350.2 L453.2,350.2Z" fill="#0b0b0b"/><path d="M455.0,346.6 L460.6,346.6 L460.6,348.5 L455.0,348.5Z" fill="#fff"/>
<path d="M461.5,367.7 L470.7,367.7 L470.7,376.9 L461.5,376.9Z" fill="#0b0b0b"/><path d="M463.3,373.3 L468.9,373.3 L468.9,375.2 L463.3,375.2Z" fill="#fff"/>
<path d="M469.9,376.5 L479.1,376.5 L479.1,385.7 L469.9,385.7Z" fill="#0b0b0b"/><path d="M471.7,382.1 L477.3,382.1 L477.3,384.0 L471.7,384.0Z" fill="#fff"/>
<path d="M478.2,372.2 L487.4,372.2 L487.4,381.4 L478.2,381.4Z" fill="#0b0b0b"/><path d="M480.0,377.8 L485.6,377.8 L485.6,379.7 L480.0,379.7Z" fill="#fff"/>
<path d="M486.5,370.7 L495.7,370.7 L495.7,379.9 L486.5,379.9Z" fill="#0b0b0b"/><path d="M488.3,376.3 L493.9,376.3 L493.9,378.2 L488.3,378.2Z" fill="#fff"/>
<path d="M494.8,375.9 L504.0,375.9 L504.0,385.1 L494.8,385.1Z" fill="#0b0b0b"/><path d="M496.6,381.5 L502.2,381.5 L502.2,383.4 L496.6,383.4Z" fill="#fff"/>
<path d="M503.1,372.7 L512.3,372.7 L512.3,381.9 L503.1,381.9Z" fill="#0b0b0b"/><path d="M504.9,378.3 L510.5,378.3 L510.5,380.2 L504.9,380.2Z" fill="#fff"/>
<path d="M511.5,370.8 L520.7,370.8 L520.7,380.0 L511.5,380.0Z" fill="#0b0b0b"/><path d="M513.3,376.4 L518.9,376.4 L518.9,378.3 L513.3,378.3Z" fill="#fff"/>
<path d="M519.8,381.8 L529.0,381.8 L529.0,391.0 L519.8,391.0Z" fill="#0b0b0b"/><path d="M521.6,387.4 L527.2,387.4 L527.2,389.3 L521.6,389.3Z" fill="#fff"/>
<path d="M528.1,394.8 L537.3,394.8 L537.3,404.0 L528.1,404.0Z" fill="#0b0b0b"/><path d="M529.9,400.4 L535.5,400.4 L535.5,402.3 L529.9,402.3Z" fill="#fff"/>
<path d="M536.4,399.9 L545.6,399.9 L545.6,409.1 L536.4,409.1Z" fill="#0b0b0b"/><path d="M538.2,405.5 L543.8,405.5 L543.8,407.4 L538.2,407.4Z" fill="#fff"/>
<path d="M544.7,397.7 L553.9,397.7 L553.9,406.9 L544.7,406.9Z" fill="#0b0b0b"/><path d="M546.5,403.3 L552.1,403.3 L552.1,405.2 L546.5,405.2Z" fill="#fff"/>
<path d="M553.1,412.2 L562.3,412.2 L562.3,421.4 L553.1,421.4Z" fill="#0b0b0b"/><path d="M554.9,417.8 L560.5,417.8 L560.5,419.7 L554.9,419.7Z" fill="#fff"/>
<path d="M561.4,417.0 L570.6,417.0 L570.6,426.2 L561.4,426.2Z" fill="#0b0b0b"/><path d="M563.2,422.6 L568.8,422.6 L568.8,424.5 L563.2,424.5Z" fill="#fff"/>
<path d="M569.7,426.7 L578.9,426.7 L578.9,435.9 L569.7,435.9Z" fill="#0b0b0b"/><path d="M571.5,432.3 L577.1,432.3 L577.1,434.2 L571.5,434.2Z" fill="#fff"/>
<path d="M578.0,429.9 L587.2,429.9 L587.2,439.1 L578.0,439.1Z" fill="#0b0b0b"/><path d="M579.8,435.5 L585.4,435.5 L585.4,437.4 L579.8,437.4Z" fill="#fff"/>
<path d="M586.3,418.0 L595.5,418.0 L595.5,427.2 L586.3,427.2Z" fill="#0b0b0b"/><path d="M588.1,423.6 L593.7,423.6 L593.7,425.5 L588.1,425.5Z" fill="#fff"/>
<path d="M594.7,419.8 L603.9,419.8 L603.9,429.0 L594.7,429.0Z" fill="#0b0b0b"/><path d="M596.5,425.4 L602.1,425.4 L602.1,427.3 L596.5,427.3Z" fill="#fff"/>
<path d="M603.0,442.4 L612.2,442.4 L612.2,451.6 L603.0,451.6Z" fill="#0b0b0b"/><path d="M604.8,448.0 L610.4,448.0 L610.4,449.9 L604.8,449.9Z" fill="#fff"/>
<path d="M611.3,433.7 L620.5,433.7 L620.5,442.9 L611.3,442.9Z" fill="#0b0b0b"/><path d="M613.1,439.3 L618.7,439.3 L618.7,441.2 L613.1,441.2Z" fill="#fff"/>
<path d="M619.6,422.8 L628.8,422.8 L628.8,432.0 L619.6,432.0Z" fill="#0b0b0b"/><path d="M621.4,428.4 L627.0,428.4 L627.0,430.3 L621.4,430.3Z" fill="#fff"/>
<path d="M627.9,428.3 L637.1,428.3 L637.1,437.5 L627.9,437.5Z" fill="#0b0b0b"/><path d="M629.7,433.9 L635.3,433.9 L635.3,435.8 L629.7,435.8Z" fill="#fff"/>
<path d="M636.3,433.6 L645.5,433.6 L645.5,442.8 L636.3,442.8Z" fill="#0b0b0b"/><path d="M638.1,439.2 L643.7,439.2 L643.7,441.1 L638.1,441.1Z" fill="#fff"/>
<path d="M644.6,430.6 L653.8,430.6 L653.8,439.8 L644.6,439.8Z" fill="#0b0b0b"/><path d="M646.4,436.2 L652.0,436.2 L652.0,438.1 L646.4,438.1Z" fill="#fff"/>
<path d="M652.9,428.6 L662.1,428.6 L662.1,437.8 L652.9,437.8Z" fill="#0b0b0b"/><path d="M654.7,434.2 L660.3,434.2 L660.3,436.1 L654.7,436.1Z" fill="#fff"/>
<path d="M661.2,426.5 L670.4,426.5 L670.4,435.7 L661.2,435.7Z" fill="#0b0b0b"/><path d="M663.0,432.1 L668.6,432.1 L668.6,434.0 L663.0,434.0Z" fill="#fff"/>
<path d="M669.5,420.9 L678.7,420.9 L678.7,430.1 L669.5,430.1Z" fill="#0b0b0b"/><path d="M671.3,426.5 L676.9,426.5 L676.9,428.4 L671.3,428.4Z" fill="#fff"/>
<circle cx="399.50" cy="352.40" r="2.55" fill="#2f8535"/>
<circle cx="408.60" cy="354.80" r="2.55" fill="#2f8535"/>
<circle cx="418.20" cy="357.40" r="2.55" fill="#2f8535"/>
<circle cx="427.90" cy="359.70" r="2.55" fill="#2f8535"/>
<circle cx="436.80" cy="362.40" r="2.55" fill="#2f8535"/>
<circle cx="446.00" cy="365.20" r="2.55" fill="#2f8535"/>
<circle cx="454.20" cy="368.30" r="2.55" fill="#2f8535"/>
<circle cx="462.30" cy="371.20" r="2.55" fill="#2f8535"/>
<circle cx="470.40" cy="374.00" r="2.55" fill="#2f8535"/>
<circle cx="478.30" cy="377.20" r="2.55" fill="#2f8535"/>
<circle cx="487.10" cy="380.70" r="2.55" fill="#2f8535"/>
<circle cx="496.20" cy="384.30" r="2.55" fill="#2f8535"/>
<circle cx="505.50" cy="387.70" r="2.55" fill="#2f8535"/>
<circle cx="514.30" cy="391.50" r="2.55" fill="#2f8535"/>
<circle cx="523.60" cy="395.20" r="2.55" fill="#2f8535"/>
<circle cx="532.40" cy="398.60" r="2.55" fill="#2f8535"/>
<circle cx="541.50" cy="402.20" r="2.55" fill="#2f8535"/>
<circle cx="550.60" cy="405.80" r="2.55" fill="#2f8535"/>
<circle cx="559.60" cy="409.40" r="2.55" fill="#2f8535"/>
<circle cx="568.60" cy="412.90" r="2.55" fill="#2f8535"/>
<circle cx="577.60" cy="416.40" r="2.55" fill="#2f8535"/>
<circle cx="586.80" cy="419.90" r="2.55" fill="#2f8535"/>
<circle cx="594.10" cy="422.30" r="2.55" fill="#2f8535"/>
<circle cx="602.30" cy="425.10" r="2.55" fill="#2f8535"/>
<circle cx="610.50" cy="427.90" r="2.55" fill="#2f8535"/>
<circle cx="618.70" cy="430.60" r="2.55" fill="#2f8535"/>
<circle cx="622.20" cy="431.80" r="2.55" fill="#2f8535"/>
<circle cx="631.00" cy="434.40" r="2.55" fill="#2f8535"/>
<circle cx="639.80" cy="437.10" r="2.55" fill="#2f8535"/>
<circle cx="648.80" cy="439.90" r="2.55" fill="#2f8535"/>
<circle cx="658.10" cy="442.60" r="2.55" fill="#2f8535"/>
<circle cx="667.10" cy="445.00" r="2.55" fill="#2f8535"/>
<circle cx="675.00" cy="447.30" r="2.55" fill="#2f8535"/>
<path d="M399.58,481.60 L407.90,482.69 L416.22,483.78 L424.54,484.58 L432.86,484.78 L441.18,484.98 L449.50,484.78 L457.82,484.58 L466.14,484.58 L474.46,485.08 L482.78,485.97 L491.10,486.17 L499.42,485.97 L507.74,485.38 L516.06,484.98 L524.38,485.67 L532.70,487.07 L541.02,486.87 L549.34,485.97 L557.66,485.38 L565.98,485.97 L574.30,485.97 L582.62,485.38 L590.94,487.66 L599.26,488.26 L607.58,486.17 L615.90,485.38 L624.22,486.67 L632.54,487.86 L640.86,487.86 L649.18,486.37 L657.50,485.38 L665.82,483.59 L674.14,484.48" fill="none" stroke="#da2c1c" stroke-width="2.1" stroke-linejoin="round"/>
<circle cx="399.6" cy="481.6" r="5.1" fill="#da2c1c"/><path d="M396.31,483.10 L402.85,483.10 A3.6,3.6 0 0 1 396.31,483.10Z" fill="#fff"/>
<circle cx="407.9" cy="482.7" r="5.1" fill="#da2c1c"/><path d="M404.63,484.19 L411.17,484.19 A3.6,3.6 0 0 1 404.63,484.19Z" fill="#fff"/>
<circle cx="416.2" cy="483.8" r="5.1" fill="#da2c1c"/><path d="M412.95,485.28 L419.49,485.28 A3.6,3.6 0 0 1 412.95,485.28Z" fill="#fff"/>
<circle cx="424.5" cy="484.6" r="5.1" fill="#da2c1c"/><path d="M421.27,486.08 L427.81,486.08 A3.6,3.6 0 0 1 421.27,486.08Z" fill="#fff"/>
<circle cx="432.9" cy="484.8" r="5.1" fill="#da2c1c"/><path d="M429.59,486.28 L436.13,486.28 A3.6,3.6 0 0 1 429.59,486.28Z" fill="#fff"/>
<circle cx="441.2" cy="485.0" r="5.1" fill="#da2c1c"/><path d="M437.91,486.48 L444.45,486.48 A3.6,3.6 0 0 1 437.91,486.48Z" fill="#fff"/>
<circle cx="449.5" cy="484.8" r="5.1" fill="#da2c1c"/><path d="M446.23,486.28 L452.77,486.28 A3.6,3.6 0 0 1 446.23,486.28Z" fill="#fff"/>
<circle cx="457.8" cy="484.6" r="5.1" fill="#da2c1c"/><path d="M454.55,486.08 L461.09,486.08 A3.6,3.6 0 0 1 454.55,486.08Z" fill="#fff"/>
<circle cx="466.1" cy="484.6" r="5.1" fill="#da2c1c"/><path d="M462.87,486.08 L469.41,486.08 A3.6,3.6 0 0 1 462.87,486.08Z" fill="#fff"/>
<circle cx="474.5" cy="485.1" r="5.1" fill="#da2c1c"/><path d="M471.19,486.58 L477.73,486.58 A3.6,3.6 0 0 1 471.19,486.58Z" fill="#fff"/>
<circle cx="482.8" cy="486.0" r="5.1" fill="#da2c1c"/><path d="M479.51,487.47 L486.05,487.47 A3.6,3.6 0 0 1 479.51,487.47Z" fill="#fff"/>
<circle cx="491.1" cy="486.2" r="5.1" fill="#da2c1c"/><path d="M487.83,487.67 L494.37,487.67 A3.6,3.6 0 0 1 487.83,487.67Z" fill="#fff"/>
<circle cx="499.4" cy="486.0" r="5.1" fill="#da2c1c"/><path d="M496.15,487.47 L502.69,487.47 A3.6,3.6 0 0 1 496.15,487.47Z" fill="#fff"/>
<circle cx="507.7" cy="485.4" r="5.1" fill="#da2c1c"/><path d="M504.47,486.88 L511.01,486.88 A3.6,3.6 0 0 1 504.47,486.88Z" fill="#fff"/>
<circle cx="516.1" cy="485.0" r="5.1" fill="#da2c1c"/><path d="M512.79,486.48 L519.33,486.48 A3.6,3.6 0 0 1 512.79,486.48Z" fill="#fff"/>
<circle cx="524.4" cy="485.7" r="5.1" fill="#da2c1c"/><path d="M521.11,487.17 L527.65,487.17 A3.6,3.6 0 0 1 521.11,487.17Z" fill="#fff"/>
<circle cx="532.7" cy="487.1" r="5.1" fill="#da2c1c"/><path d="M529.43,488.57 L535.97,488.57 A3.6,3.6 0 0 1 529.43,488.57Z" fill="#fff"/>
<circle cx="541.0" cy="486.9" r="5.1" fill="#da2c1c"/><path d="M537.75,488.37 L544.29,488.37 A3.6,3.6 0 0 1 537.75,488.37Z" fill="#fff"/>
<circle cx="549.3" cy="486.0" r="5.1" fill="#da2c1c"/><path d="M546.07,487.47 L552.61,487.47 A3.6,3.6 0 0 1 546.07,487.47Z" fill="#fff"/>
<circle cx="557.7" cy="485.4" r="5.1" fill="#da2c1c"/><path d="M554.39,486.88 L560.93,486.88 A3.6,3.6 0 0 1 554.39,486.88Z" fill="#fff"/>
<circle cx="566.0" cy="486.0" r="5.1" fill="#da2c1c"/><path d="M562.71,487.47 L569.25,487.47 A3.6,3.6 0 0 1 562.71,487.47Z" fill="#fff"/>
<circle cx="574.3" cy="486.0" r="5.1" fill="#da2c1c"/><path d="M571.03,487.47 L577.57,487.47 A3.6,3.6 0 0 1 571.03,487.47Z" fill="#fff"/>
<circle cx="582.6" cy="485.4" r="5.1" fill="#da2c1c"/><path d="M579.35,486.88 L585.89,486.88 A3.6,3.6 0 0 1 579.35,486.88Z" fill="#fff"/>
<circle cx="590.9" cy="487.7" r="5.1" fill="#da2c1c"/><path d="M587.67,489.16 L594.21,489.16 A3.6,3.6 0 0 1 587.67,489.16Z" fill="#fff"/>
<circle cx="599.3" cy="488.3" r="5.1" fill="#da2c1c"/><path d="M595.99,489.76 L602.53,489.76 A3.6,3.6 0 0 1 595.99,489.76Z" fill="#fff"/>
<circle cx="607.6" cy="486.2" r="5.1" fill="#da2c1c"/><path d="M604.31,487.67 L610.85,487.67 A3.6,3.6 0 0 1 604.31,487.67Z" fill="#fff"/>
<circle cx="615.9" cy="485.4" r="5.1" fill="#da2c1c"/><path d="M612.63,486.88 L619.17,486.88 A3.6,3.6 0 0 1 612.63,486.88Z" fill="#fff"/>
<circle cx="624.2" cy="486.7" r="5.1" fill="#da2c1c"/><path d="M620.95,488.17 L627.49,488.17 A3.6,3.6 0 0 1 620.95,488.17Z" fill="#fff"/>
<circle cx="632.5" cy="487.9" r="5.1" fill="#da2c1c"/><path d="M629.27,489.36 L635.81,489.36 A3.6,3.6 0 0 1 629.27,489.36Z" fill="#fff"/>
<circle cx="640.9" cy="487.9" r="5.1" fill="#da2c1c"/><path d="M637.59,489.36 L644.13,489.36 A3.6,3.6 0 0 1 637.59,489.36Z" fill="#fff"/>
<circle cx="649.2" cy="486.4" r="5.1" fill="#da2c1c"/><path d="M645.91,487.87 L652.45,487.87 A3.6,3.6 0 0 1 645.91,487.87Z" fill="#fff"/>
<circle cx="657.5" cy="485.4" r="5.1" fill="#da2c1c"/><path d="M654.23,486.88 L660.77,486.88 A3.6,3.6 0 0 1 654.23,486.88Z" fill="#fff"/>
<circle cx="665.8" cy="483.6" r="5.1" fill="#da2c1c"/><path d="M662.55,485.09 L669.09,485.09 A3.6,3.6 0 0 1 662.55,485.09Z" fill="#fff"/>
<circle cx="674.1" cy="484.5" r="5.1" fill="#da2c1c"/><path d="M670.87,485.98 L677.41,485.98 A3.6,3.6 0 0 1 670.87,485.98Z" fill="#fff"/>
<circle cx="400.00" cy="483.20" r="2.55" fill="#6a4cb8"/>
<circle cx="409.70" cy="483.80" r="2.55" fill="#6a4cb8"/>
<circle cx="419.00" cy="485.00" r="2.55" fill="#6a4cb8"/>
<circle cx="429.00" cy="485.50" r="2.55" fill="#6a4cb8"/>
<circle cx="438.30" cy="486.10" r="2.55" fill="#6a4cb8"/>
<circle cx="448.20" cy="486.10" r="2.55" fill="#6a4cb8"/>
<circle cx="457.60" cy="486.40" r="2.55" fill="#6a4cb8"/>
<circle cx="466.90" cy="486.60" r="2.55" fill="#6a4cb8"/>
<circle cx="476.70" cy="486.40" r="2.55" fill="#6a4cb8"/>
<circle cx="486.60" cy="486.30" r="2.55" fill="#6a4cb8"/>
<circle cx="496.30" cy="486.30" r="2.55" fill="#6a4cb8"/>
<circle cx="506.20" cy="486.60" r="2.55" fill="#6a4cb8"/>
<circle cx="515.80" cy="486.60" r="2.55" fill="#6a4cb8"/>
<circle cx="525.20" cy="486.90" r="2.55" fill="#6a4cb8"/>
<circle cx="534.80" cy="487.00" r="2.55" fill="#6a4cb8"/>
<circle cx="545.00" cy="487.00" r="2.55" fill="#6a4cb8"/>
<circle cx="549.10" cy="487.00" r="2.55" fill="#6a4cb8"/>
<circle cx="559.00" cy="486.90" r="2.55" fill="#6a4cb8"/>
<circle cx="568.30" cy="486.90" r="2.55" fill="#6a4cb8"/>
<circle cx="578.00" cy="486.90" r="2.55" fill="#6a4cb8"/>
<circle cx="588.00" cy="486.90" r="2.55" fill="#6a4cb8"/>
<circle cx="597.60" cy="486.90" r="2.55" fill="#6a4cb8"/>
<circle cx="607.40" cy="486.80" r="2.55" fill="#6a4cb8"/>
<circle cx="617.30" cy="486.80" r="2.55" fill="#6a4cb8"/>
<circle cx="627.10" cy="486.80" r="2.55" fill="#6a4cb8"/>
<circle cx="636.70" cy="486.80" r="2.55" fill="#6a4cb8"/>
<circle cx="646.50" cy="487.10" r="2.55" fill="#6a4cb8"/>
<circle cx="656.30" cy="487.10" r="2.55" fill="#6a4cb8"/>
<circle cx="666.10" cy="487.10" r="2.55" fill="#6a4cb8"/>
<circle cx="675.70" cy="487.10" r="2.55" fill="#6a4cb8"/>
<path d="M399.58,443.29 L407.90,447.96 L416.22,452.04 L424.54,453.54 L432.86,455.23 L441.18,457.82 L449.50,459.01 L457.82,459.61 L466.14,459.61 L474.46,461.89 L482.78,463.19 L491.10,463.79 L499.42,464.88 L507.74,463.79 L516.06,462.59 L524.38,464.88 L532.70,468.36 L541.02,469.36 L549.34,467.27 L557.66,467.86 L565.98,471.94 L574.30,469.66 L582.62,470.15 L590.94,472.54 L599.26,469.66 L607.58,474.63 L615.90,475.63 L624.22,476.42 L632.54,475.53 L640.86,479.21 L649.18,481.60 L657.50,480.70 L665.82,478.71 L674.14,477.62" fill="none" stroke="#2e2d85" stroke-width="2.1" stroke-linejoin="round"/>
<path d="M399.6,437.1 L405.2,440.2 L405.2,446.4 L399.6,449.5 L394.0,446.4 L394.0,440.2Z" fill="#2e2d85"/><path d="M396.0,444.4 L403.2,444.4 L403.2,445.2 L399.6,447.4 L396.0,445.2Z" fill="#fff"/>
<path d="M407.9,441.8 L413.5,444.9 L413.5,451.1 L407.9,454.2 L402.3,451.1 L402.3,444.9Z" fill="#2e2d85"/><path d="M404.3,449.1 L411.5,449.1 L411.5,449.9 L407.9,452.1 L404.3,449.9Z" fill="#fff"/>
<path d="M416.2,445.8 L421.8,448.9 L421.8,455.1 L416.2,458.2 L410.6,455.1 L410.6,448.9Z" fill="#2e2d85"/><path d="M412.6,453.1 L419.8,453.1 L419.8,453.9 L416.2,456.1 L412.6,453.9Z" fill="#fff"/>
<path d="M424.5,447.3 L430.1,450.4 L430.1,456.6 L424.5,459.7 L418.9,456.6 L418.9,450.4Z" fill="#2e2d85"/><path d="M420.9,454.6 L428.1,454.6 L428.1,455.4 L424.5,457.6 L420.9,455.4Z" fill="#fff"/>
<path d="M432.9,449.0 L438.5,452.1 L438.5,458.3 L432.9,461.4 L427.3,458.3 L427.3,452.1Z" fill="#2e2d85"/><path d="M429.3,456.3 L436.5,456.3 L436.5,457.1 L432.9,459.3 L429.3,457.1Z" fill="#fff"/>
<path d="M441.2,451.6 L446.8,454.7 L446.8,460.9 L441.2,464.0 L435.6,460.9 L435.6,454.7Z" fill="#2e2d85"/><path d="M437.6,458.9 L444.8,458.9 L444.8,459.7 L441.2,461.9 L437.6,459.7Z" fill="#fff"/>
<path d="M449.5,452.8 L455.1,455.9 L455.1,462.1 L449.5,465.2 L443.9,462.1 L443.9,455.9Z" fill="#2e2d85"/><path d="M445.9,460.1 L453.1,460.1 L453.1,460.9 L449.5,463.1 L445.9,460.9Z" fill="#fff"/>
<path d="M457.8,453.4 L463.4,456.5 L463.4,462.7 L457.8,465.8 L452.2,462.7 L452.2,456.5Z" fill="#2e2d85"/><path d="M454.2,460.7 L461.4,460.7 L461.4,461.5 L457.8,463.7 L454.2,461.5Z" fill="#fff"/>
<path d="M466.1,453.4 L471.7,456.5 L471.7,462.7 L466.1,465.8 L460.5,462.7 L460.5,456.5Z" fill="#2e2d85"/><path d="M462.5,460.7 L469.7,460.7 L469.7,461.5 L466.1,463.7 L462.5,461.5Z" fill="#fff"/>
<path d="M474.5,455.7 L480.1,458.8 L480.1,465.0 L474.5,468.1 L468.9,465.0 L468.9,458.8Z" fill="#2e2d85"/><path d="M470.9,463.0 L478.1,463.0 L478.1,463.8 L474.5,466.0 L470.9,463.8Z" fill="#fff"/>
<path d="M482.8,457.0 L488.4,460.1 L488.4,466.3 L482.8,469.4 L477.2,466.3 L477.2,460.1Z" fill="#2e2d85"/><path d="M479.2,464.3 L486.4,464.3 L486.4,465.1 L482.8,467.3 L479.2,465.1Z" fill="#fff"/>
<path d="M491.1,457.6 L496.7,460.7 L496.7,466.9 L491.1,470.0 L485.5,466.9 L485.5,460.7Z" fill="#2e2d85"/><path d="M487.5,464.9 L494.7,464.9 L494.7,465.7 L491.1,467.9 L487.5,465.7Z" fill="#fff"/>
<path d="M499.4,458.7 L505.0,461.8 L505.0,468.0 L499.4,471.1 L493.8,468.0 L493.8,461.8Z" fill="#2e2d85"/><path d="M495.8,466.0 L503.0,466.0 L503.0,466.8 L499.4,469.0 L495.8,466.8Z" fill="#fff"/>
<path d="M507.7,457.6 L513.3,460.7 L513.3,466.9 L507.7,470.0 L502.1,466.9 L502.1,460.7Z" fill="#2e2d85"/><path d="M504.1,464.9 L511.3,464.9 L511.3,465.7 L507.7,467.9 L504.1,465.7Z" fill="#fff"/>
<path d="M516.1,456.4 L521.7,459.5 L521.7,465.7 L516.1,468.8 L510.5,465.7 L510.5,459.5Z" fill="#2e2d85"/><path d="M512.5,463.7 L519.7,463.7 L519.7,464.5 L516.1,466.7 L512.5,464.5Z" fill="#fff"/>
<path d="M524.4,458.7 L530.0,461.8 L530.0,468.0 L524.4,471.1 L518.8,468.0 L518.8,461.8Z" fill="#2e2d85"/><path d="M520.8,466.0 L528.0,466.0 L528.0,466.8 L524.4,469.0 L520.8,466.8Z" fill="#fff"/>
<path d="M532.7,462.2 L538.3,465.3 L538.3,471.5 L532.7,474.6 L527.1,471.5 L527.1,465.3Z" fill="#2e2d85"/><path d="M529.1,469.5 L536.3,469.5 L536.3,470.3 L532.7,472.5 L529.1,470.3Z" fill="#fff"/>
<path d="M541.0,463.2 L546.6,466.3 L546.6,472.5 L541.0,475.6 L535.4,472.5 L535.4,466.3Z" fill="#2e2d85"/><path d="M537.4,470.5 L544.6,470.5 L544.6,471.3 L541.0,473.5 L537.4,471.3Z" fill="#fff"/>
<path d="M549.3,461.1 L554.9,464.2 L554.9,470.4 L549.3,473.5 L543.7,470.4 L543.7,464.2Z" fill="#2e2d85"/><path d="M545.7,468.4 L552.9,468.4 L552.9,469.2 L549.3,471.4 L545.7,469.2Z" fill="#fff"/>
<path d="M557.7,461.7 L563.3,464.8 L563.3,471.0 L557.7,474.1 L552.1,471.0 L552.1,464.8Z" fill="#2e2d85"/><path d="M554.1,469.0 L561.3,469.0 L561.3,469.8 L557.7,472.0 L554.1,469.8Z" fill="#fff"/>
<path d="M566.0,465.7 L571.6,468.8 L571.6,475.0 L566.0,478.1 L560.4,475.0 L560.4,468.8Z" fill="#2e2d85"/><path d="M562.4,473.0 L569.6,473.0 L569.6,473.8 L566.0,476.0 L562.4,473.8Z" fill="#fff"/>
<path d="M574.3,463.5 L579.9,466.6 L579.9,472.8 L574.3,475.9 L568.7,472.8 L568.7,466.6Z" fill="#2e2d85"/><path d="M570.7,470.8 L577.9,470.8 L577.9,471.6 L574.3,473.8 L570.7,471.6Z" fill="#fff"/>
<path d="M582.6,464.0 L588.2,467.1 L588.2,473.3 L582.6,476.4 L577.0,473.3 L577.0,467.1Z" fill="#2e2d85"/><path d="M579.0,471.3 L586.2,471.3 L586.2,472.1 L582.6,474.3 L579.0,472.1Z" fill="#fff"/>
<path d="M590.9,466.3 L596.5,469.4 L596.5,475.6 L590.9,478.7 L585.3,475.6 L585.3,469.4Z" fill="#2e2d85"/><path d="M587.3,473.6 L594.5,473.6 L594.5,474.4 L590.9,476.6 L587.3,474.4Z" fill="#fff"/>
<path d="M599.3,463.5 L604.9,466.6 L604.9,472.8 L599.3,475.9 L593.7,472.8 L593.7,466.6Z" fill="#2e2d85"/><path d="M595.7,470.8 L602.9,470.8 L602.9,471.6 L599.3,473.8 L595.7,471.6Z" fill="#fff"/>
<path d="M607.6,468.4 L613.2,471.5 L613.2,477.7 L607.6,480.8 L602.0,477.7 L602.0,471.5Z" fill="#2e2d85"/><path d="M604.0,475.7 L611.2,475.7 L611.2,476.5 L607.6,478.7 L604.0,476.5Z" fill="#fff"/>
<path d="M615.9,469.4 L621.5,472.5 L621.5,478.7 L615.9,481.8 L610.3,478.7 L610.3,472.5Z" fill="#2e2d85"/><path d="M612.3,476.7 L619.5,476.7 L619.5,477.5 L615.9,479.7 L612.3,477.5Z" fill="#fff"/>
<path d="M624.2,470.2 L629.8,473.3 L629.8,479.5 L624.2,482.6 L618.6,479.5 L618.6,473.3Z" fill="#2e2d85"/><path d="M620.6,477.5 L627.8,477.5 L627.8,478.3 L624.2,480.5 L620.6,478.3Z" fill="#fff"/>
<path d="M632.5,469.3 L638.1,472.4 L638.1,478.6 L632.5,481.7 L626.9,478.6 L626.9,472.4Z" fill="#2e2d85"/><path d="M628.9,476.6 L636.1,476.6 L636.1,477.4 L632.5,479.6 L628.9,477.4Z" fill="#fff"/>
<path d="M640.9,473.0 L646.5,476.1 L646.5,482.3 L640.9,485.4 L635.3,482.3 L635.3,476.1Z" fill="#2e2d85"/><path d="M637.3,480.3 L644.5,480.3 L644.5,481.1 L640.9,483.3 L637.3,481.1Z" fill="#fff"/>
<path d="M649.2,475.4 L654.8,478.5 L654.8,484.7 L649.2,487.8 L643.6,484.7 L643.6,478.5Z" fill="#2e2d85"/><path d="M645.6,482.7 L652.8,482.7 L652.8,483.5 L649.2,485.7 L645.6,483.5Z" fill="#fff"/>
<path d="M657.5,474.5 L663.1,477.6 L663.1,483.8 L657.5,486.9 L651.9,483.8 L651.9,477.6Z" fill="#2e2d85"/><path d="M653.9,481.8 L661.1,481.8 L661.1,482.6 L657.5,484.8 L653.9,482.6Z" fill="#fff"/>
<path d="M665.8,472.5 L671.4,475.6 L671.4,481.8 L665.8,484.9 L660.2,481.8 L660.2,475.6Z" fill="#2e2d85"/><path d="M662.2,479.8 L669.4,479.8 L669.4,480.6 L665.8,482.8 L662.2,480.6Z" fill="#fff"/>
<path d="M674.1,471.4 L679.7,474.5 L679.7,480.7 L674.1,483.8 L668.5,480.7 L668.5,474.5Z" fill="#2e2d85"/><path d="M670.5,478.7 L677.7,478.7 L677.7,479.5 L674.1,481.7 L670.5,479.5Z" fill="#fff"/>
<circle cx="399.10" cy="447.50" r="2.55" fill="#ee7b22"/>
<circle cx="408.60" cy="449.60" r="2.55" fill="#ee7b22"/>
<circle cx="418.40" cy="452.00" r="2.55" fill="#ee7b22"/>
<circle cx="428.20" cy="454.00" r="2.55" fill="#ee7b22"/>
<circle cx="437.70" cy="455.80" r="2.55" fill="#ee7b22"/>
<circle cx="447.30" cy="457.80" r="2.55" fill="#ee7b22"/>
<circle cx="456.80" cy="459.00" r="2.55" fill="#ee7b22"/>
<circle cx="464.20" cy="460.30" r="2.55" fill="#ee7b22"/>
<circle cx="473.80" cy="461.80" r="2.55" fill="#ee7b22"/>
<circle cx="481.70" cy="462.80" r="2.55" fill="#ee7b22"/>
<circle cx="491.20" cy="463.90" r="2.55" fill="#ee7b22"/>
<circle cx="500.80" cy="465.10" r="2.55" fill="#ee7b22"/>
<circle cx="510.30" cy="466.30" r="2.55" fill="#ee7b22"/>
<circle cx="520.40" cy="467.20" r="2.55" fill="#ee7b22"/>
<circle cx="530.10" cy="468.30" r="2.55" fill="#ee7b22"/>
<circle cx="539.70" cy="469.30" r="2.55" fill="#ee7b22"/>
<circle cx="549.00" cy="470.30" r="2.55" fill="#ee7b22"/>
<circle cx="558.50" cy="471.10" r="2.55" fill="#ee7b22"/>
<circle cx="568.30" cy="471.90" r="2.55" fill="#ee7b22"/>
<circle cx="578.00" cy="472.80" r="2.55" fill="#ee7b22"/>
<circle cx="587.90" cy="473.40" r="2.55" fill="#ee7b22"/>
<circle cx="597.50" cy="474.20" r="2.55" fill="#ee7b22"/>
<circle cx="607.20" cy="474.90" r="2.55" fill="#ee7b22"/>
<circle cx="617.20" cy="475.60" r="2.55" fill="#ee7b22"/>
<circle cx="627.00" cy="476.30" r="2.55" fill="#ee7b22"/>
<circle cx="636.50" cy="477.00" r="2.55" fill="#ee7b22"/>
<circle cx="646.50" cy="477.50" r="2.55" fill="#ee7b22"/>
<circle cx="656.40" cy="478.10" r="2.55" fill="#ee7b22"/>
<circle cx="666.00" cy="478.60" r="2.55" fill="#ee7b22"/>
<circle cx="675.00" cy="479.40" r="2.55" fill="#ee7b22"/>
</g>
<rect x="401.50" y="300.30" width="273.80" height="220.00" fill="none" stroke="#222" stroke-width="1.3"/>
<text transform="translate(401.50 539.40) scale(1 1.05)" font-size="14" text-anchor="middle" fill="#111">2</text>
<text transform="translate(435.73 539.40) scale(1 1.05)" font-size="14" text-anchor="middle" fill="#111">4</text>
<text transform="translate(469.95 539.40) scale(1 1.05)" font-size="14" text-anchor="middle" fill="#111">6</text>
<text transform="translate(504.17 539.40) scale(1 1.05)" font-size="14" text-anchor="middle" fill="#111">8</text>
<text transform="translate(538.40 539.40) scale(1 1.05)" font-size="14" text-anchor="middle" fill="#111">10</text>
<text transform="translate(572.62 539.40) scale(1 1.05)" font-size="14" text-anchor="middle" fill="#111">12</text>
<text transform="translate(606.85 539.40) scale(1 1.05)" font-size="14" text-anchor="middle" fill="#111">14</text>
<text transform="translate(641.07 539.40) scale(1 1.05)" font-size="14" text-anchor="middle" fill="#111">16</text>
<text transform="translate(675.30 539.40) scale(1 1.05)" font-size="14" text-anchor="middle" fill="#111">18</text>
<text transform="translate(394.70 525.70) scale(1 1.05)" font-size="14" text-anchor="end" fill="#111">0</text>
<text transform="translate(394.70 489.03) scale(1 1.05)" font-size="14" text-anchor="end" fill="#111">5</text>
<text transform="translate(394.70 452.37) scale(1 1.05)" font-size="14" text-anchor="end" fill="#111">10</text>
<text transform="translate(394.70 415.70) scale(1 1.05)" font-size="14" text-anchor="end" fill="#111">15</text>
<text transform="translate(394.70 379.03) scale(1 1.05)" font-size="14" text-anchor="end" fill="#111">20</text>
<text transform="translate(394.70 342.37) scale(1 1.05)" font-size="14" text-anchor="end" fill="#111">25</text>
<text transform="translate(394.70 305.70) scale(1 1.05)" font-size="14" text-anchor="end" fill="#111">30</text>
<path d="M401.50,520.30 v4.2 M418.61,520.30 v2.4 M435.73,520.30 v4.2 M452.84,520.30 v2.4 M469.95,520.30 v4.2 M487.06,520.30 v2.4 M504.17,520.30 v4.2 M521.29,520.30 v2.4 M538.40,520.30 v4.2 M555.51,520.30 v2.4 M572.62,520.30 v4.2 M589.74,520.30 v2.4 M606.85,520.30 v4.2 M623.96,520.30 v2.4 M641.07,520.30 v4.2 M658.19,520.30 v2.4 M675.30,520.30 v4.2 M401.50,520.30 h-4.2 M401.50,501.97 h-2.0 M401.50,483.63 h-4.2 M401.50,465.30 h-2.0 M401.50,446.97 h-4.2 M401.50,428.63 h-2.0 M401.50,410.30 h-4.2 M401.50,391.97 h-2.0 M401.50,373.63 h-4.2 M401.50,355.30 h-2.0 M401.50,336.97 h-4.2 M401.50,318.63 h-2.0 M401.50,300.30 h-4.2" stroke="#222" stroke-width="1.2" fill="none"/>
<text x="539.70" y="556.40" font-size="14.4" text-anchor="middle" fill="#111">Frequency (GHz)</text>
<text x="368.90" y="413.90" font-size="14" text-anchor="middle" fill="#111" transform="rotate(-90 368.90 413.90)" dy="5">ε</text>
<path d="M363.10,409.35 Q363.30,408.55 364.60,408.65 L367.00,409.10 L367.00,409.60 L364.60,410.05 Q363.30,410.15 363.10,409.35 Z" fill="#111"/>
<text x="355.10" y="296.00" font-size="14.5" font-weight="bold" fill="#111" stroke="#111" stroke-width="0.2">(d)</text>
<path d="M583.6,311.30 H607.6" stroke="#0b0b0b" stroke-width="2.0" stroke-linecap="round"/>
<path d="M591.1,306.7 L600.3,306.7 L600.3,315.9 L591.1,315.9Z" fill="#0b0b0b"/><path d="M592.9,312.3 L598.5,312.3 L598.5,314.2 L592.9,314.2Z" fill="#fff"/>
<text x="611.7" y="314.90" font-size="10.4" font-weight="bold" fill="#111" stroke="#111" stroke-width="0.25">PLC<tspan font-size="6.3" dy="3.6">exp</tspan></text>
<circle cx="583.90" cy="326.38" r="2.55" fill="#2f8535"/>
<circle cx="593.50" cy="326.38" r="2.55" fill="#2f8535"/>
<circle cx="603.10" cy="326.38" r="2.55" fill="#2f8535"/>
<text x="611.7" y="329.98" font-size="10.4" font-weight="bold" fill="#111" stroke="#111" stroke-width="0.25">PLC<tspan font-size="6.3" dy="3.6">fit</tspan></text>
<path d="M583.6,341.46 H607.6" stroke="#da2c1c" stroke-width="2.0" stroke-linecap="round"/>
<circle cx="595.7" cy="341.5" r="5.1" fill="#da2c1c"/><path d="M592.43,342.96 L598.97,342.96 A3.6,3.6 0 0 1 592.43,342.96Z" fill="#fff"/>
<text x="611.7" y="345.06" font-size="10.4" font-weight="bold" fill="#111" stroke="#111" stroke-width="0.25">PMS<tspan font-size="6.3" dy="3.6">exp</tspan></text>
<circle cx="583.90" cy="356.54" r="2.55" fill="#6a4cb8"/>
<circle cx="593.50" cy="356.54" r="2.55" fill="#6a4cb8"/>
<circle cx="603.10" cy="356.54" r="2.55" fill="#6a4cb8"/>
<text x="611.7" y="360.14" font-size="10.4" font-weight="bold" fill="#111" stroke="#111" stroke-width="0.25">PMS<tspan font-size="6.3" dy="3.6">fit</tspan></text>
<path d="M583.6,371.62 H607.6" stroke="#2e2d85" stroke-width="2.0" stroke-linecap="round"/>
<path d="M595.7,365.4 L601.3,368.5 L601.3,374.7 L595.7,377.8 L590.1,374.7 L590.1,368.5Z" fill="#2e2d85"/><path d="M592.1,372.7 L599.3,372.7 L599.3,373.5 L595.7,375.7 L592.1,373.5Z" fill="#fff"/>
<text x="611.7" y="375.22" font-size="10.4" font-weight="bold" fill="#111" stroke="#111" stroke-width="0.25">LCMS-700<tspan font-size="6.3" dy="3.6">exp</tspan></text>
<circle cx="583.90" cy="386.70" r="2.55" fill="#ee7b22"/>
<circle cx="593.50" cy="386.70" r="2.55" fill="#ee7b22"/>
<circle cx="603.10" cy="386.70" r="2.55" fill="#ee7b22"/>
<text x="611.7" y="390.30" font-size="10.4" font-weight="bold" fill="#111" stroke="#111" stroke-width="0.25">LCMS-700<tspan font-size="6.3" dy="3.6">fit</tspan></text>
<text transform="translate(480.4 363.4) scale(1 1.05)" x="0" y="0" font-size="14.0" font-weight="bold" fill="#2f8535">A=0.01</text>
<text transform="translate(449.8 447.6) scale(1 1.05)" x="0" y="0" font-size="14.0" font-weight="bold" fill="#ee7b22">A=0.38</text>
<text transform="translate(462.7 508.8) scale(1 1.05)" x="0" y="0" font-size="14.0" font-weight="bold" fill="#6a4cb8">A=0.07</text>
</svg></body></html>
